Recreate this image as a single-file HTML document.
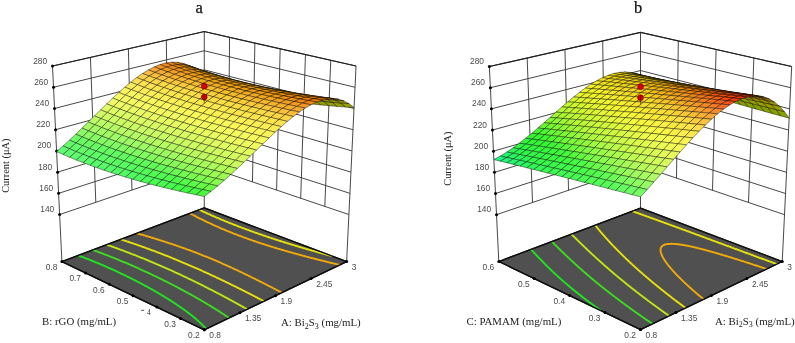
<!DOCTYPE html><html><head><meta charset="utf-8"><style>html,body{margin:0;padding:0;background:#fff}svg{display:block;will-change:transform}</style></head><body>
<svg width="795" height="343" viewBox="0 0 795 343">
<rect width="795" height="343" fill="#fff"/>
<path d="M59.64 214.56L204.27 165.56M204.27 165.56L348.9 214.56M58.62 193.35L204.27 146.42M204.27 146.42L349.92 193.35M57.6 172.13L204.27 127.28M204.27 127.28L350.94 172.13M56.58 150.92L204.27 108.14M204.27 108.14L351.97 150.92M55.56 129.7L204.27 89M204.27 89L352.99 129.7M54.53 108.49L204.27 69.86M204.27 69.86L354.01 108.49M53.51 87.27L204.27 50.72M204.27 50.72L355.03 87.27M52.49 66.06L204.27 31.58M204.27 31.58L356.05 66.06M95.8 202.31L90.44 57.44M131.96 190.06L128.38 48.82M168.11 177.81L166.33 40.2M228.38 173.73L229.57 37.33M252.48 181.9L254.86 43.07M276.59 190.06L280.16 48.82M300.69 198.23L305.46 54.57M324.8 206.4L330.75 60.31M204.27 207.96L204.27 31.58" stroke="#333" stroke-width="0.9" fill="none"/>
<path d="M61.9 261.55L52.49 66.06M346.64 261.55L356.05 66.06" stroke="#333" stroke-width="0.9" fill="none"/>
<path d="M52.49 66.06L204.27 31.58L356.05 66.06" stroke="#222" stroke-width="1.1" fill="none"/>
<path d="M204.27 329.84 L346.64 261.55 L204.27 207.96 L61.9 261.55 Z" fill="#505050" stroke="#111" stroke-width="1.3" stroke-linejoin="round"/>
<path d="M206.15 328.94 L205.95 328.71 L205.75 328.48 L205.35 328.03 L204.95 327.59 L204.94 327.58 L204.53 327.14 L204.12 326.7 L203.87 326.43 L203.7 326.26 L203.28 325.82 L202.86 325.38 L202.72 325.24 L202.43 324.95 L201.99 324.52 L201.56 324.1 L201.48 324.02 L201.12 323.67 L200.68 323.25 L200.24 322.83 L200.16 322.76 L199.79 322.41 L199.34 322 L198.89 321.58 L198.75 321.45 L198.44 321.17 L197.98 320.76 L197.52 320.35 L197.24 320.11 L197.06 319.95 L196.59 319.55 L196.13 319.14 L195.66 318.74 L195.63 318.72 L195.19 318.35 L194.72 317.95 L194.25 317.56 L193.92 317.28 L193.77 317.16 L193.3 316.77 L192.82 316.38 L192.34 316 L192.08 315.79 L191.86 315.61 L191.37 315.23 L190.89 314.84 L190.4 314.46 L190.13 314.25 L189.91 314.08 L189.42 313.7 L188.93 313.33 L188.44 312.95 L188.04 312.64 L187.95 312.58 L187.45 312.2 L186.96 311.83 L186.46 311.46 L185.96 311.09 L185.8 310.97 L185.46 310.73 L184.96 310.36 L184.46 310 L183.96 309.63 L183.46 309.27 L183.41 309.23 L182.95 308.91 L182.45 308.55 L181.94 308.19 L181.43 307.83 L180.92 307.48 L180.83 307.41 L180.42 307.12 L179.9 306.77 L179.39 306.42 L178.88 306.06 L178.37 305.71 L178.05 305.5 L177.86 305.36 L177.34 305.02 L176.83 304.67 L176.31 304.32 L175.79 303.98 L175.28 303.63 L175.05 303.49 L174.76 303.29 L174.24 302.95 L173.72 302.61 L173.2 302.27 L172.68 301.93 L172.16 301.59 L171.78 301.35 L171.63 301.26 L171.11 300.92 L170.59 300.59 L170.06 300.25 L169.54 299.92 L169.01 299.59 L168.49 299.26 L168.19 299.07 L167.96 298.93 L167.43 298.6 L166.91 298.27 L166.38 297.94 L165.85 297.62 L165.32 297.29 L164.79 296.97 L164.26 296.64 L164.22 296.62 L163.73 296.32 L163.2 296 L162.67 295.68 L162.14 295.36 L161.6 295.04 L161.07 294.72 L160.54 294.41 L160 294.09 L159.75 293.94 L159.47 293.77 L158.93 293.46 L158.4 293.14 L157.86 292.83 L157.33 292.52 L156.79 292.21 L156.25 291.9 L155.71 291.59 L155.18 291.28 L154.64 290.97 L154.61 290.96 L154.1 290.66 L153.56 290.36 L153.02 290.05 L152.48 289.75 L151.94 289.44 L151.4 289.14 L150.86 288.83 L150.32 288.53 L149.78 288.23 L149.23 287.93 L148.69 287.63 L148.46 287.51 L148.15 287.33 L147.61 287.03 L147.06 286.74 L146.52 286.44 L145.97 286.14 L145.43 285.85 L144.88 285.56 L144.34 285.26 L143.79 284.97 L143.25 284.68 L142.7 284.38 L142.15 284.09 L141.61 283.8 L141.06 283.51 L140.52 283.23 L140.51 283.23 L139.97 282.94 L139.42 282.65 L138.87 282.36 L138.32 282.08 L137.77 281.79 L137.22 281.51 L136.67 281.23 L136.12 280.94 L135.57 280.66 L135.02 280.38 L134.47 280.1 L133.92 279.82 L133.36 279.54 L132.81 279.26 L132.26 278.98 L131.71 278.7 L131.15 278.43 L130.6 278.15 L130.05 277.87 L129.49 277.6 L128.94 277.32 L128.38 277.05 L127.83 276.78 L127.27 276.51 L126.92 276.33 L126.72 276.23 L126.16 275.96 L125.61 275.69 L125.05 275.42 L124.49 275.15 L123.94 274.89 L123.38 274.62 L122.82 274.35 L122.26 274.09 L121.7 273.82 L121.15 273.55 L120.59 273.29 L120.03 273.03 L119.47 272.76 L118.91 272.5 L118.35 272.24 L117.79 271.98 L117.23 271.72 L116.66 271.46 L116.1 271.2 L115.54 270.94 L114.98 270.68 L114.42 270.42 L113.85 270.17 L113.29 269.91 L112.73 269.65 L112.16 269.4 L111.6 269.14 L111.03 268.89 L110.47 268.64 L109.9 268.38 L109.34 268.13 L108.77 267.88 L108.2 267.63 L108.09 267.58 L107.64 267.38 L107.07 267.13 L106.5 266.88 L105.93 266.63 L105.37 266.39 L104.8 266.14 L104.23 265.89 L103.66 265.65 L103.09 265.4 L102.52 265.16 L101.95 264.91 L101.38 264.67 L100.8 264.43 L100.23 264.18 L99.66 263.94 L99.09 263.7 L98.52 263.46 L97.94 263.22 L97.37 262.98 L96.79 262.74 L96.22 262.51 L95.64 262.27 L95.07 262.03 L94.49 261.8 L94.18 261.67 L93.92 261.56 L93.34 261.32 L92.76 261.09 L92.19 260.86 L91.61 260.62 L91.03 260.39 L90.45 260.16 L89.87 259.93 L89.29 259.7 L88.71 259.47 L88.13 259.24 L87.55 259.01 L86.97 258.78 L86.39 258.55 L85.88 258.35 L85.8 258.32 L85.22 258.1 L84.64 257.87 L84.05 257.65 L83.47 257.42 L82.88 257.2 L82.3 256.97 L81.71 256.75 L81.12 256.53 L80.54 256.31 L79.95 256.08 L79.36 255.86 L79.36 255.86 L78.77 255.64 L78.18 255.42" stroke="#1ee61e" stroke-width="1.9" fill="none" stroke-linejoin="round"/>
<path d="M229.09 317.93 L228.54 317.56 L228 317.19 L227.93 317.15 L227.45 316.83 L226.9 316.46 L226.35 316.09 L225.8 315.73 L225.25 315.36 L225.01 315.2 L224.7 315 L224.15 314.64 L223.6 314.28 L223.05 313.92 L222.49 313.56 L221.94 313.2 L221.91 313.18 L221.39 312.84 L220.84 312.49 L220.28 312.13 L219.73 311.78 L219.17 311.42 L218.63 311.08 L218.62 311.07 L218.07 310.72 L217.51 310.37 L216.96 310.02 L216.4 309.67 L215.84 309.32 L215.29 308.98 L215.14 308.88 L214.73 308.63 L214.18 308.28 L213.62 307.94 L213.06 307.6 L212.5 307.25 L211.95 306.91 L211.41 306.58 L211.39 306.57 L210.83 306.23 L210.27 305.89 L209.72 305.55 L209.16 305.22 L208.6 304.88 L208.04 304.54 L207.48 304.21 L207.42 304.17 L206.92 303.87 L206.36 303.54 L205.8 303.21 L205.24 302.87 L204.68 302.54 L204.12 302.21 L203.56 301.88 L203.11 301.62 L203 301.55 L202.44 301.23 L201.88 300.9 L201.32 300.57 L200.76 300.25 L200.2 299.92 L199.64 299.6 L199.08 299.27 L198.52 298.95 L198.42 298.9 L197.96 298.63 L197.4 298.31 L196.83 297.99 L196.27 297.67 L195.71 297.35 L195.15 297.03 L194.59 296.71 L194.03 296.4 L193.46 296.08 L193.26 295.96 L192.9 295.76 L192.34 295.45 L191.78 295.14 L191.21 294.82 L190.65 294.51 L190.09 294.2 L189.53 293.89 L188.96 293.58 L188.4 293.27 L187.84 292.96 L187.47 292.76 L187.28 292.65 L186.71 292.34 L186.15 292.03 L185.59 291.73 L185.02 291.42 L184.46 291.12 L183.89 290.81 L183.33 290.51 L182.77 290.21 L182.2 289.9 L181.64 289.6 L181.08 289.3 L180.79 289.15 L180.51 289 L179.95 288.7 L179.38 288.4 L178.82 288.1 L178.26 287.81 L177.69 287.51 L177.13 287.21 L176.56 286.92 L176 286.62 L175.43 286.33 L174.87 286.03 L174.3 285.74 L173.74 285.45 L173.17 285.15 L172.69 284.91 L172.61 284.86 L172.04 284.57 L171.48 284.28 L170.91 283.99 L170.35 283.7 L169.78 283.42 L169.22 283.13 L168.65 282.84 L168.08 282.55 L167.52 282.27 L166.95 281.98 L166.39 281.7 L165.82 281.42 L165.26 281.13 L164.69 280.85 L164.12 280.57 L163.56 280.29 L162.99 280 L162.42 279.72 L161.86 279.44 L161.55 279.3 L161.29 279.17 L160.72 278.89 L160.16 278.61 L159.59 278.33 L159.02 278.06 L158.46 277.78 L157.89 277.5 L157.32 277.23 L156.75 276.95 L156.19 276.68 L155.62 276.41 L155.05 276.13 L154.48 275.86 L153.92 275.59 L153.35 275.32 L152.78 275.05 L152.21 274.78 L151.64 274.51 L151.07 274.24 L150.51 273.97 L149.94 273.71 L149.37 273.44 L148.8 273.17 L148.23 272.91 L147.66 272.64 L147.09 272.38 L146.52 272.11 L145.95 271.85 L145.38 271.59 L144.81 271.33 L144.24 271.06 L143.67 270.8 L143.1 270.54 L142.53 270.28 L141.96 270.02 L141.39 269.76 L140.82 269.51 L140.25 269.25 L139.68 268.99 L139.11 268.73 L138.54 268.48 L137.97 268.22 L137.39 267.97 L136.82 267.71 L136.25 267.46 L135.68 267.2 L135.11 266.95 L134.53 266.7 L133.96 266.45 L133.39 266.2 L132.82 265.95 L132.24 265.7 L131.67 265.45 L131.1 265.2 L130.52 264.95 L129.95 264.7 L129.38 264.45 L128.8 264.21 L128.23 263.96 L127.65 263.71 L127.08 263.47 L126.51 263.22 L125.93 262.98 L125.36 262.74 L124.78 262.49 L124.2 262.25 L123.63 262.01 L123.05 261.77 L122.48 261.53 L121.9 261.29 L121.32 261.05 L120.9 260.87 L120.75 260.81 L120.17 260.57 L119.59 260.33 L119.02 260.09 L118.44 259.85 L117.86 259.62 L117.28 259.38 L116.71 259.15 L116.13 258.91 L115.55 258.68 L114.97 258.44 L114.39 258.21 L113.81 257.97 L113.23 257.74 L112.65 257.51 L112.07 257.28 L111.49 257.05 L110.91 256.82 L110.33 256.59 L109.93 256.43 L109.75 256.36 L109.17 256.13 L108.59 255.9 L108 255.67 L107.42 255.45 L106.84 255.22 L106.26 254.99 L105.67 254.77 L105.09 254.54 L104.51 254.32 L103.92 254.09 L103.34 253.87 L102.76 253.65 L102.17 253.42 L101.97 253.35 L101.59 253.2 L101 252.98 L100.41 252.76 L99.83 252.54 L99.24 252.32 L98.66 252.1 L98.07 251.88 L97.48 251.66 L96.89 251.44 L96.31 251.23 L95.72 251.01 L95.41 250.89 L95.13 250.79 L94.54 250.58 L93.95 250.36 L93.36 250.15 L92.77 249.93" stroke="#3cdc1e" stroke-width="1.9" fill="none" stroke-linejoin="round"/>
<path d="M247.16 309.27 L247.07 309.22 L246.57 308.93 L245.97 308.59 L245.38 308.26 L244.78 307.92 L244.19 307.59 L243.6 307.25 L243 306.92 L242.41 306.58 L242.23 306.48 L241.82 306.25 L241.23 305.92 L240.63 305.59 L240.04 305.26 L239.45 304.93 L238.86 304.6 L238.26 304.27 L237.67 303.94 L237.11 303.63 L237.08 303.61 L236.49 303.29 L235.9 302.96 L235.31 302.63 L234.72 302.31 L234.13 301.98 L233.54 301.66 L232.95 301.34 L232.36 301.02 L231.77 300.69 L231.63 300.62 L231.18 300.37 L230.59 300.05 L230 299.73 L229.41 299.41 L228.82 299.09 L228.23 298.78 L227.64 298.46 L227.06 298.14 L226.47 297.83 L225.88 297.51 L225.72 297.42 L225.29 297.2 L224.7 296.88 L224.12 296.57 L223.53 296.26 L222.94 295.94 L222.35 295.63 L221.77 295.32 L221.18 295.01 L220.59 294.7 L220.01 294.39 L219.42 294.08 L219.24 293.99 L218.83 293.77 L218.25 293.47 L217.66 293.16 L217.08 292.85 L216.49 292.55 L215.91 292.24 L215.32 291.94 L214.74 291.63 L214.15 291.33 L213.57 291.03 L212.98 290.72 L212.4 290.42 L211.97 290.21 L211.81 290.12 L211.23 289.82 L210.64 289.52 L210.06 289.22 L209.47 288.92 L208.89 288.63 L208.31 288.33 L207.72 288.03 L207.14 287.74 L206.56 287.44 L205.97 287.14 L205.39 286.85 L204.81 286.56 L204.22 286.26 L203.64 285.97 L203.5 285.9 L203.06 285.68 L202.47 285.38 L201.89 285.09 L201.31 284.8 L200.73 284.51 L200.14 284.22 L199.56 283.93 L198.98 283.65 L198.4 283.36 L197.82 283.07 L197.23 282.78 L196.65 282.5 L196.07 282.21 L195.49 281.93 L194.91 281.64 L194.33 281.36 L193.74 281.08 L193.16 280.79 L192.78 280.61 L192.58 280.51 L192 280.23 L191.42 279.95 L190.84 279.67 L190.26 279.39 L189.68 279.11 L189.09 278.83 L188.51 278.55 L187.93 278.27 L187.35 278 L186.77 277.72 L186.19 277.44 L185.61 277.17 L185.03 276.89 L184.45 276.62 L183.87 276.34 L183.29 276.07 L182.71 275.8 L182.13 275.53 L181.55 275.25 L180.96 274.98 L180.38 274.71 L179.8 274.44 L179.22 274.17 L178.64 273.9 L178.06 273.63 L177.48 273.37 L176.9 273.1 L176.32 272.83 L175.74 272.56 L175.16 272.3 L174.58 272.03 L174 271.77 L173.81 271.68 L173.42 271.5 L172.84 271.24 L172.26 270.98 L171.68 270.71 L171.1 270.45 L170.52 270.19 L169.94 269.93 L169.36 269.67 L168.78 269.41 L168.2 269.15 L167.61 268.89 L167.03 268.63 L166.45 268.37 L165.87 268.12 L165.29 267.86 L164.71 267.6 L164.13 267.35 L163.55 267.09 L162.97 266.84 L162.39 266.58 L161.81 266.33 L161.23 266.08 L160.65 265.82 L160.06 265.57 L159.48 265.32 L158.9 265.07 L158.32 264.82 L157.74 264.57 L157.16 264.32 L156.58 264.07 L156.53 264.05 L155.99 263.82 L155.41 263.57 L154.83 263.32 L154.25 263.08 L153.67 262.83 L153.09 262.58 L152.5 262.34 L151.92 262.09 L151.34 261.85 L150.76 261.6 L150.17 261.36 L149.59 261.12 L149.01 260.87 L148.43 260.63 L147.84 260.39 L147.26 260.15 L146.68 259.91 L146.1 259.67 L145.51 259.43 L144.93 259.19 L144.35 258.95 L143.76 258.71 L143.18 258.48 L142.59 258.24 L142.01 258 L141.43 257.77 L140.84 257.53 L140.26 257.3 L139.67 257.06 L139.09 256.83 L138.5 256.59 L138.3 256.51 L137.92 256.36 L137.33 256.13 L136.75 255.9 L136.16 255.66 L135.58 255.43 L134.99 255.2 L134.41 254.97 L133.82 254.74 L133.24 254.51 L132.65 254.28 L132.06 254.06 L131.48 253.83 L130.89 253.6 L130.3 253.38 L129.72 253.15 L129.13 252.92 L128.54 252.7 L128.3 252.61 L127.95 252.47 L127.37 252.25 L126.78 252.02 L126.19 251.8 L125.6 251.58 L125.01 251.36 L124.43 251.13 L123.84 250.91 L123.25 250.69 L122.66 250.47 L122.07 250.25 L121.48 250.03 L120.89 249.81 L120.56 249.69 L120.3 249.59 L119.71 249.38 L119.12 249.16 L118.53 248.94 L117.94 248.73 L117.35 248.51 L116.76 248.29 L116.16 248.08 L115.57 247.86 L114.98 247.65 L114.39 247.44 L114.01 247.3 L113.8 247.22 L113.2 247.01 L112.61 246.8 L112.02 246.59 L111.42 246.37 L110.83 246.16 L110.24 245.95 L109.64 245.74 L109.05 245.53 L108.46 245.32 L108.24 245.25 L107.86 245.12 L107.27 244.91 L106.67 244.7" stroke="#bee614" stroke-width="1.9" fill="none" stroke-linejoin="round"/>
<path d="M263.96 301.21 L263.35 300.89 L262.74 300.57 L262.13 300.25 L261.52 299.93 L260.91 299.61 L260.3 299.29 L259.69 298.98 L259.08 298.66 L259.01 298.62 L258.47 298.34 L257.86 298.03 L257.26 297.71 L256.65 297.4 L256.04 297.08 L255.44 296.77 L254.83 296.46 L254.22 296.14 L253.62 295.83 L253.01 295.52 L252.49 295.25 L252.41 295.21 L251.8 294.9 L251.2 294.59 L250.6 294.28 L249.99 293.97 L249.39 293.66 L248.79 293.35 L248.18 293.05 L247.58 292.74 L246.98 292.43 L246.38 292.13 L245.78 291.82 L245.5 291.68 L245.18 291.52 L244.58 291.21 L243.98 290.91 L243.38 290.61 L242.78 290.31 L242.18 290 L241.58 289.7 L240.98 289.4 L240.38 289.1 L239.78 288.8 L239.18 288.5 L238.58 288.2 L237.99 287.91 L237.81 287.82 L237.39 287.61 L236.79 287.31 L236.19 287.01 L235.6 286.72 L235 286.42 L234.4 286.13 L233.81 285.83 L233.21 285.54 L232.62 285.25 L232.02 284.95 L231.42 284.66 L230.83 284.37 L230.23 284.08 L229.64 283.79 L229.05 283.5 L229.05 283.5 L228.45 283.21 L227.86 282.92 L227.26 282.63 L226.67 282.34 L226.08 282.06 L225.48 281.77 L224.89 281.48 L224.3 281.2 L223.7 280.91 L223.11 280.63 L222.52 280.34 L221.92 280.06 L221.33 279.78 L220.74 279.49 L220.15 279.21 L219.56 278.93 L218.96 278.65 L218.37 278.37 L218.3 278.34 L217.78 278.09 L217.19 277.81 L216.6 277.53 L216.01 277.25 L215.42 276.97 L214.82 276.7 L214.23 276.42 L213.64 276.14 L213.05 275.87 L212.46 275.59 L211.87 275.32 L211.28 275.04 L210.69 274.77 L210.1 274.5 L209.51 274.23 L208.92 273.95 L208.33 273.68 L207.74 273.41 L207.15 273.14 L206.56 272.87 L205.97 272.6 L205.38 272.33 L204.79 272.07 L204.2 271.8 L203.61 271.53 L203.02 271.26 L202.43 271 L201.84 270.73 L201.29 270.48 L201.25 270.47 L200.66 270.2 L200.07 269.94 L199.48 269.68 L198.9 269.41 L198.31 269.15 L197.72 268.89 L197.13 268.63 L196.54 268.37 L195.95 268.11 L195.36 267.85 L194.77 267.59 L194.18 267.33 L193.59 267.07 L193 266.81 L192.41 266.56 L191.82 266.3 L191.23 266.04 L190.64 265.79 L190.05 265.53 L189.46 265.28 L188.87 265.02 L188.29 264.77 L187.7 264.52 L187.11 264.27 L186.52 264.01 L185.93 263.76 L185.34 263.51 L184.75 263.26 L184.16 263.01 L183.57 262.76 L182.98 262.51 L182.39 262.27 L181.8 262.02 L181.2 261.77 L180.61 261.52 L180.02 261.28 L179.43 261.03 L178.84 260.79 L178.25 260.54 L177.66 260.3 L177.07 260.05 L176.91 259.99 L176.48 259.81 L175.89 259.57 L175.3 259.33 L174.71 259.09 L174.11 258.84 L173.52 258.6 L172.93 258.36 L172.34 258.12 L171.75 257.89 L171.15 257.65 L170.56 257.41 L169.97 257.17 L169.38 256.93 L168.79 256.7 L168.19 256.46 L167.6 256.23 L167.01 255.99 L166.41 255.76 L165.82 255.52 L165.23 255.29 L164.64 255.06 L164.04 254.83 L163.45 254.59 L162.85 254.36 L162.26 254.13 L161.67 253.9 L161.07 253.67 L161.02 253.65 L160.48 253.44 L159.88 253.21 L159.29 252.98 L158.69 252.76 L158.1 252.53 L157.5 252.3 L156.91 252.08 L156.31 251.85 L155.72 251.62 L155.12 251.4 L154.53 251.17 L153.93 250.95 L153.33 250.73 L152.74 250.5 L152.14 250.28 L151.54 250.06 L151.43 250.02 L150.95 249.84 L150.35 249.62 L149.75 249.4 L149.15 249.18 L148.56 248.96 L147.96 248.74 L147.36 248.52 L146.76 248.3 L146.16 248.08 L145.57 247.87 L144.97 247.65 L144.37 247.43 L143.88 247.26 L143.77 247.22 L143.17 247 L142.57 246.79 L141.97 246.57 L141.37 246.36 L140.77 246.15 L140.17 245.93 L139.57 245.72 L138.97 245.51 L138.37 245.3 L137.77 245.09 L137.43 244.97 L137.16 244.88 L136.56 244.67 L135.96 244.46 L135.36 244.25 L134.76 244.04 L134.16 243.83 L133.55 243.62 L132.95 243.41 L132.35 243.21 L131.74 243 L131.71 242.99 L131.14 242.79 L130.54 242.59 L129.93 242.38 L129.33 242.18 L128.72 241.98 L128.12 241.77 L127.52 241.57 L126.91 241.37 L126.5 241.23 L126.31 241.16 L125.7 240.96 L125.09 240.76 L124.49 240.56 L123.88 240.36 L123.28 240.16 L122.67 239.96 L122.06 239.76 L121.7 239.64 L121.46 239.56 L120.85 239.36" stroke="#e6e10a" stroke-width="1.9" fill="none" stroke-linejoin="round"/>
<path d="M199.33 209.82 L199.8 210.04 L200.28 210.26 L200.76 210.48 L201.24 210.7 L201.71 210.93 L202.19 211.15 L202.68 211.37 L202.73 211.39 L203.16 211.59 L203.64 211.81 L204.13 212.03 L204.61 212.26 L205.1 212.48 L205.59 212.7 L206.08 212.92 L206.57 213.14 L207.06 213.36 L207.55 213.58 L208.05 213.8 L208.3 213.92 L208.54 214.03 L209.04 214.25 L209.54 214.47 L210.03 214.69 L210.53 214.91 L211.04 215.13 L211.54 215.35 L212.04 215.57 L212.55 215.79 L213.05 216.01 L213.56 216.23 L214.07 216.46 L214.58 216.68 L215.09 216.9 L215.36 217.01 L215.6 217.12 L216.11 217.34 L216.63 217.56 L217.14 217.78 L217.66 218 L218.18 218.22 L218.7 218.44 L219.22 218.66 L219.74 218.88 L220.26 219.1 L220.79 219.32 L221.31 219.54 L221.84 219.76 L222.37 219.98 L222.9 220.2 L223.43 220.41 L223.96 220.63 L224.49 220.85 L225.03 221.07 L225.56 221.29 L226.1 221.51 L226.25 221.57 L226.64 221.73 L227.17 221.95 L227.71 222.17 L228.26 222.38 L228.8 222.6 L229.34 222.82 L229.89 223.04 L230.43 223.26 L230.98 223.48 L231.53 223.69 L232.08 223.91 L232.63 224.13 L233.19 224.35 L233.74 224.57 L234.3 224.78 L234.85 225 L235.41 225.22 L235.97 225.44 L236.53 225.65 L237.09 225.87 L237.65 226.09 L238.22 226.31 L238.78 226.52 L239.35 226.74 L239.92 226.96 L240.49 227.17 L241.06 227.39 L241.63 227.6 L242.2 227.82 L242.78 228.04 L243.36 228.25 L243.93 228.47 L244.51 228.69 L245.09 228.9 L245.67 229.12 L246.25 229.33 L246.84 229.55 L247.42 229.76 L248.01 229.98 L248.6 230.19 L249.19 230.41 L249.78 230.62 L250.37 230.84 L250.96 231.05 L251.55 231.27 L252.15 231.48 L252.75 231.7 L253.34 231.91 L253.94 232.12 L254.12 232.19 L254.54 232.34 L255.14 232.55 L255.75 232.77 L256.35 232.98 L256.96 233.19 L257.56 233.41 L258.17 233.62 L258.78 233.83 L259.39 234.05 L260 234.26 L260.62 234.47 L261.23 234.68 L261.85 234.9 L262.46 235.11 L263.08 235.32 L263.7 235.53 L264.32 235.75 L264.95 235.96 L265.57 236.17 L266.2 236.38 L266.74 236.57 L266.82 236.59 L267.45 236.8 L268.08 237.02 L268.71 237.23 L269.34 237.44 L269.97 237.65 L270.61 237.86 L271.24 238.07 L271.88 238.28 L272.52 238.49 L273.16 238.7 L273.8 238.91 L274.44 239.12 L275.08 239.33 L275.53 239.48 L275.73 239.54 L276.37 239.75 L277.02 239.96 L277.67 240.17 L278.32 240.38 L278.97 240.59 L279.62 240.8 L280.27 241.01 L280.93 241.22 L281.59 241.43 L282.24 241.63 L282.82 241.82 L282.9 241.84 L283.56 242.05 L284.22 242.26 L284.88 242.47 L285.55 242.68 L286.21 242.88 L286.88 243.09 L287.55 243.3 L288.22 243.51 L288.89 243.71 L289.25 243.83 L289.56 243.92 L290.23 244.13 L290.91 244.33 L291.58 244.54 L292.26 244.75 L292.94 244.95 L293.61 245.16 L294.3 245.37 L294.98 245.57 L295.11 245.61 L295.66 245.78 L296.34 245.99 L297.03 246.19 L297.72 246.4 L298.4 246.6 L299.09 246.81 L299.79 247.01 L300.48 247.22 L300.56 247.24 L301.17 247.42 L301.86 247.63 L302.56 247.83 L303.26 248.04 L303.96 248.24 L304.66 248.45 L305.36 248.65 L305.67 248.74 L306.06 248.85 L306.76 249.06 L307.47 249.26 L308.17 249.47 L308.88 249.67 L309.59 249.87 L310.3 250.08 L310.53 250.14 L311.01 250.28 L311.72 250.48 L312.43 250.68 L313.15 250.89 L313.86 251.09 L314.58 251.29 L315.18 251.46 L315.3 251.49 L316.02 251.7 L316.74 251.9 L317.46 252.1 L318.19 252.3 L318.91 252.5 L319.64 252.71 L319.65 252.71 L320.37 252.91 L321.09 253.11 L321.82 253.31 L322.55 253.51 L323.29 253.71 L323.96 253.9 L324.02 253.91 L324.76 254.11 L325.49 254.31 L326.23 254.51 L326.97 254.71 L327.71 254.91 L328.14 255.03 L328.45 255.11 L329.19 255.31 L329.93 255.51 L330.68 255.71 L331.42 255.91 L332.17 256.11 L332.21 256.12" stroke="#e6e10a" stroke-width="1.9" fill="none" stroke-linejoin="round"/>
<path d="M281.81 292.65 L281.21 292.33 L280.61 292.02 L280 291.71 L279.4 291.39 L278.8 291.08 L278.2 290.77 L277.6 290.45 L277 290.14 L276.72 290 L276.4 289.83 L275.8 289.52 L275.2 289.21 L274.61 288.9 L274.01 288.59 L273.41 288.28 L272.81 287.98 L272.22 287.67 L271.62 287.36 L271.31 287.2 L271.03 287.05 L270.43 286.75 L269.84 286.44 L269.24 286.14 L268.65 285.83 L268.05 285.53 L267.46 285.23 L266.87 284.92 L266.27 284.62 L265.68 284.32 L265.68 284.32 L265.09 284.02 L264.5 283.72 L263.91 283.41 L263.32 283.12 L262.73 282.82 L262.14 282.52 L261.55 282.22 L260.95 281.92 L260.37 281.62 L259.78 281.33 L259.74 281.31 L259.19 281.03 L258.6 280.73 L258.01 280.44 L257.42 280.14 L256.83 279.85 L256.25 279.56 L255.66 279.26 L255.07 278.97 L254.48 278.68 L253.89 278.39 L253.35 278.12 L253.31 278.1 L252.72 277.81 L252.13 277.52 L251.55 277.23 L250.96 276.94 L250.38 276.65 L249.79 276.36 L249.2 276.08 L248.62 275.79 L248.03 275.51 L247.45 275.22 L246.86 274.94 L246.28 274.65 L246.24 274.63 L245.69 274.37 L245.11 274.08 L244.52 273.8 L243.94 273.52 L243.35 273.24 L242.77 272.96 L242.18 272.68 L241.6 272.4 L241.01 272.12 L240.43 271.84 L239.84 271.56 L239.26 271.29 L238.67 271.01 L238.09 270.73 L237.83 270.61 L237.5 270.46 L236.92 270.18 L236.33 269.91 L235.75 269.64 L235.16 269.36 L234.58 269.09 L233.99 268.82 L233.41 268.55 L232.82 268.28 L232.24 268.01 L231.65 267.74 L231.07 267.47 L230.48 267.2 L229.89 266.93 L229.31 266.67 L228.72 266.4 L228.14 266.13 L227.55 265.87 L226.96 265.6 L226.38 265.34 L226.06 265.2 L225.79 265.08 L225.2 264.81 L224.61 264.55 L224.03 264.29 L223.44 264.03 L222.85 263.77 L222.26 263.51 L221.67 263.25 L221.09 262.99 L220.5 262.73 L219.91 262.48 L219.32 262.22 L218.73 261.97 L218.14 261.71 L217.55 261.46 L216.96 261.2 L216.37 260.95 L215.78 260.7 L215.19 260.44 L214.59 260.19 L214 259.94 L213.41 259.69 L212.82 259.44 L212.22 259.19 L211.63 258.95 L211.04 258.7 L210.44 258.45 L209.85 258.21 L209.25 257.96 L208.66 257.72 L208.06 257.47 L207.47 257.23 L206.87 256.98 L206.28 256.74 L205.68 256.5 L205.08 256.26 L204.48 256.02 L203.89 255.78 L203.29 255.54 L202.69 255.3 L202.09 255.06 L201.49 254.83 L200.89 254.59 L200.29 254.35 L199.69 254.12 L199.09 253.89 L198.48 253.65 L197.88 253.42 L197.28 253.19 L197.12 253.12 L196.68 252.95 L196.07 252.72 L195.47 252.49 L194.86 252.26 L194.26 252.03 L193.66 251.8 L193.05 251.57 L192.44 251.35 L191.84 251.12 L191.23 250.89 L190.62 250.67 L190.02 250.44 L189.41 250.22 L188.8 249.99 L188.19 249.77 L187.58 249.55 L186.97 249.32 L186.36 249.1 L186.1 249.01 L185.75 248.88 L185.14 248.66 L184.53 248.44 L183.91 248.22 L183.3 248 L182.69 247.79 L182.08 247.57 L181.46 247.35 L180.85 247.13 L180.23 246.92 L179.62 246.7 L179 246.49 L178.51 246.32 L178.38 246.28 L177.77 246.06 L177.15 245.85 L176.54 245.64 L175.92 245.43 L175.3 245.21 L174.68 245 L174.06 244.79 L173.44 244.59 L172.82 244.38 L172.29 244.2 L172.2 244.17 L171.58 243.96 L170.96 243.75 L170.34 243.55 L169.72 243.34 L169.1 243.13 L168.47 242.93 L167.85 242.73 L167.23 242.52 L166.85 242.4 L166.6 242.32 L165.98 242.12 L165.36 241.91 L164.73 241.71 L164.11 241.51 L163.48 241.31 L162.86 241.11 L162.23 240.91 L161.93 240.81 L161.6 240.71 L160.98 240.51 L160.35 240.31 L159.72 240.11 L159.1 239.92 L158.47 239.72 L157.84 239.52 L157.38 239.38 L157.21 239.33 L156.58 239.13 L155.95 238.94 L155.32 238.74 L154.69 238.55 L154.06 238.36 L153.43 238.16 L153.13 238.07 L152.8 237.97 L152.17 237.78 L151.54 237.59 L150.91 237.4 L150.27 237.21 L149.64 237.02 L149.11 236.86 L149.01 236.83 L148.38 236.64 L147.74 236.45 L147.11 236.26 L146.48 236.07 L145.84 235.88 L145.28 235.72 L145.21 235.7 L144.57 235.51 L143.94 235.32 L143.3 235.14 L142.67 234.95 L142.03 234.77 L141.6 234.64 L141.4 234.58 L140.76 234.4 L140.13 234.22 L139.49 234.03 L138.85 233.85 L138.21 233.67 L138.06 233.62 L137.58 233.49 L136.94 233.3" stroke="#f0aa0a" stroke-width="1.9" fill="none" stroke-linejoin="round"/>
<path d="M189.95 213.35 L190.4 213.58 L190.74 213.77 L190.84 213.82 L191.29 214.06 L191.74 214.29 L192.18 214.53 L192.63 214.77 L193.09 215 L193.54 215.24 L193.71 215.33 L193.99 215.47 L194.45 215.71 L194.9 215.95 L195.36 216.18 L195.82 216.42 L196.28 216.66 L196.74 216.89 L196.93 216.99 L197.2 217.13 L197.67 217.36 L198.13 217.6 L198.6 217.83 L199.06 218.07 L199.53 218.31 L200.01 218.54 L200.48 218.78 L200.49 218.78 L200.95 219.01 L201.42 219.25 L201.9 219.48 L202.38 219.72 L202.85 219.95 L203.33 220.19 L203.82 220.42 L204.3 220.66 L204.53 220.77 L204.78 220.89 L205.27 221.13 L205.75 221.36 L206.24 221.59 L206.73 221.83 L207.22 222.06 L207.72 222.3 L208.21 222.53 L208.71 222.76 L209.2 223 L209.26 223.02 L209.7 223.23 L210.2 223.46 L210.7 223.7 L211.2 223.93 L211.71 224.16 L212.21 224.39 L212.72 224.63 L213.23 224.86 L213.74 225.09 L214.25 225.32 L214.76 225.55 L215.21 225.76 L215.28 225.79 L215.79 226.02 L216.31 226.25 L216.83 226.48 L217.35 226.71 L217.87 226.94 L218.4 227.17 L218.92 227.4 L219.45 227.63 L219.98 227.86 L220.51 228.09 L221.04 228.32 L221.57 228.55 L222.11 228.78 L222.64 229.01 L223.18 229.24 L223.72 229.47 L224.26 229.7 L224.35 229.73 L224.81 229.92 L225.35 230.15 L225.9 230.38 L226.45 230.61 L226.99 230.84 L227.55 231.06 L228.1 231.29 L228.65 231.52 L229.21 231.74 L229.77 231.97 L230.33 232.19 L230.89 232.42 L231.45 232.65 L232.01 232.87 L232.58 233.1 L233.15 233.32 L233.72 233.55 L234.29 233.77 L234.86 233.99 L235.43 234.22 L236.01 234.44 L236.59 234.66 L237.17 234.89 L237.75 235.11 L238.33 235.33 L238.92 235.55 L239.5 235.78 L240.09 236 L240.68 236.22 L241.27 236.44 L241.87 236.66 L242.46 236.88 L243.06 237.1 L243.66 237.32 L244.26 237.54 L244.86 237.76 L245.46 237.98 L246.07 238.2 L246.67 238.42 L247.26 238.63 L247.28 238.64 L247.89 238.85 L248.5 239.07 L249.12 239.29 L249.73 239.51 L250.35 239.72 L250.97 239.94 L251.59 240.16 L252.21 240.37 L252.83 240.59 L253.46 240.8 L254.08 241.02 L254.71 241.24 L255.34 241.45 L255.98 241.66 L256.61 241.88 L257.25 242.09 L257.8 242.28 L257.88 242.31 L258.52 242.52 L259.16 242.73 L259.8 242.95 L260.45 243.16 L261.09 243.37 L261.74 243.58 L262.39 243.79 L263.04 244.01 L263.69 244.22 L264.35 244.43 L265 244.64 L265.16 244.69 L265.66 244.85 L266.32 245.06 L266.98 245.27 L267.64 245.48 L268.3 245.69 L268.97 245.9 L269.63 246.1 L270.3 246.31 L270.97 246.52 L271.31 246.62 L271.64 246.73 L272.32 246.94 L272.99 247.14 L273.67 247.35 L274.35 247.56 L275.02 247.77 L275.71 247.97 L276.39 248.18 L276.76 248.29 L277.07 248.38 L277.76 248.59 L278.45 248.79 L279.13 249 L279.82 249.2 L280.52 249.41 L281.21 249.61 L281.76 249.77 L281.91 249.82 L282.6 250.02 L283.3 250.23 L284 250.43 L284.7 250.63 L285.4 250.83 L286.11 251.04 L286.42 251.13 L286.81 251.24 L287.52 251.44 L288.23 251.64 L288.94 251.85 L289.65 252.05 L290.36 252.25 L290.83 252.38 L291.08 252.45 L291.79 252.65 L292.51 252.85 L293.23 253.05 L293.95 253.25 L294.67 253.45 L295.03 253.55 L295.4 253.65 L296.12 253.85 L296.84 254.05 L297.57 254.25 L298.3 254.45 L299.03 254.65 L299.07 254.66 L299.76 254.84 L300.5 255.04 L301.23 255.24 L301.97 255.44 L302.71 255.64 L302.97 255.71 L303.44 255.83 L304.18 256.03 L304.92 256.23 L305.67 256.42 L306.41 256.62 L306.76 256.71 L307.16 256.82 L307.91 257.01 L308.65 257.21 L309.4 257.41 L310.16 257.6 L310.44 257.67 L310.91 257.8 L311.66 257.99 L312.42 258.19 L313.17 258.38 L313.93 258.58 L314.03 258.6 L314.69 258.77 L315.45 258.96 L316.21 259.16 L316.98 259.35 L317.54 259.49 L317.74 259.55 L318.51 259.74 L319.27 259.93 L320.04 260.13 L320.81 260.32 L320.99 260.36 L321.58 260.51 L322.36 260.7 L323.13 260.9 L323.91 261.09 L324.37 261.2 L324.68 261.28 L325.46 261.47 L326.24 261.66 L327.02 261.85 L327.69 262.02 L327.8 262.05 L328.58 262.24 L329.37 262.43 L330.15 262.62 L330.94 262.81 L330.96 262.81 L331.73 263 L332.52 263.19 L333.31 263.38 L334.1 263.57 L334.18 263.59 L334.89 263.76 L335.69 263.95 L336.48 264.14 L337.28 264.33 L337.35 264.34 L338.08 264.52 L338.88 264.71 L339.68 264.89" stroke="#f0aa0a" stroke-width="1.9" fill="none" stroke-linejoin="round"/>
<path d="M204.27 329.84 L346.64 261.55 L204.27 207.96 L61.9 261.55 Z" fill="none" stroke="#111" stroke-width="1.3" stroke-linejoin="round"/>
<circle cx="204.27" cy="329.84" r="1.5" fill="#000"/>
<circle cx="180.54" cy="318.46" r="1.5" fill="#000"/>
<circle cx="156.81" cy="307.08" r="1.5" fill="#000"/>
<circle cx="133.09" cy="295.7" r="1.5" fill="#000"/>
<circle cx="109.36" cy="284.32" r="1.5" fill="#000"/>
<circle cx="85.63" cy="272.93" r="1.5" fill="#000"/>
<circle cx="61.9" cy="261.55" r="1.5" fill="#000"/>
<circle cx="204.27" cy="329.84" r="1.5" fill="#000"/>
<circle cx="239.86" cy="312.77" r="1.5" fill="#000"/>
<circle cx="275.46" cy="295.7" r="1.5" fill="#000"/>
<circle cx="311.05" cy="278.62" r="1.5" fill="#000"/>
<circle cx="346.64" cy="261.55" r="1.5" fill="#000"/>
<circle cx="59.64" cy="214.56" r="1.5" fill="#000"/>
<circle cx="58.62" cy="193.35" r="1.5" fill="#000"/>
<circle cx="57.6" cy="172.13" r="1.5" fill="#000"/>
<circle cx="56.58" cy="150.92" r="1.5" fill="#000"/>
<circle cx="55.56" cy="129.7" r="1.5" fill="#000"/>
<circle cx="54.53" cy="108.49" r="1.5" fill="#000"/>
<circle cx="53.51" cy="87.27" r="1.5" fill="#000"/>
<circle cx="52.49" cy="66.06" r="1.5" fill="#000"/>
<path d="M205.61 75.19L210.93 80.66L204.27 78.15L198.93 72.68Z" fill="#849d00" stroke="#000" stroke-opacity="0.58" stroke-width="0.7" stroke-linejoin="round"/>
<path d="M212.36 77.59L217.67 83.05L210.93 80.66L205.61 75.19Z" fill="#829d00" stroke="#000" stroke-opacity="0.58" stroke-width="0.7" stroke-linejoin="round"/>
<path d="M200.22 70.93L205.61 75.19L198.93 72.68L193.53 68.42Z" fill="#929b00" stroke="#000" stroke-opacity="0.58" stroke-width="0.7" stroke-linejoin="round"/>
<path d="M219.19 79.88L224.48 85.33L217.67 83.05L212.36 77.59Z" fill="#819e00" stroke="#000" stroke-opacity="0.58" stroke-width="0.7" stroke-linejoin="round"/>
<path d="M206.99 73.33L212.36 77.59L205.61 75.19L200.22 70.93Z" fill="#919b00" stroke="#000" stroke-opacity="0.58" stroke-width="0.7" stroke-linejoin="round"/>
<path d="M194.76 67.81L200.22 70.93L193.53 68.42L188.06 65.3Z" fill="#989300" stroke="#000" stroke-opacity="0.58" stroke-width="0.7" stroke-linejoin="round"/>
<path d="M226.1 82.06L231.37 87.5L224.48 85.33L219.19 79.88Z" fill="#809e00" stroke="#000" stroke-opacity="0.58" stroke-width="0.7" stroke-linejoin="round"/>
<path d="M213.83 75.64L219.19 79.88L212.36 77.59L206.99 73.33Z" fill="#909b00" stroke="#000" stroke-opacity="0.58" stroke-width="0.7" stroke-linejoin="round"/>
<path d="M201.54 70.22L206.99 73.33L200.22 70.93L194.76 67.81Z" fill="#989500" stroke="#000" stroke-opacity="0.58" stroke-width="0.7" stroke-linejoin="round"/>
<path d="M189.25 65.78L194.76 67.81L188.06 65.3L182.54 63.27Z" fill="#e2ac00" stroke="#000" stroke-opacity="0.58" stroke-width="0.7" stroke-linejoin="round"/>
<path d="M233.08 84.14L238.34 89.55L231.37 87.5L226.1 82.06Z" fill="#7f9e00" stroke="#000" stroke-opacity="0.58" stroke-width="0.7" stroke-linejoin="round"/>
<path d="M220.75 77.84L226.1 82.06L219.19 79.88L213.83 75.64Z" fill="#8f9b00" stroke="#000" stroke-opacity="0.58" stroke-width="0.7" stroke-linejoin="round"/>
<path d="M208.39 72.54L213.83 75.64L206.99 73.33L201.54 70.22Z" fill="#989700" stroke="#000" stroke-opacity="0.58" stroke-width="0.7" stroke-linejoin="round"/>
<path d="M183.67 64.75L189.25 65.78L182.54 63.27L176.96 62.24Z" fill="#e79601" stroke="#000" stroke-opacity="0.58" stroke-width="0.7" stroke-linejoin="round"/>
<path d="M196.03 68.2L201.54 70.22L194.76 67.81L189.25 65.78Z" fill="#958500" stroke="#000" stroke-opacity="0.58" stroke-width="0.7" stroke-linejoin="round"/>
<path d="M240.15 86.12L245.38 91.48L238.34 89.55L233.08 84.14Z" fill="#7f9e00" stroke="#000" stroke-opacity="0.58" stroke-width="0.7" stroke-linejoin="round"/>
<path d="M227.75 79.95L233.08 84.14L226.1 82.06L220.75 77.84Z" fill="#8e9c00" stroke="#000" stroke-opacity="0.58" stroke-width="0.7" stroke-linejoin="round"/>
<path d="M178.04 64.68L183.67 64.75L176.96 62.24L171.33 62.16Z" fill="#eb8705" stroke="#000" stroke-opacity="0.58" stroke-width="0.7" stroke-linejoin="round"/>
<path d="M215.32 74.77L220.75 77.84L213.83 75.64L208.39 72.54Z" fill="#999800" stroke="#000" stroke-opacity="0.58" stroke-width="0.7" stroke-linejoin="round"/>
<path d="M190.46 67.18L196.03 68.2L189.25 65.78L183.67 64.75Z" fill="#e69c01" stroke="#000" stroke-opacity="0.58" stroke-width="0.7" stroke-linejoin="round"/>
<path d="M202.89 70.53L208.39 72.54L201.54 70.22L196.03 68.2Z" fill="#968900" stroke="#000" stroke-opacity="0.58" stroke-width="0.7" stroke-linejoin="round"/>
<path d="M247.3 87.99L252.52 93.31L245.38 91.48L240.15 86.12Z" fill="#7f9e00" stroke="#000" stroke-opacity="0.58" stroke-width="0.7" stroke-linejoin="round"/>
<path d="M172.37 65.48L178.04 64.68L171.33 62.16L165.65 62.95Z" fill="#ef830e" stroke="#000" stroke-opacity="0.58" stroke-width="0.7" stroke-linejoin="round"/>
<path d="M234.83 81.96L240.15 86.12L233.08 84.14L227.75 79.95Z" fill="#8e9c00" stroke="#000" stroke-opacity="0.58" stroke-width="0.7" stroke-linejoin="round"/>
<path d="M184.84 67.12L190.46 67.18L183.67 64.75L178.04 64.68Z" fill="#eb8e05" stroke="#000" stroke-opacity="0.58" stroke-width="0.7" stroke-linejoin="round"/>
<path d="M222.33 76.9L227.75 79.95L220.75 77.84L215.32 74.77Z" fill="#989900" stroke="#000" stroke-opacity="0.58" stroke-width="0.7" stroke-linejoin="round"/>
<path d="M197.33 69.53L202.89 70.53L196.03 68.2L190.46 67.18Z" fill="#e6a101" stroke="#000" stroke-opacity="0.58" stroke-width="0.7" stroke-linejoin="round"/>
<path d="M209.83 72.77L215.32 74.77L208.39 72.54L202.89 70.53Z" fill="#968c00" stroke="#000" stroke-opacity="0.58" stroke-width="0.7" stroke-linejoin="round"/>
<path d="M166.64 67.08L172.37 65.48L165.65 62.95L159.93 64.55Z" fill="#f28919" stroke="#000" stroke-opacity="0.58" stroke-width="0.7" stroke-linejoin="round"/>
<path d="M254.54 89.76L259.74 95.03L252.52 93.31L247.3 87.99Z" fill="#809e00" stroke="#000" stroke-opacity="0.58" stroke-width="0.7" stroke-linejoin="round"/>
<path d="M179.16 67.92L184.84 67.12L178.04 64.68L172.37 65.48Z" fill="#ef890d" stroke="#000" stroke-opacity="0.58" stroke-width="0.7" stroke-linejoin="round"/>
<path d="M241.99 83.87L247.3 87.99L240.15 86.12L234.83 81.96Z" fill="#8e9c00" stroke="#000" stroke-opacity="0.58" stroke-width="0.7" stroke-linejoin="round"/>
<path d="M191.71 69.48L197.33 69.53L190.46 67.18L184.84 67.12Z" fill="#ea9305" stroke="#000" stroke-opacity="0.58" stroke-width="0.7" stroke-linejoin="round"/>
<path d="M229.43 78.95L234.83 81.96L227.75 79.95L222.33 76.9Z" fill="#989900" stroke="#000" stroke-opacity="0.58" stroke-width="0.7" stroke-linejoin="round"/>
<path d="M204.27 71.8L209.83 72.77L202.89 70.53L197.33 69.53Z" fill="#e6a501" stroke="#000" stroke-opacity="0.58" stroke-width="0.7" stroke-linejoin="round"/>
<path d="M216.85 74.94L222.33 76.9L215.32 74.77L209.83 72.77Z" fill="#968d00" stroke="#000" stroke-opacity="0.58" stroke-width="0.7" stroke-linejoin="round"/>
<path d="M160.88 69.42L166.64 67.08L159.93 64.55L154.16 66.88Z" fill="#f59525" stroke="#000" stroke-opacity="0.58" stroke-width="0.7" stroke-linejoin="round"/>
<path d="M173.44 69.54L179.16 67.92L172.37 65.48L166.64 67.08Z" fill="#f28e18" stroke="#000" stroke-opacity="0.58" stroke-width="0.7" stroke-linejoin="round"/>
<path d="M261.86 91.43L267.05 96.64L259.74 95.03L254.54 89.76Z" fill="#819f00" stroke="#000" stroke-opacity="0.58" stroke-width="0.7" stroke-linejoin="round"/>
<path d="M186.03 70.3L191.71 69.48L184.84 67.12L179.16 67.92Z" fill="#ee8f0c" stroke="#000" stroke-opacity="0.58" stroke-width="0.7" stroke-linejoin="round"/>
<path d="M198.65 71.77L204.27 71.8L197.33 69.53L191.71 69.48Z" fill="#ea9804" stroke="#000" stroke-opacity="0.58" stroke-width="0.7" stroke-linejoin="round"/>
<path d="M249.24 85.7L254.54 89.76L247.3 87.99L241.99 83.87Z" fill="#8e9c00" stroke="#000" stroke-opacity="0.58" stroke-width="0.7" stroke-linejoin="round"/>
<path d="M211.3 73.99L216.85 74.94L209.83 72.77L204.27 71.8Z" fill="#e5a800" stroke="#000" stroke-opacity="0.58" stroke-width="0.7" stroke-linejoin="round"/>
<path d="M236.6 80.91L241.99 83.87L234.83 81.96L229.43 78.95Z" fill="#989900" stroke="#000" stroke-opacity="0.58" stroke-width="0.7" stroke-linejoin="round"/>
<path d="M223.95 77.02L229.43 78.95L222.33 76.9L216.85 74.94Z" fill="#968e00" stroke="#000" stroke-opacity="0.58" stroke-width="0.7" stroke-linejoin="round"/>
<path d="M155.07 72.43L160.88 69.42L154.16 66.88L148.36 69.88Z" fill="#f8a633" stroke="#000" stroke-opacity="0.58" stroke-width="0.7" stroke-linejoin="round"/>
<path d="M167.67 71.89L173.44 69.54L166.64 67.08L160.88 69.42Z" fill="#f59a24" stroke="#000" stroke-opacity="0.58" stroke-width="0.7" stroke-linejoin="round"/>
<path d="M180.31 71.94L186.03 70.3L179.16 67.92L173.44 69.54Z" fill="#f29317" stroke="#000" stroke-opacity="0.58" stroke-width="0.7" stroke-linejoin="round"/>
<path d="M192.98 72.61L198.65 71.77L191.71 69.48L186.03 70.3Z" fill="#ee930b" stroke="#000" stroke-opacity="0.58" stroke-width="0.7" stroke-linejoin="round"/>
<path d="M269.28 93L274.45 98.14L267.05 96.64L261.86 91.43Z" fill="#829f00" stroke="#000" stroke-opacity="0.58" stroke-width="0.7" stroke-linejoin="round"/>
<path d="M149.22 76.03L155.07 72.43L148.36 69.88L142.52 73.47Z" fill="#faba3f" stroke="#000" stroke-opacity="0.58" stroke-width="0.7" stroke-linejoin="round"/>
<path d="M205.68 73.98L211.3 73.99L204.27 71.8L198.65 71.77Z" fill="#ea9b04" stroke="#000" stroke-opacity="0.58" stroke-width="0.7" stroke-linejoin="round"/>
<path d="M256.59 87.43L261.86 91.43L254.54 89.76L249.24 85.7Z" fill="#8f9c00" stroke="#000" stroke-opacity="0.58" stroke-width="0.7" stroke-linejoin="round"/>
<path d="M218.41 76.1L223.95 77.02L216.85 74.94L211.3 73.99Z" fill="#e5ab00" stroke="#000" stroke-opacity="0.58" stroke-width="0.7" stroke-linejoin="round"/>
<path d="M243.87 82.78L249.24 85.7L241.99 83.87L236.6 80.91Z" fill="#989900" stroke="#000" stroke-opacity="0.58" stroke-width="0.7" stroke-linejoin="round"/>
<path d="M231.14 79.02L236.6 80.91L229.43 78.95L223.95 77.02Z" fill="#968e00" stroke="#000" stroke-opacity="0.58" stroke-width="0.7" stroke-linejoin="round"/>
<path d="M161.85 74.91L167.67 71.89L160.88 69.42L155.07 72.43Z" fill="#f8ab31" stroke="#000" stroke-opacity="0.58" stroke-width="0.7" stroke-linejoin="round"/>
<path d="M174.53 74.31L180.31 71.94L173.44 69.54L167.67 71.89Z" fill="#f59f23" stroke="#000" stroke-opacity="0.58" stroke-width="0.7" stroke-linejoin="round"/>
<path d="M143.33 80.17L149.22 76.03L142.52 73.47L136.64 77.6Z" fill="#fbcf4a" stroke="#000" stroke-opacity="0.58" stroke-width="0.7" stroke-linejoin="round"/>
<path d="M187.26 74.27L192.98 72.61L186.03 70.3L180.31 71.94Z" fill="#f29716" stroke="#000" stroke-opacity="0.58" stroke-width="0.7" stroke-linejoin="round"/>
<path d="M200.01 74.86L205.68 73.98L198.65 71.77L192.98 72.61Z" fill="#ee970b" stroke="#000" stroke-opacity="0.58" stroke-width="0.7" stroke-linejoin="round"/>
<path d="M276.79 94.48L281.94 99.54L274.45 98.14L269.28 93Z" fill="#839f00" stroke="#000" stroke-opacity="0.58" stroke-width="0.7" stroke-linejoin="round"/>
<path d="M156 78.53L161.85 74.91L155.07 72.43L149.22 76.03Z" fill="#fabf3d" stroke="#000" stroke-opacity="0.58" stroke-width="0.7" stroke-linejoin="round"/>
<path d="M212.8 76.13L218.41 76.1L211.3 73.99L205.68 73.98Z" fill="#e99e04" stroke="#000" stroke-opacity="0.58" stroke-width="0.7" stroke-linejoin="round"/>
<path d="M264.02 89.07L269.28 93L261.86 91.43L256.59 87.43Z" fill="#8f9c00" stroke="#000" stroke-opacity="0.58" stroke-width="0.7" stroke-linejoin="round"/>
<path d="M225.6 78.14L231.14 79.02L223.95 77.02L218.41 76.1Z" fill="#e5ac00" stroke="#000" stroke-opacity="0.58" stroke-width="0.7" stroke-linejoin="round"/>
<path d="M251.22 84.57L256.59 87.43L249.24 85.7L243.87 82.78Z" fill="#989900" stroke="#000" stroke-opacity="0.58" stroke-width="0.7" stroke-linejoin="round"/>
<path d="M238.41 80.94L243.87 82.78L236.6 80.91L231.14 79.02Z" fill="#968e00" stroke="#000" stroke-opacity="0.58" stroke-width="0.7" stroke-linejoin="round"/>
<path d="M168.72 77.34L174.53 74.31L167.67 71.89L161.85 74.91Z" fill="#f7af30" stroke="#000" stroke-opacity="0.58" stroke-width="0.7" stroke-linejoin="round"/>
<path d="M137.41 84.77L143.33 80.17L136.64 77.6L130.72 82.18Z" fill="#fbe153" stroke="#000" stroke-opacity="0.58" stroke-width="0.7" stroke-linejoin="round"/>
<path d="M181.48 76.66L187.26 74.27L180.31 71.94L174.53 74.31Z" fill="#f5a322" stroke="#000" stroke-opacity="0.58" stroke-width="0.7" stroke-linejoin="round"/>
<path d="M150.1 82.69L156 78.53L149.22 76.03L143.33 80.17Z" fill="#fbd348" stroke="#000" stroke-opacity="0.58" stroke-width="0.7" stroke-linejoin="round"/>
<path d="M194.29 76.54L200.01 74.86L192.98 72.61L187.26 74.27Z" fill="#f19b15" stroke="#000" stroke-opacity="0.58" stroke-width="0.7" stroke-linejoin="round"/>
<path d="M207.13 77.04L212.8 76.13L205.68 73.98L200.01 74.86Z" fill="#ee990a" stroke="#000" stroke-opacity="0.58" stroke-width="0.7" stroke-linejoin="round"/>
<path d="M162.86 80.98L168.72 77.34L161.85 74.91L156 78.53Z" fill="#f9c23c" stroke="#000" stroke-opacity="0.58" stroke-width="0.7" stroke-linejoin="round"/>
<path d="M131.45 89.77L137.41 84.77L130.72 82.18L124.77 87.17Z" fill="#fbea5a" stroke="#000" stroke-opacity="0.58" stroke-width="0.7" stroke-linejoin="round"/>
<path d="M219.99 78.21L225.6 78.14L218.41 76.1L212.8 76.13Z" fill="#e99f03" stroke="#000" stroke-opacity="0.58" stroke-width="0.7" stroke-linejoin="round"/>
<path d="M284.4 95.86L289.53 100.83L281.94 99.54L276.79 94.48Z" fill="#859f00" stroke="#000" stroke-opacity="0.58" stroke-width="0.7" stroke-linejoin="round"/>
<path d="M232.88 80.11L238.41 80.94L231.14 79.02L225.6 78.14Z" fill="#e5ad00" stroke="#000" stroke-opacity="0.58" stroke-width="0.7" stroke-linejoin="round"/>
<path d="M271.55 90.62L276.79 94.48L269.28 93L264.02 89.07Z" fill="#909c00" stroke="#000" stroke-opacity="0.58" stroke-width="0.7" stroke-linejoin="round"/>
<path d="M245.77 82.79L251.22 84.57L243.87 82.78L238.41 80.94Z" fill="#968e00" stroke="#000" stroke-opacity="0.58" stroke-width="0.7" stroke-linejoin="round"/>
<path d="M258.67 86.28L264.02 89.07L256.59 87.43L251.22 84.57Z" fill="#999900" stroke="#000" stroke-opacity="0.58" stroke-width="0.7" stroke-linejoin="round"/>
<path d="M175.66 79.72L181.48 76.66L174.53 74.31L168.72 77.34Z" fill="#f7b32f" stroke="#000" stroke-opacity="0.58" stroke-width="0.7" stroke-linejoin="round"/>
<path d="M144.17 87.3L150.1 82.69L143.33 80.17L137.41 84.77Z" fill="#fbe251" stroke="#000" stroke-opacity="0.58" stroke-width="0.7" stroke-linejoin="round"/>
<path d="M188.51 78.95L194.29 76.54L187.26 74.27L181.48 76.66Z" fill="#f4a621" stroke="#000" stroke-opacity="0.58" stroke-width="0.7" stroke-linejoin="round"/>
<path d="M125.45 95.11L131.45 89.77L124.77 87.17L118.78 92.49Z" fill="#fbf460" stroke="#000" stroke-opacity="0.58" stroke-width="0.7" stroke-linejoin="round"/>
<path d="M156.95 85.15L162.86 80.98L156 78.53L150.1 82.69Z" fill="#fbd747" stroke="#000" stroke-opacity="0.58" stroke-width="0.7" stroke-linejoin="round"/>
<path d="M201.4 78.75L207.13 77.04L200.01 74.86L194.29 76.54Z" fill="#f19e14" stroke="#000" stroke-opacity="0.58" stroke-width="0.7" stroke-linejoin="round"/>
<path d="M214.33 79.15L219.99 78.21L212.8 76.13L207.13 77.04Z" fill="#ed9b0a" stroke="#000" stroke-opacity="0.58" stroke-width="0.7" stroke-linejoin="round"/>
<path d="M169.79 83.37L175.66 79.72L168.72 77.34L162.86 80.98Z" fill="#f9c53b" stroke="#000" stroke-opacity="0.58" stroke-width="0.7" stroke-linejoin="round"/>
<path d="M138.2 92.32L144.17 87.3L137.41 84.77L131.45 89.77Z" fill="#fbec59" stroke="#000" stroke-opacity="0.58" stroke-width="0.7" stroke-linejoin="round"/>
<path d="M227.28 80.23L232.88 80.11L225.6 78.14L219.99 78.21Z" fill="#e9a003" stroke="#000" stroke-opacity="0.58" stroke-width="0.7" stroke-linejoin="round"/>
<path d="M292.11 97.14L297.22 102.02L289.53 100.83L284.4 95.86Z" fill="#879f00" stroke="#000" stroke-opacity="0.58" stroke-width="0.7" stroke-linejoin="round"/>
<path d="M240.25 82.01L245.77 82.79L238.41 80.94L232.88 80.11Z" fill="#e5ad00" stroke="#000" stroke-opacity="0.58" stroke-width="0.7" stroke-linejoin="round"/>
<path d="M279.17 92.09L284.4 95.86L276.79 94.48L271.55 90.62Z" fill="#929c00" stroke="#000" stroke-opacity="0.58" stroke-width="0.7" stroke-linejoin="round"/>
<path d="M253.23 84.56L258.67 86.28L251.22 84.57L245.77 82.79Z" fill="#978e00" stroke="#000" stroke-opacity="0.58" stroke-width="0.7" stroke-linejoin="round"/>
<path d="M266.21 87.9L271.55 90.62L264.02 89.07L258.67 86.28Z" fill="#9a9900" stroke="#000" stroke-opacity="0.58" stroke-width="0.7" stroke-linejoin="round"/>
<path d="M119.41 100.72L125.45 95.11L118.78 92.49L112.76 98.08Z" fill="#f9fb64" stroke="#000" stroke-opacity="0.58" stroke-width="0.7" stroke-linejoin="round"/>
<path d="M182.68 82.03L188.51 78.95L181.48 76.66L175.66 79.72Z" fill="#f7b62e" stroke="#000" stroke-opacity="0.58" stroke-width="0.7" stroke-linejoin="round"/>
<path d="M151.01 89.79L156.95 85.15L150.1 82.69L144.17 87.3Z" fill="#fbe450" stroke="#000" stroke-opacity="0.58" stroke-width="0.7" stroke-linejoin="round"/>
<path d="M195.62 81.19L201.4 78.75L194.29 76.54L188.51 78.95Z" fill="#f4a820" stroke="#000" stroke-opacity="0.58" stroke-width="0.7" stroke-linejoin="round"/>
<path d="M132.19 97.68L138.2 92.32L131.45 89.77L125.45 95.11Z" fill="#fbf55f" stroke="#000" stroke-opacity="0.58" stroke-width="0.7" stroke-linejoin="round"/>
<path d="M163.88 87.56L169.79 83.37L162.86 80.98L156.95 85.15Z" fill="#fbda46" stroke="#000" stroke-opacity="0.58" stroke-width="0.7" stroke-linejoin="round"/>
<path d="M208.6 80.9L214.33 79.15L207.13 77.04L201.4 78.75Z" fill="#f1a014" stroke="#000" stroke-opacity="0.58" stroke-width="0.7" stroke-linejoin="round"/>
<path d="M113.34 106.54L119.41 100.72L112.76 98.08L106.7 103.88Z" fill="#effb64" stroke="#000" stroke-opacity="0.58" stroke-width="0.7" stroke-linejoin="round"/>
<path d="M221.62 81.21L227.28 80.23L219.99 78.21L214.33 79.15Z" fill="#ed9d0a" stroke="#000" stroke-opacity="0.58" stroke-width="0.7" stroke-linejoin="round"/>
<path d="M176.81 85.72L182.68 82.03L175.66 79.72L169.79 83.37Z" fill="#f9c83a" stroke="#000" stroke-opacity="0.58" stroke-width="0.7" stroke-linejoin="round"/>
<path d="M145.03 94.82L151.01 89.79L144.17 87.3L138.2 92.32Z" fill="#fbed58" stroke="#000" stroke-opacity="0.58" stroke-width="0.7" stroke-linejoin="round"/>
<path d="M234.66 82.18L240.25 82.01L232.88 80.11L227.28 80.23Z" fill="#e9a003" stroke="#000" stroke-opacity="0.58" stroke-width="0.7" stroke-linejoin="round"/>
<path d="M299.92 98.34L305.01 103.1L297.22 102.02L292.11 97.14Z" fill="#899f00" stroke="#000" stroke-opacity="0.58" stroke-width="0.7" stroke-linejoin="round"/>
<path d="M247.71 83.84L253.23 84.56L245.77 82.79L240.25 82.01Z" fill="#e5ac00" stroke="#000" stroke-opacity="0.58" stroke-width="0.7" stroke-linejoin="round"/>
<path d="M126.14 103.31L132.19 97.68L125.45 95.11L119.41 100.72Z" fill="#f8fb63" stroke="#000" stroke-opacity="0.58" stroke-width="0.7" stroke-linejoin="round"/>
<path d="M260.78 86.25L266.21 87.9L258.67 86.28L253.23 84.56Z" fill="#978d00" stroke="#000" stroke-opacity="0.58" stroke-width="0.7" stroke-linejoin="round"/>
<path d="M286.89 93.47L292.11 97.14L284.4 95.86L279.17 92.09Z" fill="#939c00" stroke="#000" stroke-opacity="0.58" stroke-width="0.7" stroke-linejoin="round"/>
<path d="M189.79 84.3L195.62 81.19L188.51 78.95L182.68 82.03Z" fill="#f7b82d" stroke="#000" stroke-opacity="0.58" stroke-width="0.7" stroke-linejoin="round"/>
<path d="M273.84 89.45L279.17 92.09L271.55 90.62L266.21 87.9Z" fill="#9a9800" stroke="#000" stroke-opacity="0.58" stroke-width="0.7" stroke-linejoin="round"/>
<path d="M157.93 92.22L163.88 87.56L156.95 85.15L151.01 89.79Z" fill="#fbe54f" stroke="#000" stroke-opacity="0.58" stroke-width="0.7" stroke-linejoin="round"/>
<path d="M107.22 112.53L113.34 106.54L106.7 103.88L100.6 109.84Z" fill="#e1fb64" stroke="#000" stroke-opacity="0.58" stroke-width="0.7" stroke-linejoin="round"/>
<path d="M202.82 83.38L208.6 80.9L201.4 78.75L195.62 81.19Z" fill="#f4aa20" stroke="#000" stroke-opacity="0.58" stroke-width="0.7" stroke-linejoin="round"/>
<path d="M139.01 100.2L145.03 94.82L138.2 92.32L132.19 97.68Z" fill="#fbf75e" stroke="#000" stroke-opacity="0.58" stroke-width="0.7" stroke-linejoin="round"/>
<path d="M170.9 89.93L176.81 85.72L169.79 83.37L163.88 87.56Z" fill="#fbdc45" stroke="#000" stroke-opacity="0.58" stroke-width="0.7" stroke-linejoin="round"/>
<path d="M215.89 83L221.62 81.21L214.33 79.15L208.6 80.9Z" fill="#f1a114" stroke="#000" stroke-opacity="0.58" stroke-width="0.7" stroke-linejoin="round"/>
<path d="M120.05 109.15L126.14 103.31L119.41 100.72L113.34 106.54Z" fill="#eefb64" stroke="#000" stroke-opacity="0.58" stroke-width="0.7" stroke-linejoin="round"/>
<path d="M228.99 83.21L234.66 82.18L227.28 80.23L221.62 81.21Z" fill="#ed9d0a" stroke="#000" stroke-opacity="0.58" stroke-width="0.7" stroke-linejoin="round"/>
<path d="M151.94 97.27L157.93 92.22L151.01 89.79L145.03 94.82Z" fill="#fbee57" stroke="#000" stroke-opacity="0.58" stroke-width="0.7" stroke-linejoin="round"/>
<path d="M183.92 88.01L189.79 84.3L182.68 82.03L176.81 85.72Z" fill="#f9ca39" stroke="#000" stroke-opacity="0.58" stroke-width="0.7" stroke-linejoin="round"/>
<path d="M101.07 118.62L107.22 112.53L100.6 109.84L94.46 115.91Z" fill="#d1fb64" stroke="#000" stroke-opacity="0.58" stroke-width="0.7" stroke-linejoin="round"/>
<path d="M242.12 84.06L247.71 83.84L240.25 82.01L234.66 82.18Z" fill="#e9a003" stroke="#000" stroke-opacity="0.58" stroke-width="0.7" stroke-linejoin="round"/>
<path d="M255.27 85.61L260.78 86.25L253.23 84.56L247.71 83.84Z" fill="#e5aa00" stroke="#000" stroke-opacity="0.58" stroke-width="0.7" stroke-linejoin="round"/>
<path d="M132.95 105.84L139.01 100.2L132.19 97.68L126.14 103.31Z" fill="#f6fb62" stroke="#000" stroke-opacity="0.58" stroke-width="0.7" stroke-linejoin="round"/>
<path d="M307.83 99.44L312.91 104.09L305.01 103.1L299.92 98.34Z" fill="#8b9f00" stroke="#000" stroke-opacity="0.58" stroke-width="0.7" stroke-linejoin="round"/>
<path d="M196.99 86.52L202.82 83.38L195.62 81.19L189.79 84.3Z" fill="#f7ba2c" stroke="#000" stroke-opacity="0.58" stroke-width="0.7" stroke-linejoin="round"/>
<path d="M268.42 87.88L273.84 89.45L266.21 87.9L260.78 86.25Z" fill="#978d00" stroke="#000" stroke-opacity="0.58" stroke-width="0.7" stroke-linejoin="round"/>
<path d="M294.72 94.76L299.92 98.34L292.11 97.14L286.89 93.47Z" fill="#959c00" stroke="#000" stroke-opacity="0.58" stroke-width="0.7" stroke-linejoin="round"/>
<path d="M281.58 90.92L286.89 93.47L279.17 92.09L273.84 89.45Z" fill="#9a9700" stroke="#000" stroke-opacity="0.58" stroke-width="0.7" stroke-linejoin="round"/>
<path d="M164.94 94.61L170.9 89.93L163.88 87.56L157.93 92.22Z" fill="#fbe64e" stroke="#000" stroke-opacity="0.58" stroke-width="0.7" stroke-linejoin="round"/>
<path d="M113.92 115.16L120.05 109.15L113.34 106.54L107.22 112.53Z" fill="#dffb64" stroke="#000" stroke-opacity="0.58" stroke-width="0.7" stroke-linejoin="round"/>
<path d="M210.11 85.51L215.89 83L208.6 80.9L202.82 83.38Z" fill="#f4ac1f" stroke="#000" stroke-opacity="0.58" stroke-width="0.7" stroke-linejoin="round"/>
<path d="M94.87 124.75L101.07 118.62L94.46 115.91L88.27 122.02Z" fill="#befb64" stroke="#000" stroke-opacity="0.58" stroke-width="0.7" stroke-linejoin="round"/>
<path d="M145.91 102.67L151.94 97.27L145.03 94.82L139.01 100.2Z" fill="#fbf85d" stroke="#000" stroke-opacity="0.58" stroke-width="0.7" stroke-linejoin="round"/>
<path d="M177.99 92.25L183.92 88.01L176.81 85.72L170.9 89.93Z" fill="#fbdd44" stroke="#000" stroke-opacity="0.58" stroke-width="0.7" stroke-linejoin="round"/>
<path d="M223.27 85.04L228.99 83.21L221.62 81.21L215.89 83Z" fill="#f1a113" stroke="#000" stroke-opacity="0.58" stroke-width="0.7" stroke-linejoin="round"/>
<path d="M126.85 111.71L132.95 105.84L126.14 103.31L120.05 109.15Z" fill="#ecfb64" stroke="#000" stroke-opacity="0.58" stroke-width="0.7" stroke-linejoin="round"/>
<path d="M236.46 85.15L242.12 84.06L234.66 82.18L228.99 83.21Z" fill="#ed9d0a" stroke="#000" stroke-opacity="0.58" stroke-width="0.7" stroke-linejoin="round"/>
<path d="M158.93 99.68L164.94 94.61L157.93 92.22L151.94 97.27Z" fill="#fbef56" stroke="#000" stroke-opacity="0.58" stroke-width="0.7" stroke-linejoin="round"/>
<path d="M191.11 90.26L196.99 86.52L189.79 84.3L183.92 88.01Z" fill="#f9cc38" stroke="#000" stroke-opacity="0.58" stroke-width="0.7" stroke-linejoin="round"/>
<path d="M107.75 121.27L113.92 115.16L107.22 112.53L101.07 118.62Z" fill="#d0fb64" stroke="#000" stroke-opacity="0.58" stroke-width="0.7" stroke-linejoin="round"/>
<path d="M249.68 85.89L255.27 85.61L247.71 83.84L242.12 84.06Z" fill="#e99f03" stroke="#000" stroke-opacity="0.58" stroke-width="0.7" stroke-linejoin="round"/>
<path d="M88.62 130.88L94.87 124.75L88.27 122.02L82.04 128.12Z" fill="#a5fb64" stroke="#000" stroke-opacity="0.58" stroke-width="0.7" stroke-linejoin="round"/>
<path d="M139.84 108.34L145.91 102.67L139.01 100.2L132.95 105.84Z" fill="#f5fb61" stroke="#000" stroke-opacity="0.58" stroke-width="0.7" stroke-linejoin="round"/>
<path d="M262.92 87.31L268.42 87.88L260.78 86.25L255.27 85.61Z" fill="#e5a800" stroke="#000" stroke-opacity="0.58" stroke-width="0.7" stroke-linejoin="round"/>
<path d="M204.27 88.69L210.11 85.51L202.82 83.38L196.99 86.52Z" fill="#f7bb2c" stroke="#000" stroke-opacity="0.58" stroke-width="0.7" stroke-linejoin="round"/>
<path d="M315.85 100.45L320.91 104.97L312.91 104.09L307.83 99.44Z" fill="#8e9f00" stroke="#000" stroke-opacity="0.58" stroke-width="0.7" stroke-linejoin="round"/>
<path d="M276.17 89.44L281.58 90.92L273.84 89.45L268.42 87.88Z" fill="#978a00" stroke="#000" stroke-opacity="0.58" stroke-width="0.7" stroke-linejoin="round"/>
<path d="M172.02 96.95L177.99 92.25L170.9 89.93L164.94 94.61Z" fill="#fbe74d" stroke="#000" stroke-opacity="0.58" stroke-width="0.7" stroke-linejoin="round"/>
<path d="M289.41 92.32L294.72 94.76L286.89 93.47L281.58 90.92Z" fill="#999500" stroke="#000" stroke-opacity="0.58" stroke-width="0.7" stroke-linejoin="round"/>
<path d="M302.64 95.98L307.83 99.44L299.92 98.34L294.72 94.76Z" fill="#979c00" stroke="#000" stroke-opacity="0.58" stroke-width="0.7" stroke-linejoin="round"/>
<path d="M120.71 117.74L126.85 111.71L120.05 109.15L113.92 115.16Z" fill="#ddfb64" stroke="#000" stroke-opacity="0.58" stroke-width="0.7" stroke-linejoin="round"/>
<path d="M217.48 87.6L223.27 85.04L215.89 83L210.11 85.51Z" fill="#f4ac1f" stroke="#000" stroke-opacity="0.58" stroke-width="0.7" stroke-linejoin="round"/>
<path d="M101.54 127.43L107.75 121.27L101.07 118.62L94.87 124.75Z" fill="#bbfb64" stroke="#000" stroke-opacity="0.58" stroke-width="0.7" stroke-linejoin="round"/>
<path d="M152.89 105.1L158.93 99.68L151.94 97.27L145.91 102.67Z" fill="#fbf85c" stroke="#000" stroke-opacity="0.58" stroke-width="0.7" stroke-linejoin="round"/>
<path d="M185.18 94.52L191.11 90.26L183.92 88.01L177.99 92.25Z" fill="#fbde43" stroke="#000" stroke-opacity="0.58" stroke-width="0.7" stroke-linejoin="round"/>
<path d="M82.33 136.97L88.62 130.88L82.04 128.12L75.76 134.18Z" fill="#8dfb64" stroke="#000" stroke-opacity="0.58" stroke-width="0.7" stroke-linejoin="round"/>
<path d="M230.74 87.03L236.46 85.15L228.99 83.21L223.27 85.04Z" fill="#f1a113" stroke="#000" stroke-opacity="0.58" stroke-width="0.7" stroke-linejoin="round"/>
<path d="M133.72 114.22L139.84 108.34L132.95 105.84L126.85 111.71Z" fill="#ebfb64" stroke="#000" stroke-opacity="0.58" stroke-width="0.7" stroke-linejoin="round"/>
<path d="M244.03 87.04L249.68 85.89L242.12 84.06L236.46 85.15Z" fill="#ed9c09" stroke="#000" stroke-opacity="0.58" stroke-width="0.7" stroke-linejoin="round"/>
<path d="M166.01 102.05L172.02 96.95L164.94 94.61L158.93 99.68Z" fill="#fbf055" stroke="#000" stroke-opacity="0.58" stroke-width="0.7" stroke-linejoin="round"/>
<path d="M114.52 123.87L120.71 117.74L113.92 115.16L107.75 121.27Z" fill="#cefb64" stroke="#000" stroke-opacity="0.58" stroke-width="0.7" stroke-linejoin="round"/>
<path d="M198.38 92.46L204.27 88.69L196.99 86.52L191.11 90.26Z" fill="#f9cd38" stroke="#000" stroke-opacity="0.58" stroke-width="0.7" stroke-linejoin="round"/>
<path d="M257.34 87.67L262.92 87.31L255.27 85.61L249.68 85.89Z" fill="#e99d03" stroke="#000" stroke-opacity="0.58" stroke-width="0.7" stroke-linejoin="round"/>
<path d="M95.28 133.58L101.54 127.43L94.87 124.75L88.62 130.88Z" fill="#a2fb64" stroke="#000" stroke-opacity="0.58" stroke-width="0.7" stroke-linejoin="round"/>
<path d="M146.81 110.78L152.89 105.1L145.91 102.67L139.84 108.34Z" fill="#f5fb60" stroke="#000" stroke-opacity="0.58" stroke-width="0.7" stroke-linejoin="round"/>
<path d="M270.67 88.95L276.17 89.44L268.42 87.88L262.92 87.31Z" fill="#e5a500" stroke="#000" stroke-opacity="0.58" stroke-width="0.7" stroke-linejoin="round"/>
<path d="M211.64 90.82L217.48 87.6L210.11 85.51L204.27 88.69Z" fill="#f7bc2b" stroke="#000" stroke-opacity="0.58" stroke-width="0.7" stroke-linejoin="round"/>
<path d="M179.2 99.25L185.18 94.52L177.99 92.25L172.02 96.95Z" fill="#fbe74d" stroke="#000" stroke-opacity="0.58" stroke-width="0.7" stroke-linejoin="round"/>
<path d="M75.99 142.95L82.33 136.97L75.76 134.18L69.43 140.13Z" fill="#6bfb64" stroke="#000" stroke-opacity="0.58" stroke-width="0.7" stroke-linejoin="round"/>
<path d="M284.01 90.93L289.41 92.32L281.58 90.92L276.17 89.44Z" fill="#968700" stroke="#000" stroke-opacity="0.58" stroke-width="0.7" stroke-linejoin="round"/>
<path d="M323.98 101.37L329.02 105.76L320.91 104.97L315.85 100.45Z" fill="#919f00" stroke="#000" stroke-opacity="0.58" stroke-width="0.7" stroke-linejoin="round"/>
<path d="M127.57 120.26L133.72 114.22L126.85 111.71L120.71 117.74Z" fill="#dcfb64" stroke="#000" stroke-opacity="0.58" stroke-width="0.7" stroke-linejoin="round"/>
<path d="M297.35 93.64L302.64 95.98L294.72 94.76L289.41 92.32Z" fill="#999400" stroke="#000" stroke-opacity="0.58" stroke-width="0.7" stroke-linejoin="round"/>
<path d="M310.68 97.11L315.85 100.45L307.83 99.44L302.64 95.98Z" fill="#999c00" stroke="#000" stroke-opacity="0.58" stroke-width="0.7" stroke-linejoin="round"/>
<path d="M224.95 89.64L230.74 87.03L223.27 85.04L217.48 87.6Z" fill="#f4ac1f" stroke="#000" stroke-opacity="0.58" stroke-width="0.7" stroke-linejoin="round"/>
<path d="M108.29 130.04L114.52 123.87L107.75 121.27L101.54 127.43Z" fill="#b9fb64" stroke="#000" stroke-opacity="0.58" stroke-width="0.7" stroke-linejoin="round"/>
<path d="M159.96 107.48L166.01 102.05L158.93 99.68L152.89 105.1Z" fill="#fbf95b" stroke="#000" stroke-opacity="0.58" stroke-width="0.7" stroke-linejoin="round"/>
<path d="M192.45 96.76L198.38 92.46L191.11 90.26L185.18 94.52Z" fill="#fade43" stroke="#000" stroke-opacity="0.58" stroke-width="0.7" stroke-linejoin="round"/>
<path d="M88.97 139.69L95.28 133.58L88.62 130.88L82.33 136.97Z" fill="#89fb64" stroke="#000" stroke-opacity="0.58" stroke-width="0.7" stroke-linejoin="round"/>
<path d="M238.3 88.98L244.03 87.04L236.46 85.15L230.74 87.03Z" fill="#f1a113" stroke="#000" stroke-opacity="0.58" stroke-width="0.7" stroke-linejoin="round"/>
<path d="M140.68 116.69L146.81 110.78L139.84 108.34L133.72 114.22Z" fill="#eafb63" stroke="#000" stroke-opacity="0.58" stroke-width="0.7" stroke-linejoin="round"/>
<path d="M69.59 148.8L75.99 142.95L69.43 140.13L63.05 145.94Z" fill="#64fb6a" stroke="#000" stroke-opacity="0.58" stroke-width="0.7" stroke-linejoin="round"/>
<path d="M173.18 104.37L179.2 99.25L172.02 96.95L166.01 102.05Z" fill="#fbf054" stroke="#000" stroke-opacity="0.58" stroke-width="0.7" stroke-linejoin="round"/>
<path d="M121.37 126.41L127.57 120.26L120.71 117.74L114.52 123.87Z" fill="#cdfb64" stroke="#000" stroke-opacity="0.58" stroke-width="0.7" stroke-linejoin="round"/>
<path d="M251.69 88.88L257.34 87.67L249.68 85.89L244.03 87.04Z" fill="#ed9a0a" stroke="#000" stroke-opacity="0.58" stroke-width="0.7" stroke-linejoin="round"/>
<path d="M205.75 94.63L211.64 90.82L204.27 88.69L198.38 92.46Z" fill="#f9ce37" stroke="#000" stroke-opacity="0.58" stroke-width="0.7" stroke-linejoin="round"/>
<path d="M102.02 136.22L108.29 130.04L101.54 127.43L95.28 133.58Z" fill="#a0fb64" stroke="#000" stroke-opacity="0.58" stroke-width="0.7" stroke-linejoin="round"/>
<path d="M265.1 89.38L270.67 88.95L262.92 87.31L257.34 87.67Z" fill="#e99a03" stroke="#000" stroke-opacity="0.58" stroke-width="0.7" stroke-linejoin="round"/>
<path d="M153.86 113.19L159.96 107.48L152.89 105.1L146.81 110.78Z" fill="#f4fb5f" stroke="#000" stroke-opacity="0.58" stroke-width="0.7" stroke-linejoin="round"/>
<path d="M219.11 92.9L224.95 89.64L217.48 87.6L211.64 90.82Z" fill="#f6bc2b" stroke="#000" stroke-opacity="0.58" stroke-width="0.7" stroke-linejoin="round"/>
<path d="M278.53 90.53L284.01 90.93L276.17 89.44L270.67 88.95Z" fill="#e5a100" stroke="#000" stroke-opacity="0.58" stroke-width="0.7" stroke-linejoin="round"/>
<path d="M82.61 145.7L88.97 139.69L82.33 136.97L75.99 142.95Z" fill="#69fb64" stroke="#000" stroke-opacity="0.58" stroke-width="0.7" stroke-linejoin="round"/>
<path d="M186.46 101.51L192.45 96.76L185.18 94.52L179.2 99.25Z" fill="#fbe84c" stroke="#000" stroke-opacity="0.58" stroke-width="0.7" stroke-linejoin="round"/>
<path d="M134.51 122.75L140.68 116.69L133.72 114.22L127.57 120.26Z" fill="#dbfb64" stroke="#000" stroke-opacity="0.58" stroke-width="0.7" stroke-linejoin="round"/>
<path d="M291.96 92.35L297.35 93.64L289.41 92.32L284.01 90.93Z" fill="#968300" stroke="#000" stroke-opacity="0.58" stroke-width="0.7" stroke-linejoin="round"/>
<path d="M305.4 94.89L310.68 97.11L302.64 95.98L297.35 93.64Z" fill="#999100" stroke="#000" stroke-opacity="0.58" stroke-width="0.7" stroke-linejoin="round"/>
<path d="M332.22 102.21L337.25 106.44L329.02 105.76L323.98 101.37Z" fill="#949f00" stroke="#000" stroke-opacity="0.58" stroke-width="0.7" stroke-linejoin="round"/>
<path d="M318.82 98.17L323.98 101.37L315.85 100.45L310.68 97.11Z" fill="#9c9c00" stroke="#000" stroke-opacity="0.58" stroke-width="0.7" stroke-linejoin="round"/>
<path d="M63.13 154.46L69.59 148.8L63.05 145.94L56.61 151.57Z" fill="#62fb71" stroke="#000" stroke-opacity="0.58" stroke-width="0.7" stroke-linejoin="round"/>
<path d="M232.52 91.64L238.3 88.98L230.74 87.03L224.95 89.64Z" fill="#f4ac1f" stroke="#000" stroke-opacity="0.58" stroke-width="0.7" stroke-linejoin="round"/>
<path d="M115.13 132.61L121.37 126.41L114.52 123.87L108.29 130.04Z" fill="#b7fb64" stroke="#000" stroke-opacity="0.58" stroke-width="0.7" stroke-linejoin="round"/>
<path d="M167.12 109.83L173.18 104.37L166.01 102.05L159.96 107.48Z" fill="#fbfa5a" stroke="#000" stroke-opacity="0.58" stroke-width="0.7" stroke-linejoin="round"/>
<path d="M199.81 98.95L205.75 94.63L198.38 92.46L192.45 96.76Z" fill="#fade42" stroke="#000" stroke-opacity="0.58" stroke-width="0.7" stroke-linejoin="round"/>
<path d="M95.69 142.35L102.02 136.22L95.28 133.58L88.97 139.69Z" fill="#86fb64" stroke="#000" stroke-opacity="0.58" stroke-width="0.7" stroke-linejoin="round"/>
<path d="M245.97 90.88L251.69 88.88L244.03 87.04L238.3 88.98Z" fill="#f1a013" stroke="#000" stroke-opacity="0.58" stroke-width="0.7" stroke-linejoin="round"/>
<path d="M147.73 119.11L153.86 113.19L146.81 110.78L140.68 116.69Z" fill="#e9fb63" stroke="#000" stroke-opacity="0.58" stroke-width="0.7" stroke-linejoin="round"/>
<path d="M76.2 151.58L82.61 145.7L75.99 142.95L69.59 148.8Z" fill="#63fb6a" stroke="#000" stroke-opacity="0.58" stroke-width="0.7" stroke-linejoin="round"/>
<path d="M180.43 106.66L186.46 101.51L179.2 99.25L173.18 104.37Z" fill="#fbf154" stroke="#000" stroke-opacity="0.58" stroke-width="0.7" stroke-linejoin="round"/>
<path d="M128.3 128.91L134.51 122.75L127.57 120.26L121.37 126.41Z" fill="#ccfb64" stroke="#000" stroke-opacity="0.58" stroke-width="0.7" stroke-linejoin="round"/>
<path d="M213.21 96.75L219.11 92.9L211.64 90.82L205.75 94.63Z" fill="#f9ce37" stroke="#000" stroke-opacity="0.58" stroke-width="0.7" stroke-linejoin="round"/>
<path d="M259.45 90.67L265.1 89.38L257.34 87.67L251.69 88.88Z" fill="#ed980a" stroke="#000" stroke-opacity="0.58" stroke-width="0.7" stroke-linejoin="round"/>
<path d="M108.84 138.81L115.13 132.61L108.29 130.04L102.02 136.22Z" fill="#9ffb64" stroke="#000" stroke-opacity="0.58" stroke-width="0.7" stroke-linejoin="round"/>
<path d="M272.96 91.05L278.53 90.53L270.67 88.95L265.1 89.38Z" fill="#e99703" stroke="#000" stroke-opacity="0.58" stroke-width="0.7" stroke-linejoin="round"/>
<path d="M161.01 115.55L167.12 109.83L159.96 107.48L153.86 113.19Z" fill="#f3fb5f" stroke="#000" stroke-opacity="0.58" stroke-width="0.7" stroke-linejoin="round"/>
<path d="M226.67 94.95L232.52 91.64L224.95 89.64L219.11 92.9Z" fill="#f6bc2b" stroke="#000" stroke-opacity="0.58" stroke-width="0.7" stroke-linejoin="round"/>
<path d="M89.32 148.39L95.69 142.35L88.97 139.69L82.61 145.7Z" fill="#68fb64" stroke="#000" stroke-opacity="0.58" stroke-width="0.7" stroke-linejoin="round"/>
<path d="M193.82 103.74L199.81 98.95L192.45 96.76L186.46 101.51Z" fill="#fbe84c" stroke="#000" stroke-opacity="0.58" stroke-width="0.7" stroke-linejoin="round"/>
<path d="M286.48 92.05L291.96 92.35L284.01 90.93L278.53 90.53Z" fill="#e59c00" stroke="#000" stroke-opacity="0.58" stroke-width="0.7" stroke-linejoin="round"/>
<path d="M141.54 125.18L147.73 119.11L140.68 116.69L134.51 122.75Z" fill="#dafb64" stroke="#000" stroke-opacity="0.58" stroke-width="0.7" stroke-linejoin="round"/>
<path d="M300.02 93.72L305.4 94.89L297.35 93.64L291.96 92.35Z" fill="#967f00" stroke="#000" stroke-opacity="0.58" stroke-width="0.7" stroke-linejoin="round"/>
<path d="M313.55 96.07L318.82 98.17L310.68 97.11L305.4 94.89Z" fill="#998f00" stroke="#000" stroke-opacity="0.58" stroke-width="0.7" stroke-linejoin="round"/>
<path d="M69.73 157.27L76.2 151.58L69.59 148.8L63.13 154.46Z" fill="#60fb71" stroke="#000" stroke-opacity="0.58" stroke-width="0.7" stroke-linejoin="round"/>
<path d="M340.58 102.96L345.59 107.04L337.25 106.44L332.22 102.21Z" fill="#979f00" stroke="#000" stroke-opacity="0.58" stroke-width="0.7" stroke-linejoin="round"/>
<path d="M122.04 135.12L128.3 128.91L121.37 126.41L115.13 132.61Z" fill="#b6fb64" stroke="#000" stroke-opacity="0.58" stroke-width="0.7" stroke-linejoin="round"/>
<path d="M327.08 99.14L332.22 102.21L323.98 101.37L318.82 98.17Z" fill="#9c9900" stroke="#000" stroke-opacity="0.58" stroke-width="0.7" stroke-linejoin="round"/>
<path d="M240.18 93.6L245.97 90.88L238.3 88.98L232.52 91.64Z" fill="#f4ab1f" stroke="#000" stroke-opacity="0.58" stroke-width="0.7" stroke-linejoin="round"/>
<path d="M174.36 112.14L180.43 106.66L173.18 104.37L167.12 109.83Z" fill="#fbfa5a" stroke="#000" stroke-opacity="0.58" stroke-width="0.7" stroke-linejoin="round"/>
<path d="M207.26 101.11L213.21 96.75L205.75 94.63L199.81 98.95Z" fill="#fade42" stroke="#000" stroke-opacity="0.58" stroke-width="0.7" stroke-linejoin="round"/>
<path d="M102.5 144.95L108.84 138.81L102.02 136.22L95.69 142.35Z" fill="#84fb64" stroke="#000" stroke-opacity="0.58" stroke-width="0.7" stroke-linejoin="round"/>
<path d="M154.86 121.49L161.01 115.55L153.86 113.19L147.73 119.11Z" fill="#e8fb62" stroke="#000" stroke-opacity="0.58" stroke-width="0.7" stroke-linejoin="round"/>
<path d="M253.73 92.74L259.45 90.67L251.69 88.88L245.97 90.88Z" fill="#f19e13" stroke="#000" stroke-opacity="0.58" stroke-width="0.7" stroke-linejoin="round"/>
<path d="M82.89 154.28L89.32 148.39L82.61 145.7L76.2 151.58Z" fill="#62fb69" stroke="#000" stroke-opacity="0.58" stroke-width="0.7" stroke-linejoin="round"/>
<path d="M135.32 131.36L141.54 125.18L134.51 122.75L128.3 128.91Z" fill="#cbfb64" stroke="#000" stroke-opacity="0.58" stroke-width="0.7" stroke-linejoin="round"/>
<path d="M187.78 108.91L193.82 103.74L186.46 101.51L180.43 106.66Z" fill="#fbf153" stroke="#000" stroke-opacity="0.58" stroke-width="0.7" stroke-linejoin="round"/>
<path d="M220.77 98.84L226.67 94.95L219.11 92.9L213.21 96.75Z" fill="#f9ce37" stroke="#000" stroke-opacity="0.58" stroke-width="0.7" stroke-linejoin="round"/>
<path d="M267.31 92.41L272.96 91.05L265.1 89.38L259.45 90.67Z" fill="#ed960a" stroke="#000" stroke-opacity="0.58" stroke-width="0.7" stroke-linejoin="round"/>
<path d="M115.74 141.34L122.04 135.12L115.13 132.61L108.84 138.81Z" fill="#9efb64" stroke="#000" stroke-opacity="0.58" stroke-width="0.7" stroke-linejoin="round"/>
<path d="M168.24 117.88L174.36 112.14L167.12 109.83L161.01 115.55Z" fill="#f3fb5e" stroke="#000" stroke-opacity="0.58" stroke-width="0.7" stroke-linejoin="round"/>
<path d="M280.92 92.66L286.48 92.05L278.53 90.53L272.96 91.05Z" fill="#e99303" stroke="#000" stroke-opacity="0.58" stroke-width="0.7" stroke-linejoin="round"/>
<path d="M234.33 96.96L240.18 93.6L232.52 91.64L226.67 94.95Z" fill="#f6bb2b" stroke="#000" stroke-opacity="0.58" stroke-width="0.7" stroke-linejoin="round"/>
<path d="M96.11 151.01L102.5 144.95L95.69 142.35L89.32 148.39Z" fill="#66fb63" stroke="#000" stroke-opacity="0.58" stroke-width="0.7" stroke-linejoin="round"/>
<path d="M201.27 105.93L207.26 101.11L199.81 98.95L193.82 103.74Z" fill="#fbe84b" stroke="#000" stroke-opacity="0.58" stroke-width="0.7" stroke-linejoin="round"/>
<path d="M294.55 93.52L300.02 93.72L291.96 92.35L286.48 92.05Z" fill="#e59700" stroke="#000" stroke-opacity="0.58" stroke-width="0.7" stroke-linejoin="round"/>
<path d="M148.66 127.58L154.86 121.49L147.73 119.11L141.54 125.18Z" fill="#dafb64" stroke="#000" stroke-opacity="0.58" stroke-width="0.7" stroke-linejoin="round"/>
<path d="M308.18 95.02L313.55 96.07L305.4 94.89L300.02 93.72Z" fill="#967b00" stroke="#000" stroke-opacity="0.58" stroke-width="0.7" stroke-linejoin="round"/>
<path d="M76.4 160L82.89 154.28L76.2 151.58L69.73 157.27Z" fill="#5efb70" stroke="#000" stroke-opacity="0.58" stroke-width="0.7" stroke-linejoin="round"/>
<path d="M129.04 137.59L135.32 131.36L128.3 128.91L122.04 135.12Z" fill="#b5fb64" stroke="#000" stroke-opacity="0.58" stroke-width="0.7" stroke-linejoin="round"/>
<path d="M321.82 97.19L327.08 99.14L318.82 98.17L313.55 96.07Z" fill="#998a00" stroke="#000" stroke-opacity="0.58" stroke-width="0.7" stroke-linejoin="round"/>
<path d="M247.94 95.51L253.73 92.74L245.97 90.88L240.18 93.6Z" fill="#f4aa1f" stroke="#000" stroke-opacity="0.58" stroke-width="0.7" stroke-linejoin="round"/>
<path d="M181.69 114.41L187.78 108.91L180.43 106.66L174.36 112.14Z" fill="#fbfa59" stroke="#000" stroke-opacity="0.58" stroke-width="0.7" stroke-linejoin="round"/>
<path d="M335.45 100.05L340.58 102.96L332.22 102.21L327.08 99.14Z" fill="#9c9600" stroke="#000" stroke-opacity="0.58" stroke-width="0.7" stroke-linejoin="round"/>
<path d="M349.06 103.63L354.05 107.54L345.59 107.04L340.58 102.96Z" fill="#9b9e00" stroke="#000" stroke-opacity="0.58" stroke-width="0.7" stroke-linejoin="round"/>
<path d="M214.82 103.24L220.77 98.84L213.21 96.75L207.26 101.11Z" fill="#fade42" stroke="#000" stroke-opacity="0.58" stroke-width="0.7" stroke-linejoin="round"/>
<path d="M109.38 147.5L115.74 141.34L108.84 138.81L102.5 144.95Z" fill="#83fb64" stroke="#000" stroke-opacity="0.58" stroke-width="0.7" stroke-linejoin="round"/>
<path d="M162.08 123.83L168.24 117.88L161.01 115.55L154.86 121.49Z" fill="#e7fb61" stroke="#000" stroke-opacity="0.58" stroke-width="0.7" stroke-linejoin="round"/>
<path d="M261.59 94.55L267.31 92.41L259.45 90.67L253.73 92.74Z" fill="#f19c14" stroke="#000" stroke-opacity="0.58" stroke-width="0.7" stroke-linejoin="round"/>
<path d="M89.66 156.92L96.11 151.01L89.32 148.39L82.89 154.28Z" fill="#60fb68" stroke="#000" stroke-opacity="0.58" stroke-width="0.7" stroke-linejoin="round"/>
<path d="M142.42 133.77L148.66 127.58L141.54 125.18L135.32 131.36Z" fill="#cbfb64" stroke="#000" stroke-opacity="0.58" stroke-width="0.7" stroke-linejoin="round"/>
<path d="M195.22 111.13L201.27 105.93L193.82 103.74L187.78 108.91Z" fill="#fbf153" stroke="#000" stroke-opacity="0.58" stroke-width="0.7" stroke-linejoin="round"/>
<path d="M228.42 100.89L234.33 96.96L226.67 94.95L220.77 98.84Z" fill="#f9ce37" stroke="#000" stroke-opacity="0.58" stroke-width="0.7" stroke-linejoin="round"/>
<path d="M275.27 94.11L280.92 92.66L272.96 91.05L267.31 92.41Z" fill="#ed920a" stroke="#000" stroke-opacity="0.58" stroke-width="0.7" stroke-linejoin="round"/>
<path d="M122.72 143.81L129.04 137.59L122.04 135.12L115.74 141.34Z" fill="#9dfb64" stroke="#000" stroke-opacity="0.58" stroke-width="0.7" stroke-linejoin="round"/>
<path d="M175.56 120.17L181.69 114.41L174.36 112.14L168.24 117.88Z" fill="#f3fb5e" stroke="#000" stroke-opacity="0.58" stroke-width="0.7" stroke-linejoin="round"/>
<path d="M288.99 94.23L294.55 93.52L286.48 92.05L280.92 92.66Z" fill="#ea8f04" stroke="#000" stroke-opacity="0.58" stroke-width="0.7" stroke-linejoin="round"/>
<path d="M102.98 153.56L109.38 147.5L102.5 144.95L96.11 151.01Z" fill="#64fb62" stroke="#000" stroke-opacity="0.58" stroke-width="0.7" stroke-linejoin="round"/>
<path d="M242.09 98.93L247.94 95.51L240.18 93.6L234.33 96.96Z" fill="#f6ba2b" stroke="#000" stroke-opacity="0.58" stroke-width="0.7" stroke-linejoin="round"/>
<path d="M208.81 108.09L214.82 103.24L207.26 101.11L201.27 105.93Z" fill="#fbe84b" stroke="#000" stroke-opacity="0.58" stroke-width="0.7" stroke-linejoin="round"/>
<path d="M155.87 129.94L162.08 123.83L154.86 121.49L148.66 127.58Z" fill="#d9fb63" stroke="#000" stroke-opacity="0.58" stroke-width="0.7" stroke-linejoin="round"/>
<path d="M302.72 94.93L308.18 95.02L300.02 93.72L294.55 93.52Z" fill="#e59201" stroke="#000" stroke-opacity="0.58" stroke-width="0.7" stroke-linejoin="round"/>
<path d="M83.16 162.65L89.66 156.92L82.89 154.28L76.4 160Z" fill="#5dfb6f" stroke="#000" stroke-opacity="0.58" stroke-width="0.7" stroke-linejoin="round"/>
<path d="M316.46 96.26L321.82 97.19L313.55 96.07L308.18 95.02Z" fill="#967600" stroke="#000" stroke-opacity="0.58" stroke-width="0.7" stroke-linejoin="round"/>
<path d="M136.13 140.01L142.42 133.77L135.32 131.36L129.04 137.59Z" fill="#b4fb64" stroke="#000" stroke-opacity="0.58" stroke-width="0.7" stroke-linejoin="round"/>
<path d="M189.12 116.65L195.22 111.13L187.78 108.91L181.69 114.41Z" fill="#fbfa59" stroke="#000" stroke-opacity="0.58" stroke-width="0.7" stroke-linejoin="round"/>
<path d="M255.8 97.4L261.59 94.55L253.73 92.74L247.94 95.51Z" fill="#f4a81f" stroke="#000" stroke-opacity="0.58" stroke-width="0.7" stroke-linejoin="round"/>
<path d="M330.2 98.23L335.45 100.05L327.08 99.14L321.82 97.19Z" fill="#998300" stroke="#000" stroke-opacity="0.58" stroke-width="0.7" stroke-linejoin="round"/>
<path d="M222.46 105.34L228.42 100.89L220.77 98.84L214.82 103.24Z" fill="#fade42" stroke="#000" stroke-opacity="0.58" stroke-width="0.7" stroke-linejoin="round"/>
<path d="M343.94 100.88L349.06 103.63L340.58 102.96L335.45 100.05Z" fill="#9c9300" stroke="#000" stroke-opacity="0.58" stroke-width="0.7" stroke-linejoin="round"/>
<path d="M116.35 149.98L122.72 143.81L115.74 141.34L109.38 147.5Z" fill="#81fb63" stroke="#000" stroke-opacity="0.58" stroke-width="0.7" stroke-linejoin="round"/>
<path d="M169.39 126.14L175.56 120.17L168.24 117.88L162.08 123.83Z" fill="#e7fb61" stroke="#000" stroke-opacity="0.58" stroke-width="0.7" stroke-linejoin="round"/>
<path d="M269.55 96.33L275.27 94.11L267.31 92.41L261.59 94.55Z" fill="#f19914" stroke="#000" stroke-opacity="0.58" stroke-width="0.7" stroke-linejoin="round"/>
<path d="M96.51 159.49L102.98 153.56L96.11 151.01L89.66 156.92Z" fill="#5ffb67" stroke="#000" stroke-opacity="0.58" stroke-width="0.7" stroke-linejoin="round"/>
<path d="M149.61 136.14L155.87 129.94L148.66 127.58L142.42 133.77Z" fill="#cbfb64" stroke="#000" stroke-opacity="0.58" stroke-width="0.7" stroke-linejoin="round"/>
<path d="M202.75 113.32L208.81 108.09L201.27 105.93L195.22 111.13Z" fill="#fbf152" stroke="#000" stroke-opacity="0.58" stroke-width="0.7" stroke-linejoin="round"/>
<path d="M236.18 102.92L242.09 98.93L234.33 96.96L228.42 100.89Z" fill="#f9cd37" stroke="#000" stroke-opacity="0.58" stroke-width="0.7" stroke-linejoin="round"/>
<path d="M283.34 95.77L288.99 94.23L280.92 92.66L275.27 94.11Z" fill="#ee8e0b" stroke="#000" stroke-opacity="0.58" stroke-width="0.7" stroke-linejoin="round"/>
<path d="M129.8 146.24L136.13 140.01L129.04 137.59L122.72 143.81Z" fill="#9cfb64" stroke="#000" stroke-opacity="0.58" stroke-width="0.7" stroke-linejoin="round"/>
<path d="M182.98 122.43L189.12 116.65L181.69 114.41L175.56 120.17Z" fill="#f3fb5d" stroke="#000" stroke-opacity="0.58" stroke-width="0.7" stroke-linejoin="round"/>
<path d="M297.16 95.75L302.72 94.93L294.55 93.52L288.99 94.23Z" fill="#ea8904" stroke="#000" stroke-opacity="0.58" stroke-width="0.7" stroke-linejoin="round"/>
<path d="M109.93 156.06L116.35 149.98L109.38 147.5L102.98 153.56Z" fill="#63fb61" stroke="#000" stroke-opacity="0.58" stroke-width="0.7" stroke-linejoin="round"/>
<path d="M249.95 100.87L255.8 97.4L247.94 95.51L242.09 98.93Z" fill="#f7b92b" stroke="#000" stroke-opacity="0.58" stroke-width="0.7" stroke-linejoin="round"/>
<path d="M216.45 110.22L222.46 105.34L214.82 103.24L208.81 108.09Z" fill="#fbe84b" stroke="#000" stroke-opacity="0.58" stroke-width="0.7" stroke-linejoin="round"/>
<path d="M163.17 132.26L169.39 126.14L162.08 123.83L155.87 129.94Z" fill="#d9fb63" stroke="#000" stroke-opacity="0.58" stroke-width="0.7" stroke-linejoin="round"/>
<path d="M311 96.3L316.46 96.26L308.18 95.02L302.72 94.93Z" fill="#e68b01" stroke="#000" stroke-opacity="0.58" stroke-width="0.7" stroke-linejoin="round"/>
<path d="M89.99 165.23L96.51 159.49L89.66 156.92L83.16 162.65Z" fill="#5bfb6e" stroke="#000" stroke-opacity="0.58" stroke-width="0.7" stroke-linejoin="round"/>
<path d="M143.31 142.38L149.61 136.14L142.42 133.77L136.13 140.01Z" fill="#b4fb64" stroke="#000" stroke-opacity="0.58" stroke-width="0.7" stroke-linejoin="round"/>
<path d="M324.85 97.45L330.2 98.23L321.82 97.19L316.46 96.26Z" fill="#967000" stroke="#000" stroke-opacity="0.58" stroke-width="0.7" stroke-linejoin="round"/>
<path d="M196.65 118.87L202.75 113.32L195.22 111.13L189.12 116.65Z" fill="#fbfa58" stroke="#000" stroke-opacity="0.58" stroke-width="0.7" stroke-linejoin="round"/>
<path d="M263.76 99.25L269.55 96.33L261.59 94.55L255.8 97.4Z" fill="#f4a61f" stroke="#000" stroke-opacity="0.58" stroke-width="0.7" stroke-linejoin="round"/>
<path d="M230.21 107.41L236.18 102.92L228.42 100.89L222.46 105.34Z" fill="#fade42" stroke="#000" stroke-opacity="0.58" stroke-width="0.7" stroke-linejoin="round"/>
<path d="M338.7 99.22L343.94 100.88L335.45 100.05L330.2 98.23Z" fill="#987c00" stroke="#000" stroke-opacity="0.58" stroke-width="0.7" stroke-linejoin="round"/>
<path d="M123.41 152.42L129.8 146.24L122.72 143.81L116.35 149.98Z" fill="#80fb62" stroke="#000" stroke-opacity="0.58" stroke-width="0.7" stroke-linejoin="round"/>
<path d="M176.79 128.42L182.98 122.43L175.56 120.17L169.39 126.14Z" fill="#e7fb60" stroke="#000" stroke-opacity="0.58" stroke-width="0.7" stroke-linejoin="round"/>
<path d="M277.63 98.07L283.34 95.77L275.27 94.11L269.55 96.33Z" fill="#f19614" stroke="#000" stroke-opacity="0.58" stroke-width="0.7" stroke-linejoin="round"/>
<path d="M103.45 161.99L109.93 156.06L102.98 153.56L96.51 159.49Z" fill="#5dfb65" stroke="#000" stroke-opacity="0.58" stroke-width="0.7" stroke-linejoin="round"/>
<path d="M156.9 138.47L163.17 132.26L155.87 129.94L149.61 136.14Z" fill="#cbfb63" stroke="#000" stroke-opacity="0.58" stroke-width="0.7" stroke-linejoin="round"/>
<path d="M210.39 115.48L216.45 110.22L208.81 108.09L202.75 113.32Z" fill="#fbf152" stroke="#000" stroke-opacity="0.58" stroke-width="0.7" stroke-linejoin="round"/>
<path d="M244.03 104.92L249.95 100.87L242.09 98.93L236.18 102.92Z" fill="#f9cc37" stroke="#000" stroke-opacity="0.58" stroke-width="0.7" stroke-linejoin="round"/>
<path d="M291.52 97.39L297.16 95.75L288.99 94.23L283.34 95.77Z" fill="#ee8a0b" stroke="#000" stroke-opacity="0.58" stroke-width="0.7" stroke-linejoin="round"/>
<path d="M136.96 148.62L143.31 142.38L136.13 140.01L129.8 146.24Z" fill="#9cfb63" stroke="#000" stroke-opacity="0.58" stroke-width="0.7" stroke-linejoin="round"/>
<path d="M190.5 124.67L196.65 118.87L189.12 116.65L182.98 122.43Z" fill="#f3fb5d" stroke="#000" stroke-opacity="0.58" stroke-width="0.7" stroke-linejoin="round"/>
<path d="M116.97 158.49L123.41 152.42L116.35 149.98L109.93 156.06Z" fill="#62fb5f" stroke="#000" stroke-opacity="0.58" stroke-width="0.7" stroke-linejoin="round"/>
<path d="M305.45 97.23L311 96.3L302.72 94.93L297.16 95.75Z" fill="#ea8404" stroke="#000" stroke-opacity="0.58" stroke-width="0.7" stroke-linejoin="round"/>
<path d="M257.91 102.79L263.76 99.25L255.8 97.4L249.95 100.87Z" fill="#f7b72c" stroke="#000" stroke-opacity="0.58" stroke-width="0.7" stroke-linejoin="round"/>
<path d="M224.19 112.33L230.21 107.41L222.46 105.34L216.45 110.22Z" fill="#fbe84b" stroke="#000" stroke-opacity="0.58" stroke-width="0.7" stroke-linejoin="round"/>
<path d="M170.56 134.54L176.79 128.42L169.39 126.14L163.17 132.26Z" fill="#d9fb62" stroke="#000" stroke-opacity="0.58" stroke-width="0.7" stroke-linejoin="round"/>
<path d="M319.4 97.61L324.85 97.45L316.46 96.26L311 96.3Z" fill="#e68401" stroke="#000" stroke-opacity="0.58" stroke-width="0.7" stroke-linejoin="round"/>
<path d="M96.92 167.74L103.45 161.99L96.51 159.49L89.99 165.23Z" fill="#59fb6c" stroke="#000" stroke-opacity="0.58" stroke-width="0.7" stroke-linejoin="round"/>
<path d="M150.58 144.72L156.9 138.47L149.61 136.14L143.31 142.38Z" fill="#b4fb63" stroke="#000" stroke-opacity="0.58" stroke-width="0.7" stroke-linejoin="round"/>
<path d="M204.27 121.05L210.39 115.48L202.75 113.32L196.65 118.87Z" fill="#fbfa58" stroke="#000" stroke-opacity="0.58" stroke-width="0.7" stroke-linejoin="round"/>
<path d="M271.84 101.07L277.63 98.07L269.55 96.33L263.76 99.25Z" fill="#f4a420" stroke="#000" stroke-opacity="0.58" stroke-width="0.7" stroke-linejoin="round"/>
<path d="M333.36 98.58L338.7 99.22L330.2 98.23L324.85 97.45Z" fill="#956a00" stroke="#000" stroke-opacity="0.58" stroke-width="0.7" stroke-linejoin="round"/>
<path d="M238.06 109.45L244.03 104.92L236.18 102.92L230.21 107.41Z" fill="#fadd42" stroke="#000" stroke-opacity="0.58" stroke-width="0.7" stroke-linejoin="round"/>
<path d="M130.56 154.8L136.96 148.62L129.8 146.24L123.41 152.42Z" fill="#80fb61" stroke="#000" stroke-opacity="0.58" stroke-width="0.7" stroke-linejoin="round"/>
<path d="M184.3 130.66L190.5 124.67L182.98 122.43L176.79 128.42Z" fill="#e7fb60" stroke="#000" stroke-opacity="0.58" stroke-width="0.7" stroke-linejoin="round"/>
<path d="M285.81 99.78L291.52 97.39L283.34 95.77L277.63 98.07Z" fill="#f19315" stroke="#000" stroke-opacity="0.58" stroke-width="0.7" stroke-linejoin="round"/>
<path d="M110.48 164.43L116.97 158.49L109.93 156.06L103.45 161.99Z" fill="#5cfb64" stroke="#000" stroke-opacity="0.58" stroke-width="0.7" stroke-linejoin="round"/>
<path d="M164.28 140.76L170.56 134.54L163.17 132.26L156.9 138.47Z" fill="#cbfb62" stroke="#000" stroke-opacity="0.58" stroke-width="0.7" stroke-linejoin="round"/>
<path d="M218.12 117.62L224.19 112.33L216.45 110.22L210.39 115.48Z" fill="#fbf152" stroke="#000" stroke-opacity="0.58" stroke-width="0.7" stroke-linejoin="round"/>
<path d="M251.99 106.89L257.91 102.79L249.95 100.87L244.03 104.92Z" fill="#f9ca37" stroke="#000" stroke-opacity="0.58" stroke-width="0.7" stroke-linejoin="round"/>
<path d="M144.22 150.95L150.58 144.72L143.31 142.38L136.96 148.62Z" fill="#9cfb62" stroke="#000" stroke-opacity="0.58" stroke-width="0.7" stroke-linejoin="round"/>
<path d="M299.81 98.97L305.45 97.23L297.16 95.75L291.52 97.39Z" fill="#ee850c" stroke="#000" stroke-opacity="0.58" stroke-width="0.7" stroke-linejoin="round"/>
<path d="M198.11 126.87L204.27 121.05L196.65 118.87L190.5 124.67Z" fill="#f3fb5c" stroke="#000" stroke-opacity="0.58" stroke-width="0.7" stroke-linejoin="round"/>
<path d="M124.11 160.87L130.56 154.8L123.41 152.42L116.97 158.49Z" fill="#61fb5e" stroke="#000" stroke-opacity="0.58" stroke-width="0.7" stroke-linejoin="round"/>
<path d="M265.98 104.68L271.84 101.07L263.76 99.25L257.91 102.79Z" fill="#f7b52c" stroke="#000" stroke-opacity="0.58" stroke-width="0.7" stroke-linejoin="round"/>
<path d="M313.85 98.66L319.4 97.61L311 96.3L305.45 97.23Z" fill="#ea7d05" stroke="#000" stroke-opacity="0.58" stroke-width="0.7" stroke-linejoin="round"/>
<path d="M232.03 114.41L238.06 109.45L230.21 107.41L224.19 112.33Z" fill="#fbe74b" stroke="#000" stroke-opacity="0.58" stroke-width="0.7" stroke-linejoin="round"/>
<path d="M178.05 136.8L184.3 130.66L176.79 128.42L170.56 134.54Z" fill="#d9fb61" stroke="#000" stroke-opacity="0.58" stroke-width="0.7" stroke-linejoin="round"/>
<path d="M103.93 170.18L110.48 164.43L103.45 161.99L96.92 167.74Z" fill="#58fb6a" stroke="#000" stroke-opacity="0.58" stroke-width="0.7" stroke-linejoin="round"/>
<path d="M327.91 98.88L333.36 98.58L324.85 97.45L319.4 97.61Z" fill="#e67c01" stroke="#000" stroke-opacity="0.58" stroke-width="0.7" stroke-linejoin="round"/>
<path d="M157.95 147.01L164.28 140.76L156.9 138.47L150.58 144.72Z" fill="#b4fb62" stroke="#000" stroke-opacity="0.58" stroke-width="0.7" stroke-linejoin="round"/>
<path d="M211.99 123.22L218.12 117.62L210.39 115.48L204.27 121.05Z" fill="#fbfa58" stroke="#000" stroke-opacity="0.58" stroke-width="0.7" stroke-linejoin="round"/>
<path d="M280.02 102.86L285.81 99.78L277.63 98.07L271.84 101.07Z" fill="#f4a121" stroke="#000" stroke-opacity="0.58" stroke-width="0.7" stroke-linejoin="round"/>
<path d="M246.01 111.47L251.99 106.89L244.03 104.92L238.06 109.45Z" fill="#fadd42" stroke="#000" stroke-opacity="0.58" stroke-width="0.7" stroke-linejoin="round"/>
<path d="M137.8 157.13L144.22 150.95L136.96 148.62L130.56 154.8Z" fill="#80fb5f" stroke="#000" stroke-opacity="0.58" stroke-width="0.7" stroke-linejoin="round"/>
<path d="M191.9 132.88L198.11 126.87L190.5 124.67L184.3 130.66Z" fill="#e8fb5f" stroke="#000" stroke-opacity="0.58" stroke-width="0.7" stroke-linejoin="round"/>
<path d="M117.6 166.81L124.11 160.87L116.97 158.49L110.48 164.43Z" fill="#5afb62" stroke="#000" stroke-opacity="0.58" stroke-width="0.7" stroke-linejoin="round"/>
<path d="M294.1 101.46L299.81 98.97L291.52 97.39L285.81 99.78Z" fill="#f28f16" stroke="#000" stroke-opacity="0.58" stroke-width="0.7" stroke-linejoin="round"/>
<path d="M171.76 143.02L178.05 136.8L170.56 134.54L164.28 140.76Z" fill="#cbfb62" stroke="#000" stroke-opacity="0.58" stroke-width="0.7" stroke-linejoin="round"/>
<path d="M225.95 119.74L232.03 114.41L224.19 112.33L218.12 117.62Z" fill="#fbf052" stroke="#000" stroke-opacity="0.58" stroke-width="0.7" stroke-linejoin="round"/>
<path d="M260.06 108.84L265.98 104.68L257.91 102.79L251.99 106.89Z" fill="#f9c838" stroke="#000" stroke-opacity="0.58" stroke-width="0.7" stroke-linejoin="round"/>
<path d="M151.57 153.24L157.95 147.01L150.58 144.72L144.22 150.95Z" fill="#9cfb61" stroke="#000" stroke-opacity="0.58" stroke-width="0.7" stroke-linejoin="round"/>
<path d="M308.22 100.52L313.85 98.66L305.45 97.23L299.81 98.97Z" fill="#ee800c" stroke="#000" stroke-opacity="0.58" stroke-width="0.7" stroke-linejoin="round"/>
<path d="M205.82 129.06L211.99 123.22L204.27 121.05L198.11 126.87Z" fill="#f4fb5c" stroke="#000" stroke-opacity="0.58" stroke-width="0.7" stroke-linejoin="round"/>
<path d="M131.33 163.2L137.8 157.13L130.56 154.8L124.11 160.87Z" fill="#60fb5c" stroke="#000" stroke-opacity="0.58" stroke-width="0.7" stroke-linejoin="round"/>
<path d="M239.98 116.48L246.01 111.47L238.06 109.45L232.03 114.41Z" fill="#fbe74b" stroke="#000" stroke-opacity="0.58" stroke-width="0.7" stroke-linejoin="round"/>
<path d="M274.16 106.54L280.02 102.86L271.84 101.07L265.98 104.68Z" fill="#f7b32d" stroke="#000" stroke-opacity="0.58" stroke-width="0.7" stroke-linejoin="round"/>
<path d="M322.37 100.06L327.91 98.88L319.4 97.61L313.85 98.66Z" fill="#eb7705" stroke="#000" stroke-opacity="0.58" stroke-width="0.7" stroke-linejoin="round"/>
<path d="M185.64 139.03L191.9 132.88L184.3 130.66L178.05 136.8Z" fill="#dafb61" stroke="#000" stroke-opacity="0.58" stroke-width="0.7" stroke-linejoin="round"/>
<path d="M111.03 172.55L117.6 166.81L110.48 164.43L103.93 170.18Z" fill="#56fb68" stroke="#000" stroke-opacity="0.58" stroke-width="0.7" stroke-linejoin="round"/>
<path d="M165.41 149.27L171.76 143.02L164.28 140.76L157.95 147.01Z" fill="#b5fb61" stroke="#000" stroke-opacity="0.58" stroke-width="0.7" stroke-linejoin="round"/>
<path d="M219.82 125.36L225.95 119.74L218.12 117.62L211.99 123.22Z" fill="#fbf958" stroke="#000" stroke-opacity="0.58" stroke-width="0.7" stroke-linejoin="round"/>
<path d="M288.31 104.63L294.1 101.46L285.81 99.78L280.02 102.86Z" fill="#f59e21" stroke="#000" stroke-opacity="0.58" stroke-width="0.7" stroke-linejoin="round"/>
<path d="M254.07 113.48L260.06 108.84L251.99 106.89L246.01 111.47Z" fill="#fadc42" stroke="#000" stroke-opacity="0.58" stroke-width="0.7" stroke-linejoin="round"/>
<path d="M145.14 159.41L151.57 153.24L144.22 150.95L137.8 157.13Z" fill="#81fb5e" stroke="#000" stroke-opacity="0.58" stroke-width="0.7" stroke-linejoin="round"/>
<path d="M199.6 135.08L205.82 129.06L198.11 126.87L191.9 132.88Z" fill="#e8fb5f" stroke="#000" stroke-opacity="0.58" stroke-width="0.7" stroke-linejoin="round"/>
<path d="M124.81 169.12L131.33 163.2L124.11 160.87L117.6 166.81Z" fill="#59fb60" stroke="#000" stroke-opacity="0.58" stroke-width="0.7" stroke-linejoin="round"/>
<path d="M302.5 103.12L308.22 100.52L299.81 98.97L294.1 101.46Z" fill="#f28a17" stroke="#000" stroke-opacity="0.58" stroke-width="0.7" stroke-linejoin="round"/>
<path d="M179.33 145.25L185.64 139.03L178.05 136.8L171.76 143.02Z" fill="#cbfb61" stroke="#000" stroke-opacity="0.58" stroke-width="0.7" stroke-linejoin="round"/>
<path d="M233.89 121.84L239.98 116.48L232.03 114.41L225.95 119.74Z" fill="#fbf052" stroke="#000" stroke-opacity="0.58" stroke-width="0.7" stroke-linejoin="round"/>
<path d="M268.23 110.77L274.16 106.54L265.98 104.68L260.06 108.84Z" fill="#f9c638" stroke="#000" stroke-opacity="0.58" stroke-width="0.7" stroke-linejoin="round"/>
<path d="M159.02 155.5L165.41 149.27L157.95 147.01L151.57 153.24Z" fill="#9dfb60" stroke="#000" stroke-opacity="0.58" stroke-width="0.7" stroke-linejoin="round"/>
<path d="M316.74 102.04L322.37 100.06L313.85 98.66L308.22 100.52Z" fill="#ef7b0d" stroke="#000" stroke-opacity="0.58" stroke-width="0.7" stroke-linejoin="round"/>
<path d="M213.64 131.22L219.82 125.36L211.99 123.22L205.82 129.06Z" fill="#f4fb5c" stroke="#000" stroke-opacity="0.58" stroke-width="0.7" stroke-linejoin="round"/>
<path d="M138.65 165.48L145.14 159.41L137.8 157.13L131.33 163.2Z" fill="#5ffb5b" stroke="#000" stroke-opacity="0.58" stroke-width="0.7" stroke-linejoin="round"/>
<path d="M248.03 118.53L254.07 113.48L246.01 111.47L239.98 116.48Z" fill="#fbe64b" stroke="#000" stroke-opacity="0.58" stroke-width="0.7" stroke-linejoin="round"/>
<path d="M282.44 108.39L288.31 104.63L280.02 102.86L274.16 106.54Z" fill="#f7b02e" stroke="#000" stroke-opacity="0.58" stroke-width="0.7" stroke-linejoin="round"/>
<path d="M193.33 141.23L199.6 135.08L191.9 132.88L185.64 139.03Z" fill="#dbfb60" stroke="#000" stroke-opacity="0.58" stroke-width="0.7" stroke-linejoin="round"/>
<path d="M118.22 174.85L124.81 169.12L117.6 166.81L111.03 172.55Z" fill="#54fb65" stroke="#000" stroke-opacity="0.58" stroke-width="0.7" stroke-linejoin="round"/>
<path d="M172.97 151.49L179.33 145.25L171.76 143.02L165.41 149.27Z" fill="#b6fb60" stroke="#000" stroke-opacity="0.58" stroke-width="0.7" stroke-linejoin="round"/>
<path d="M227.75 127.49L233.89 121.84L225.95 119.74L219.82 125.36Z" fill="#fbf958" stroke="#000" stroke-opacity="0.58" stroke-width="0.7" stroke-linejoin="round"/>
<path d="M296.71 106.37L302.5 103.12L294.1 101.46L288.31 104.63Z" fill="#f59a22" stroke="#000" stroke-opacity="0.58" stroke-width="0.7" stroke-linejoin="round"/>
<path d="M262.24 115.46L268.23 110.77L260.06 108.84L254.07 113.48Z" fill="#fadb43" stroke="#000" stroke-opacity="0.58" stroke-width="0.7" stroke-linejoin="round"/>
<path d="M152.57 161.66L159.02 155.5L151.57 153.24L145.14 159.41Z" fill="#83fb5d" stroke="#000" stroke-opacity="0.58" stroke-width="0.7" stroke-linejoin="round"/>
<path d="M207.41 137.25L213.64 131.22L205.82 129.06L199.6 135.08Z" fill="#e9fb5e" stroke="#000" stroke-opacity="0.58" stroke-width="0.7" stroke-linejoin="round"/>
<path d="M132.11 171.38L138.65 165.48L131.33 163.2L124.81 169.12Z" fill="#57fb5d" stroke="#000" stroke-opacity="0.58" stroke-width="0.7" stroke-linejoin="round"/>
<path d="M311.03 104.75L316.74 102.04L308.22 100.52L302.5 103.12Z" fill="#f28618" stroke="#000" stroke-opacity="0.58" stroke-width="0.7" stroke-linejoin="round"/>
<path d="M187.01 147.45L193.33 141.23L185.64 139.03L179.33 145.25Z" fill="#ccfb60" stroke="#000" stroke-opacity="0.58" stroke-width="0.7" stroke-linejoin="round"/>
<path d="M241.94 123.92L248.03 118.53L239.98 116.48L233.89 121.84Z" fill="#fbef52" stroke="#000" stroke-opacity="0.58" stroke-width="0.7" stroke-linejoin="round"/>
<path d="M276.52 112.68L282.44 108.39L274.16 106.54L268.23 110.77Z" fill="#f9c439" stroke="#000" stroke-opacity="0.58" stroke-width="0.7" stroke-linejoin="round"/>
<path d="M166.57 157.71L172.97 151.49L165.41 149.27L159.02 155.5Z" fill="#9efb5f" stroke="#000" stroke-opacity="0.58" stroke-width="0.7" stroke-linejoin="round"/>
<path d="M221.56 133.36L227.75 127.49L219.82 125.36L213.64 131.22Z" fill="#f5fb5c" stroke="#000" stroke-opacity="0.58" stroke-width="0.7" stroke-linejoin="round"/>
<path d="M146.07 167.7L152.57 161.66L145.14 159.41L138.65 165.48Z" fill="#5ffb5a" stroke="#000" stroke-opacity="0.58" stroke-width="0.7" stroke-linejoin="round"/>
<path d="M256.2 120.56L262.24 115.46L254.07 113.48L248.03 118.53Z" fill="#fbe54c" stroke="#000" stroke-opacity="0.58" stroke-width="0.7" stroke-linejoin="round"/>
<path d="M290.85 110.22L296.71 106.37L288.31 104.63L282.44 108.39Z" fill="#f7ad2e" stroke="#000" stroke-opacity="0.58" stroke-width="0.7" stroke-linejoin="round"/>
<path d="M201.12 143.41L207.41 137.25L199.6 135.08L193.33 141.23Z" fill="#dbfb60" stroke="#000" stroke-opacity="0.58" stroke-width="0.7" stroke-linejoin="round"/>
<path d="M125.51 177.09L132.11 171.38L124.81 169.12L118.22 174.85Z" fill="#52fb63" stroke="#000" stroke-opacity="0.58" stroke-width="0.7" stroke-linejoin="round"/>
<path d="M180.64 153.69L187.01 147.45L179.33 145.25L172.97 151.49Z" fill="#b8fb60" stroke="#000" stroke-opacity="0.58" stroke-width="0.7" stroke-linejoin="round"/>
<path d="M235.79 129.6L241.94 123.92L233.89 121.84L227.75 127.49Z" fill="#fbf858" stroke="#000" stroke-opacity="0.58" stroke-width="0.7" stroke-linejoin="round"/>
<path d="M305.23 108.1L311.03 104.75L302.5 103.12L296.71 106.37Z" fill="#f59624" stroke="#000" stroke-opacity="0.58" stroke-width="0.7" stroke-linejoin="round"/>
<path d="M270.53 117.44L276.52 112.68L268.23 110.77L262.24 115.46Z" fill="#fbd943" stroke="#000" stroke-opacity="0.58" stroke-width="0.7" stroke-linejoin="round"/>
<path d="M160.11 163.86L166.57 157.71L159.02 155.5L152.57 161.66Z" fill="#85fb5c" stroke="#000" stroke-opacity="0.58" stroke-width="0.7" stroke-linejoin="round"/>
<path d="M215.32 139.41L221.56 133.36L213.64 131.22L207.41 137.25Z" fill="#eafb5e" stroke="#000" stroke-opacity="0.58" stroke-width="0.7" stroke-linejoin="round"/>
<path d="M139.51 173.59L146.07 167.7L138.65 165.48L132.11 171.38Z" fill="#55fb5a" stroke="#000" stroke-opacity="0.58" stroke-width="0.7" stroke-linejoin="round"/>
<path d="M194.79 149.63L201.12 143.41L193.33 141.23L187.01 147.45Z" fill="#cdfb60" stroke="#000" stroke-opacity="0.58" stroke-width="0.7" stroke-linejoin="round"/>
<path d="M250.1 125.99L256.2 120.56L248.03 118.53L241.94 123.92Z" fill="#fbee53" stroke="#000" stroke-opacity="0.58" stroke-width="0.7" stroke-linejoin="round"/>
<path d="M284.92 114.59L290.85 110.22L282.44 108.39L276.52 112.68Z" fill="#f9c13a" stroke="#000" stroke-opacity="0.58" stroke-width="0.7" stroke-linejoin="round"/>
<path d="M174.22 159.89L180.64 153.69L172.97 151.49L166.57 157.71Z" fill="#a0fb5e" stroke="#000" stroke-opacity="0.58" stroke-width="0.7" stroke-linejoin="round"/>
<path d="M229.59 135.5L235.79 129.6L227.75 127.49L221.56 133.36Z" fill="#f5fb5c" stroke="#000" stroke-opacity="0.58" stroke-width="0.7" stroke-linejoin="round"/>
<path d="M153.59 169.88L160.11 163.86L152.57 161.66L146.07 167.7Z" fill="#61fb58" stroke="#000" stroke-opacity="0.58" stroke-width="0.7" stroke-linejoin="round"/>
<path d="M264.47 122.58L270.53 117.44L262.24 115.46L256.2 120.56Z" fill="#fbe44c" stroke="#000" stroke-opacity="0.58" stroke-width="0.7" stroke-linejoin="round"/>
<path d="M299.37 112.04L305.23 108.1L296.71 106.37L290.85 110.22Z" fill="#f7aa30" stroke="#000" stroke-opacity="0.58" stroke-width="0.7" stroke-linejoin="round"/>
<path d="M209.02 145.57L215.32 139.41L207.41 137.25L201.12 143.41Z" fill="#dcfb5f" stroke="#000" stroke-opacity="0.58" stroke-width="0.7" stroke-linejoin="round"/>
<path d="M132.89 179.27L139.51 173.59L132.11 171.38L125.51 177.09Z" fill="#50fb5f" stroke="#000" stroke-opacity="0.58" stroke-width="0.7" stroke-linejoin="round"/>
<path d="M188.41 155.85L194.79 149.63L187.01 147.45L180.64 153.69Z" fill="#bafb5f" stroke="#000" stroke-opacity="0.58" stroke-width="0.7" stroke-linejoin="round"/>
<path d="M243.94 131.7L250.1 125.99L241.94 123.92L235.79 129.6Z" fill="#fbf758" stroke="#000" stroke-opacity="0.58" stroke-width="0.7" stroke-linejoin="round"/>
<path d="M278.92 119.4L284.92 114.59L276.52 112.68L270.53 117.44Z" fill="#fbd744" stroke="#000" stroke-opacity="0.58" stroke-width="0.7" stroke-linejoin="round"/>
<path d="M167.74 166.02L174.22 159.89L166.57 157.71L160.11 163.86Z" fill="#87fb5b" stroke="#000" stroke-opacity="0.58" stroke-width="0.7" stroke-linejoin="round"/>
<path d="M223.34 141.55L229.59 135.5L221.56 133.36L215.32 139.41Z" fill="#ebfb5e" stroke="#000" stroke-opacity="0.58" stroke-width="0.7" stroke-linejoin="round"/>
<path d="M147.02 175.74L153.59 169.88L146.07 167.7L139.51 173.59Z" fill="#54fb57" stroke="#000" stroke-opacity="0.58" stroke-width="0.7" stroke-linejoin="round"/>
<path d="M202.68 151.78L209.02 145.57L201.12 143.41L194.79 149.63Z" fill="#cefb5f" stroke="#000" stroke-opacity="0.58" stroke-width="0.7" stroke-linejoin="round"/>
<path d="M258.37 128.06L264.47 122.58L256.2 120.56L250.1 125.99Z" fill="#fbed53" stroke="#000" stroke-opacity="0.58" stroke-width="0.7" stroke-linejoin="round"/>
<path d="M293.43 116.48L299.37 112.04L290.85 110.22L284.92 114.59Z" fill="#f9bf3b" stroke="#000" stroke-opacity="0.58" stroke-width="0.7" stroke-linejoin="round"/>
<path d="M181.97 162.04L188.41 155.85L180.64 153.69L174.22 159.89Z" fill="#a2fb5d" stroke="#000" stroke-opacity="0.58" stroke-width="0.7" stroke-linejoin="round"/>
<path d="M237.73 137.62L243.94 131.7L235.79 129.6L229.59 135.5Z" fill="#f6fb5c" stroke="#000" stroke-opacity="0.58" stroke-width="0.7" stroke-linejoin="round"/>
<path d="M161.21 172.01L167.74 166.02L160.11 163.86L153.59 169.88Z" fill="#64fb57" stroke="#000" stroke-opacity="0.58" stroke-width="0.7" stroke-linejoin="round"/>
<path d="M272.87 124.6L278.92 119.4L270.53 117.44L264.47 122.58Z" fill="#fbe44d" stroke="#000" stroke-opacity="0.58" stroke-width="0.7" stroke-linejoin="round"/>
<path d="M217.03 147.71L223.34 141.55L215.32 139.41L209.02 145.57Z" fill="#defb5f" stroke="#000" stroke-opacity="0.58" stroke-width="0.7" stroke-linejoin="round"/>
<path d="M140.38 181.39L147.02 175.74L139.51 173.59L132.89 179.27Z" fill="#4efb5c" stroke="#000" stroke-opacity="0.58" stroke-width="0.7" stroke-linejoin="round"/>
<path d="M196.29 158L202.68 151.78L194.79 149.63L188.41 155.85Z" fill="#bcfb5e" stroke="#000" stroke-opacity="0.58" stroke-width="0.7" stroke-linejoin="round"/>
<path d="M252.2 133.79L258.37 128.06L250.1 125.99L243.94 131.7Z" fill="#fbf658" stroke="#000" stroke-opacity="0.58" stroke-width="0.7" stroke-linejoin="round"/>
<path d="M287.43 121.36L293.43 116.48L284.92 114.59L278.92 119.4Z" fill="#fbd445" stroke="#000" stroke-opacity="0.58" stroke-width="0.7" stroke-linejoin="round"/>
<path d="M175.48 168.14L181.97 162.04L174.22 159.89L167.74 166.02Z" fill="#89fb59" stroke="#000" stroke-opacity="0.58" stroke-width="0.7" stroke-linejoin="round"/>
<path d="M231.47 143.68L237.73 137.62L229.59 135.5L223.34 141.55Z" fill="#edfb5e" stroke="#000" stroke-opacity="0.58" stroke-width="0.7" stroke-linejoin="round"/>
<path d="M154.62 177.84L161.21 172.01L153.59 169.88L147.02 175.74Z" fill="#52fb54" stroke="#000" stroke-opacity="0.58" stroke-width="0.7" stroke-linejoin="round"/>
<path d="M210.68 153.92L217.03 147.71L209.02 145.57L202.68 151.78Z" fill="#d0fb5f" stroke="#000" stroke-opacity="0.58" stroke-width="0.7" stroke-linejoin="round"/>
<path d="M266.75 130.12L272.87 124.6L264.47 122.58L258.37 128.06Z" fill="#fbed53" stroke="#000" stroke-opacity="0.58" stroke-width="0.7" stroke-linejoin="round"/>
<path d="M189.84 164.16L196.29 158L188.41 155.85L181.97 162.04Z" fill="#a4fb5c" stroke="#000" stroke-opacity="0.58" stroke-width="0.7" stroke-linejoin="round"/>
<path d="M245.98 139.73L252.2 133.79L243.94 131.7L237.73 137.62Z" fill="#f7fb5c" stroke="#000" stroke-opacity="0.58" stroke-width="0.7" stroke-linejoin="round"/>
<path d="M168.94 174.11L175.48 168.14L167.74 166.02L161.21 172.01Z" fill="#68fb55" stroke="#000" stroke-opacity="0.58" stroke-width="0.7" stroke-linejoin="round"/>
<path d="M281.37 126.62L287.43 121.36L278.92 119.4L272.87 124.6Z" fill="#fbe34d" stroke="#000" stroke-opacity="0.58" stroke-width="0.7" stroke-linejoin="round"/>
<path d="M225.15 149.84L231.47 143.68L223.34 141.55L217.03 147.71Z" fill="#dffb5f" stroke="#000" stroke-opacity="0.58" stroke-width="0.7" stroke-linejoin="round"/>
<path d="M147.97 183.45L154.62 177.84L147.02 175.74L140.38 181.39Z" fill="#4cfb58" stroke="#000" stroke-opacity="0.58" stroke-width="0.7" stroke-linejoin="round"/>
<path d="M204.27 160.12L210.68 153.92L202.68 151.78L196.29 158Z" fill="#befb5d" stroke="#000" stroke-opacity="0.58" stroke-width="0.7" stroke-linejoin="round"/>
<path d="M260.58 135.88L266.75 130.12L258.37 128.06L252.2 133.79Z" fill="#fbf558" stroke="#000" stroke-opacity="0.58" stroke-width="0.7" stroke-linejoin="round"/>
<path d="M183.33 170.23L189.84 164.16L181.97 162.04L175.48 168.14Z" fill="#8cfb58" stroke="#000" stroke-opacity="0.58" stroke-width="0.7" stroke-linejoin="round"/>
<path d="M239.71 145.8L245.98 139.73L237.73 137.62L231.47 143.68Z" fill="#eefb5e" stroke="#000" stroke-opacity="0.58" stroke-width="0.7" stroke-linejoin="round"/>
<path d="M162.34 179.89L168.94 174.11L161.21 172.01L154.62 177.84Z" fill="#50fb50" stroke="#000" stroke-opacity="0.58" stroke-width="0.7" stroke-linejoin="round"/>
<path d="M218.79 156.04L225.15 149.84L217.03 147.71L210.68 153.92Z" fill="#d1fb5e" stroke="#000" stroke-opacity="0.58" stroke-width="0.7" stroke-linejoin="round"/>
<path d="M275.25 132.17L281.37 126.62L272.87 124.6L266.75 130.12Z" fill="#fbec54" stroke="#000" stroke-opacity="0.58" stroke-width="0.7" stroke-linejoin="round"/>
<path d="M197.81 166.26L204.27 160.12L196.29 158L189.84 164.16Z" fill="#a7fb5a" stroke="#000" stroke-opacity="0.58" stroke-width="0.7" stroke-linejoin="round"/>
<path d="M254.35 141.84L260.58 135.88L252.2 133.79L245.98 139.73Z" fill="#f8fb5c" stroke="#000" stroke-opacity="0.58" stroke-width="0.7" stroke-linejoin="round"/>
<path d="M176.78 176.16L183.33 170.23L175.48 168.14L168.94 174.11Z" fill="#6cfb54" stroke="#000" stroke-opacity="0.58" stroke-width="0.7" stroke-linejoin="round"/>
<path d="M233.39 151.96L239.71 145.8L231.47 143.68L225.15 149.84Z" fill="#e1fb5e" stroke="#000" stroke-opacity="0.58" stroke-width="0.7" stroke-linejoin="round"/>
<path d="M155.67 185.46L162.34 179.89L154.62 177.84L147.97 183.45Z" fill="#4afb54" stroke="#000" stroke-opacity="0.58" stroke-width="0.7" stroke-linejoin="round"/>
<path d="M212.37 162.22L218.79 156.04L210.68 153.92L204.27 160.12Z" fill="#c1fb5c" stroke="#000" stroke-opacity="0.58" stroke-width="0.7" stroke-linejoin="round"/>
<path d="M269.07 137.97L275.25 132.17L266.75 130.12L260.58 135.88Z" fill="#fbf459" stroke="#000" stroke-opacity="0.58" stroke-width="0.7" stroke-linejoin="round"/>
<path d="M191.3 172.3L197.81 166.26L189.84 164.16L183.33 170.23Z" fill="#8ffb57" stroke="#000" stroke-opacity="0.58" stroke-width="0.7" stroke-linejoin="round"/>
<path d="M248.07 147.92L254.35 141.84L245.98 139.73L239.71 145.8Z" fill="#effb5e" stroke="#000" stroke-opacity="0.58" stroke-width="0.7" stroke-linejoin="round"/>
<path d="M170.16 181.9L176.78 176.16L168.94 174.11L162.34 179.89Z" fill="#50fb4e" stroke="#000" stroke-opacity="0.58" stroke-width="0.7" stroke-linejoin="round"/>
<path d="M227.01 158.15L233.39 151.96L225.15 149.84L218.79 156.04Z" fill="#d3fb5e" stroke="#000" stroke-opacity="0.58" stroke-width="0.7" stroke-linejoin="round"/>
<path d="M205.9 168.33L212.37 162.22L204.27 160.12L197.81 166.26Z" fill="#aafb59" stroke="#000" stroke-opacity="0.58" stroke-width="0.7" stroke-linejoin="round"/>
<path d="M262.84 143.94L269.07 137.97L260.58 135.88L254.35 141.84Z" fill="#f9fb5c" stroke="#000" stroke-opacity="0.58" stroke-width="0.7" stroke-linejoin="round"/>
<path d="M184.72 178.18L191.3 172.3L183.33 170.23L176.78 176.16Z" fill="#71fb52" stroke="#000" stroke-opacity="0.58" stroke-width="0.7" stroke-linejoin="round"/>
<path d="M241.74 154.07L248.07 147.92L239.71 145.8L233.39 151.96Z" fill="#e2fb5e" stroke="#000" stroke-opacity="0.58" stroke-width="0.7" stroke-linejoin="round"/>
<path d="M220.58 164.3L227.01 158.15L218.79 156.04L212.37 162.22Z" fill="#c4fb5c" stroke="#000" stroke-opacity="0.58" stroke-width="0.7" stroke-linejoin="round"/>
<path d="M163.48 187.41L170.16 181.9L162.34 179.89L155.67 185.46Z" fill="#48fb50" stroke="#000" stroke-opacity="0.58" stroke-width="0.7" stroke-linejoin="round"/>
<path d="M199.37 174.33L205.9 168.33L197.81 166.26L191.3 172.3Z" fill="#92fb55" stroke="#000" stroke-opacity="0.58" stroke-width="0.7" stroke-linejoin="round"/>
<path d="M256.55 150.03L262.84 143.94L254.35 141.84L248.07 147.92Z" fill="#f0fb5d" stroke="#000" stroke-opacity="0.58" stroke-width="0.7" stroke-linejoin="round"/>
<path d="M178.09 183.87L184.72 178.18L176.78 176.16L170.16 181.9Z" fill="#51fb4c" stroke="#000" stroke-opacity="0.58" stroke-width="0.7" stroke-linejoin="round"/>
<path d="M235.36 160.24L241.74 154.07L233.39 151.96L227.01 158.15Z" fill="#d5fb5d" stroke="#000" stroke-opacity="0.58" stroke-width="0.7" stroke-linejoin="round"/>
<path d="M214.1 170.38L220.58 164.3L212.37 162.22L205.9 168.33Z" fill="#adfb58" stroke="#000" stroke-opacity="0.58" stroke-width="0.7" stroke-linejoin="round"/>
<path d="M192.79 180.16L199.37 174.33L191.3 172.3L184.72 178.18Z" fill="#77fb50" stroke="#000" stroke-opacity="0.58" stroke-width="0.7" stroke-linejoin="round"/>
<path d="M250.21 156.18L256.55 150.03L248.07 147.92L241.74 154.07Z" fill="#e4fb5e" stroke="#000" stroke-opacity="0.58" stroke-width="0.7" stroke-linejoin="round"/>
<path d="M228.92 166.38L235.36 160.24L227.01 158.15L220.58 164.3Z" fill="#c7fb5b" stroke="#000" stroke-opacity="0.58" stroke-width="0.7" stroke-linejoin="round"/>
<path d="M171.4 189.32L178.09 183.87L170.16 181.9L163.48 187.41Z" fill="#46fb4b" stroke="#000" stroke-opacity="0.58" stroke-width="0.7" stroke-linejoin="round"/>
<path d="M207.56 176.34L214.1 170.38L205.9 168.33L199.37 174.33Z" fill="#95fb54" stroke="#000" stroke-opacity="0.58" stroke-width="0.7" stroke-linejoin="round"/>
<path d="M243.82 162.34L250.21 156.18L241.74 154.07L235.36 160.24Z" fill="#d7fb5c" stroke="#000" stroke-opacity="0.58" stroke-width="0.7" stroke-linejoin="round"/>
<path d="M186.14 185.79L192.79 180.16L184.72 178.18L178.09 183.87Z" fill="#54fb4a" stroke="#000" stroke-opacity="0.58" stroke-width="0.7" stroke-linejoin="round"/>
<path d="M222.42 172.42L228.92 166.38L220.58 164.3L214.1 170.38Z" fill="#b0fb57" stroke="#000" stroke-opacity="0.58" stroke-width="0.7" stroke-linejoin="round"/>
<path d="M200.97 182.12L207.56 176.34L199.37 174.33L192.79 180.16Z" fill="#7dfb4f" stroke="#000" stroke-opacity="0.58" stroke-width="0.7" stroke-linejoin="round"/>
<path d="M237.37 168.44L243.82 162.34L235.36 160.24L228.92 166.38Z" fill="#c9fb5a" stroke="#000" stroke-opacity="0.58" stroke-width="0.7" stroke-linejoin="round"/>
<path d="M179.43 191.18L186.14 185.79L178.09 183.87L171.4 189.32Z" fill="#43fb45" stroke="#000" stroke-opacity="0.58" stroke-width="0.7" stroke-linejoin="round"/>
<path d="M215.87 178.32L222.42 172.42L214.1 170.38L207.56 176.34Z" fill="#99fb53" stroke="#000" stroke-opacity="0.58" stroke-width="0.7" stroke-linejoin="round"/>
<path d="M194.31 187.68L200.97 182.12L192.79 180.16L186.14 185.79Z" fill="#5bfb48" stroke="#000" stroke-opacity="0.58" stroke-width="0.7" stroke-linejoin="round"/>
<path d="M230.87 174.44L237.37 168.44L228.92 166.38L222.42 172.42Z" fill="#b4fb56" stroke="#000" stroke-opacity="0.58" stroke-width="0.7" stroke-linejoin="round"/>
<path d="M209.27 184.05L215.87 178.32L207.56 176.34L200.97 182.12Z" fill="#81fb4d" stroke="#000" stroke-opacity="0.58" stroke-width="0.7" stroke-linejoin="round"/>
<path d="M187.59 192.99L194.31 187.68L186.14 185.79L179.43 191.18Z" fill="#42fa41" stroke="#000" stroke-opacity="0.58" stroke-width="0.7" stroke-linejoin="round"/>
<path d="M224.31 180.29L230.87 174.44L222.42 172.42L215.87 178.32Z" fill="#9dfb51" stroke="#000" stroke-opacity="0.58" stroke-width="0.7" stroke-linejoin="round"/>
<path d="M202.6 189.54L209.27 184.05L200.97 182.12L194.31 187.68Z" fill="#62fb46" stroke="#000" stroke-opacity="0.58" stroke-width="0.7" stroke-linejoin="round"/>
<path d="M217.69 185.95L224.31 180.29L215.87 178.32L209.27 184.05Z" fill="#86fb4b" stroke="#000" stroke-opacity="0.58" stroke-width="0.7" stroke-linejoin="round"/>
<path d="M195.87 194.76L202.6 189.54L194.31 187.68L187.59 192.99Z" fill="#43fa3f" stroke="#000" stroke-opacity="0.58" stroke-width="0.7" stroke-linejoin="round"/>
<path d="M211.01 191.36L217.69 185.95L209.27 184.05L202.6 189.54Z" fill="#6afb44" stroke="#000" stroke-opacity="0.58" stroke-width="0.7" stroke-linejoin="round"/>
<path d="M204.27 196.49L211.01 191.36L202.6 189.54L195.87 194.76Z" fill="#49f93c" stroke="#000" stroke-opacity="0.58" stroke-width="0.7" stroke-linejoin="round"/>
<circle cx="204.27" cy="86.17" r="2.9" fill="#d8000c" stroke="#7a0000" stroke-width="0.6"/>
<circle cx="204.27" cy="96.96" r="2.9" fill="#d8000c" stroke="#7a0000" stroke-width="0.6"/>
<path d="M204.27 94.46L204.27 102.97" stroke="#3a0a00" stroke-width="0.7" stroke-opacity="0.8"/>
<text x="40.28" y="212.06" textLength="13.96" lengthAdjust="spacingAndGlyphs" style="font-family:&quot;Liberation Sans&quot;,sans-serif;font-size:9.3px;fill:#4a4a4a">140</text>
<text x="39.26" y="190.85" textLength="13.96" lengthAdjust="spacingAndGlyphs" style="font-family:&quot;Liberation Sans&quot;,sans-serif;font-size:9.3px;fill:#4a4a4a">160</text>
<text x="38.23" y="169.63" textLength="13.96" lengthAdjust="spacingAndGlyphs" style="font-family:&quot;Liberation Sans&quot;,sans-serif;font-size:9.3px;fill:#4a4a4a">180</text>
<text x="37.21" y="148.42" textLength="13.96" lengthAdjust="spacingAndGlyphs" style="font-family:&quot;Liberation Sans&quot;,sans-serif;font-size:9.3px;fill:#4a4a4a">200</text>
<text x="36.19" y="127.2" textLength="13.96" lengthAdjust="spacingAndGlyphs" style="font-family:&quot;Liberation Sans&quot;,sans-serif;font-size:9.3px;fill:#4a4a4a">220</text>
<text x="35.17" y="105.99" textLength="13.96" lengthAdjust="spacingAndGlyphs" style="font-family:&quot;Liberation Sans&quot;,sans-serif;font-size:9.3px;fill:#4a4a4a">240</text>
<text x="34.15" y="84.77" textLength="13.96" lengthAdjust="spacingAndGlyphs" style="font-family:&quot;Liberation Sans&quot;,sans-serif;font-size:9.3px;fill:#4a4a4a">260</text>
<text x="33.13" y="63.56" textLength="13.96" lengthAdjust="spacingAndGlyphs" style="font-family:&quot;Liberation Sans&quot;,sans-serif;font-size:9.3px;fill:#4a4a4a">280</text>
<text x="188.04" y="338.24" textLength="11.63" lengthAdjust="spacingAndGlyphs" style="font-family:&quot;Liberation Sans&quot;,sans-serif;font-size:9.3px;fill:#4a4a4a">0.2</text>
<text x="164.31" y="326.86" textLength="11.63" lengthAdjust="spacingAndGlyphs" style="font-family:&quot;Liberation Sans&quot;,sans-serif;font-size:9.3px;fill:#4a4a4a">0.3</text>
<text x="116.85" y="304.1" textLength="11.63" lengthAdjust="spacingAndGlyphs" style="font-family:&quot;Liberation Sans&quot;,sans-serif;font-size:9.3px;fill:#4a4a4a">0.5</text>
<text x="93.12" y="292.72" textLength="11.63" lengthAdjust="spacingAndGlyphs" style="font-family:&quot;Liberation Sans&quot;,sans-serif;font-size:9.3px;fill:#4a4a4a">0.6</text>
<text x="69.4" y="281.33" textLength="11.63" lengthAdjust="spacingAndGlyphs" style="font-family:&quot;Liberation Sans&quot;,sans-serif;font-size:9.3px;fill:#4a4a4a">0.7</text>
<text x="45.67" y="269.95" textLength="11.63" lengthAdjust="spacingAndGlyphs" style="font-family:&quot;Liberation Sans&quot;,sans-serif;font-size:9.3px;fill:#4a4a4a">0.8</text>
<text x="209.37" y="338.24" textLength="11.63" lengthAdjust="spacingAndGlyphs" style="font-family:&quot;Liberation Sans&quot;,sans-serif;font-size:9.3px;fill:#4a4a4a">0.8</text>
<text x="244.96" y="321.17" textLength="16.29" lengthAdjust="spacingAndGlyphs" style="font-family:&quot;Liberation Sans&quot;,sans-serif;font-size:9.3px;fill:#4a4a4a">1.35</text>
<text x="280.56" y="304.1" textLength="11.63" lengthAdjust="spacingAndGlyphs" style="font-family:&quot;Liberation Sans&quot;,sans-serif;font-size:9.3px;fill:#4a4a4a">1.9</text>
<text x="316.15" y="287.02" textLength="16.29" lengthAdjust="spacingAndGlyphs" style="font-family:&quot;Liberation Sans&quot;,sans-serif;font-size:9.3px;fill:#4a4a4a">2.45</text>
<text x="351.74" y="269.95" textLength="4.65" lengthAdjust="spacingAndGlyphs" style="font-family:&quot;Liberation Sans&quot;,sans-serif;font-size:9.3px;fill:#4a4a4a">3</text>
<path d="M141.1 310.4L144.2 310.2" stroke="#555" stroke-width="1"/><text x="146.9" y="314.9" style="font-family:&quot;Liberation Serif&quot;,serif;font-size:7.4px;fill:#333">4</text>
<text x="195.5" y="12.6" style="font-family:&quot;Liberation Serif&quot;,serif;font-size:16.5px;fill:#111;stroke:#111;stroke-width:0.25">a</text>
<text x="42" y="324.9" style="font-family:&quot;Liberation Serif&quot;,serif;font-size:10.85px;fill:#222">B: rGO (mg/mL)</text>
<text x="281" y="326" style="font-family:&quot;Liberation Serif&quot;,serif;font-size:10.85px;fill:#222">A: Bi<tspan dy="2.5" font-size="8px">2</tspan><tspan dy="-2.5">S</tspan><tspan dy="2.5" font-size="8px">3</tspan><tspan dy="-2.5"> (mg/mL)</tspan></text>
<text transform="translate(9.4,165.7) rotate(-90)" text-anchor="middle" style="font-family:&quot;Liberation Serif&quot;,serif;font-size:10.4px;fill:#222">Current (&#956;A)</text>
<path d="M496.53 214.66L640.51 165.92M640.51 165.92L784.5 214.66M495.51 193.5L640.51 146.85M640.51 146.85L785.52 193.5M494.48 172.34L640.51 127.77M640.51 127.77L786.55 172.34M493.46 151.19L640.51 108.69M640.51 108.69L787.57 151.19M492.44 130.03L640.51 89.62M640.51 89.62L788.59 130.03M491.42 108.87L640.51 70.54M640.51 70.54L789.61 108.87M490.39 87.71L640.51 51.46M640.51 51.46L790.64 87.71M489.37 66.56L640.51 32.39M640.51 32.39L791.66 66.56M532.52 202.47L527.16 58.01M568.52 190.29L564.94 49.47M604.52 178.11L602.73 40.93M676.51 178.11L678.3 40.93M712.51 190.29L716.09 49.47M748.5 202.47L753.87 58.01M640.51 208.18L640.51 32.39" stroke="#333" stroke-width="0.9" fill="none"/>
<path d="M498.79 261.52L489.37 66.56M782.24 261.52L791.66 66.56" stroke="#333" stroke-width="0.9" fill="none"/>
<path d="M489.37 66.56L640.51 32.39L791.66 66.56" stroke="#222" stroke-width="1.1" fill="none"/>
<path d="M640.51 329.58 L782.24 261.52 L640.51 208.18 L498.79 261.52 Z" fill="#505050" stroke="#111" stroke-width="1.3" stroke-linejoin="round"/>
<path d="M600.79 310.5 L600.39 310.22 L599.88 309.86 L599.38 309.5 L598.88 309.15 L598.38 308.79 L598.1 308.59 L597.89 308.44 L597.39 308.08 L596.9 307.73 L596.4 307.37 L595.91 307.02 L595.52 306.73 L595.42 306.66 L594.93 306.31 L594.45 305.95 L593.96 305.6 L593.48 305.25 L593.05 304.93 L592.99 304.89 L592.51 304.54 L592.03 304.18 L591.55 303.83 L591.07 303.48 L590.67 303.18 L590.59 303.12 L590.12 302.77 L589.64 302.42 L589.17 302.07 L588.7 301.71 L588.39 301.48 L588.23 301.36 L587.76 301.01 L587.29 300.66 L586.83 300.31 L586.36 299.95 L586.19 299.82 L585.9 299.6 L585.44 299.25 L584.97 298.9 L584.52 298.55 L584.07 298.21 L584.06 298.2 L583.6 297.85 L583.14 297.5 L582.69 297.15 L582.24 296.8 L582.03 296.63 L581.79 296.45 L581.34 296.1 L580.89 295.75 L580.44 295.4 L580.05 295.09 L579.99 295.05 L579.55 294.7 L579.11 294.35 L578.66 294 L578.22 293.65 L578.15 293.59 L577.78 293.3 L577.34 292.95 L576.91 292.6 L576.47 292.25 L576.3 292.12 L576.04 291.91 L575.61 291.56 L575.17 291.21 L574.74 290.86 L574.52 290.68 L574.32 290.51 L573.89 290.17 L573.46 289.82 L573.04 289.47 L572.79 289.27 L572.61 289.12 L572.19 288.78 L571.77 288.43 L571.35 288.08 L571.12 287.89 L570.93 287.74 L570.52 287.39 L570.1 287.04 L569.69 286.7 L569.49 286.53 L569.27 286.35 L568.86 286.01 L568.45 285.66 L568.04 285.31 L567.91 285.21 L567.63 284.97 L567.23 284.62 L566.82 284.28 L566.42 283.93 L566.38 283.9 L566.02 283.59 L565.62 283.24 L565.22 282.9 L564.89 282.62 L564.82 282.55 L564.42 282.21 L564.02 281.87 L563.63 281.52 L563.44 281.36 L563.24 281.18 L562.84 280.83 L562.45 280.49 L562.06 280.15 L562.03 280.12 L561.67 279.8 L561.29 279.46 L560.9 279.12 L560.66 278.9 L560.52 278.78 L560.13 278.43 L559.75 278.09 L559.37 277.75 L559.32 277.7 L558.99 277.41 L558.61 277.06 L558.24 276.72 L558.01 276.52 L557.86 276.38 L557.48 276.04 L557.11 275.7 L556.74 275.36 L556.74 275.35 L556.37 275.02 L556 274.68 L555.63 274.33 L555.49 274.21 L555.26 273.99 L554.9 273.65 L554.53 273.31 L554.28 273.08 L554.17 272.97 L553.8 272.63 L553.44 272.29 L553.09 271.96 L553.08 271.95 L552.72 271.62 L552.37 271.28 L552.01 270.94 L551.92 270.86 L551.65 270.6 L551.3 270.26 L550.95 269.92 L550.79 269.77 L550.59 269.58 L550.24 269.25 L549.89 268.91 L549.67 268.69 L549.54 268.57 L549.2 268.23 L548.85 267.9 L548.58 267.63 L548.5 267.56 L548.16 267.22 L547.82 266.89 L547.51 266.58 L547.48 266.55 L547.13 266.21 L546.79 265.88 L546.46 265.54 L546.46 265.54 L546.12 265.21 L545.78 264.87 L545.45 264.54 L545.43 264.52 L545.11 264.2 L544.78 263.87 L544.45 263.53 L544.42 263.5 L544.11 263.2 L543.78 262.86 L543.46 262.53 L543.43 262.5 L543.13 262.2 L542.8 261.86 L542.47 261.53 L542.45 261.5 L542.15 261.2 L541.83 260.86 L541.5 260.53 L541.49 260.52 L541.18 260.2 L540.86 259.87 L540.55 259.55 L540.54 259.53 L540.22 259.2 L539.9 258.87 L539.62 258.58 L539.59 258.54 L539.27 258.21 L538.95 257.88 L538.71 257.62 L538.64 257.55 L538.33 257.22 L538.01 256.89 L537.81 256.67 L537.7 256.56 L537.39 256.23 L537.08 255.9 L536.93 255.73 L536.77 255.57 L536.47 255.24 L536.16 254.91 L536.06 254.8 L535.85 254.59 L535.55 254.26 L535.24 253.93 L535.2 253.88 L534.94 253.6 L534.64 253.28 L534.35 252.96 L534.34 252.95 L534.04 252.62 L533.74 252.3 L533.51 252.05 L533.44 251.97 L533.14 251.64 L532.84 251.32 L532.69 251.15 L532.55 250.99 L532.25 250.67 L531.96 250.34 L531.88 250.25 L531.66 250.02 L531.37 249.7 L531.08 249.37" stroke="#1ee61e" stroke-width="1.9" fill="none" stroke-linejoin="round"/>
<path d="M652.47 323.83 L652.42 323.8 L651.92 323.46 L651.37 323.09 L650.82 322.72 L650.27 322.34 L649.73 321.97 L649.43 321.77 L649.18 321.6 L648.64 321.23 L648.09 320.86 L647.55 320.49 L647.01 320.11 L646.53 319.78 L646.47 319.74 L645.93 319.37 L645.39 319 L644.86 318.63 L644.32 318.26 L643.79 317.9 L643.71 317.85 L643.25 317.53 L642.72 317.16 L642.19 316.79 L641.66 316.42 L641.13 316.05 L640.99 315.95 L640.61 315.69 L640.08 315.32 L639.56 314.95 L639.03 314.59 L638.51 314.22 L638.34 314.1 L637.99 313.85 L637.47 313.49 L636.95 313.12 L636.43 312.76 L635.92 312.39 L635.78 312.29 L635.4 312.03 L634.89 311.66 L634.38 311.3 L633.86 310.93 L633.35 310.57 L633.29 310.52 L632.85 310.21 L632.34 309.84 L631.83 309.48 L631.32 309.12 L630.86 308.79 L630.82 308.75 L630.32 308.39 L629.81 308.03 L629.31 307.67 L628.81 307.31 L628.51 307.09 L628.32 306.95 L627.82 306.59 L627.32 306.22 L626.83 305.86 L626.33 305.5 L626.22 305.42 L625.84 305.14 L625.35 304.78 L624.86 304.42 L624.37 304.07 L623.99 303.79 L623.88 303.71 L623.39 303.35 L622.91 302.99 L622.42 302.63 L621.94 302.27 L621.82 302.19 L621.46 301.92 L620.98 301.56 L620.5 301.2 L620.02 300.84 L619.71 300.61 L619.54 300.49 L619.06 300.13 L618.59 299.77 L618.12 299.42 L617.65 299.07 L617.64 299.06 L617.17 298.71 L616.7 298.35 L616.23 298 L615.76 297.64 L615.65 297.56 L615.3 297.29 L614.83 296.93 L614.36 296.58 L613.9 296.22 L613.69 296.07 L613.44 295.87 L612.98 295.52 L612.52 295.16 L612.06 294.81 L611.78 294.6 L611.6 294.46 L611.14 294.11 L610.69 293.75 L610.23 293.4 L609.92 293.16 L609.78 293.05 L609.33 292.7 L608.88 292.35 L608.43 292 L608.1 291.74 L607.98 291.65 L607.53 291.3 L607.08 290.95 L606.64 290.6 L606.33 290.35 L606.19 290.25 L605.75 289.9 L605.31 289.55 L604.87 289.2 L604.59 288.98 L604.43 288.85 L603.99 288.5 L603.55 288.15 L603.11 287.8 L602.89 287.63 L602.68 287.46 L602.25 287.11 L601.81 286.76 L601.38 286.41 L601.23 286.29 L600.95 286.07 L600.52 285.72 L600.09 285.37 L599.66 285.03 L599.61 284.98 L599.24 284.68 L598.81 284.34 L598.39 283.99 L598.02 283.69 L597.96 283.64 L597.54 283.3 L597.12 282.95 L596.7 282.61 L596.46 282.41 L596.28 282.27 L595.86 281.92 L595.45 281.58 L595.03 281.23 L594.94 281.16 L594.62 280.89 L594.2 280.55 L593.79 280.2 L593.44 279.91 L593.38 279.86 L592.97 279.52 L592.56 279.18 L592.15 278.84 L591.98 278.69 L591.75 278.49 L591.34 278.15 L590.94 277.81 L590.54 277.48 L590.53 277.47 L590.13 277.13 L589.73 276.79 L589.33 276.45 L589.14 276.28 L588.93 276.11 L588.53 275.77 L588.13 275.43 L587.75 275.11 L587.74 275.09 L587.34 274.75 L586.95 274.41 L586.55 274.07 L586.4 273.94 L586.16 273.73 L585.77 273.4 L585.38 273.06 L585.07 272.79 L584.99 272.72 L584.6 272.38 L584.21 272.05 L583.83 271.71 L583.76 271.65 L583.44 271.37 L583.06 271.04 L582.68 270.7 L582.47 270.52 L582.29 270.36 L581.91 270.03 L581.53 269.69 L581.21 269.41 L581.15 269.36 L580.78 269.02 L580.4 268.69 L580.02 268.35 L579.97 268.31 L579.65 268.02 L579.27 267.69 L578.9 267.35 L578.75 267.22 L578.53 267.02 L578.16 266.69 L577.78 266.35 L577.55 266.14 L577.42 266.02 L577.05 265.69 L576.68 265.36 L576.36 265.07 L576.31 265.02 L575.95 264.69 L575.58 264.36 L575.22 264.03 L575.2 264.01 L574.86 263.7 L574.49 263.37 L574.13 263.04 L574.06 262.97 L573.77 262.71 L573.41 262.38 L573.06 262.05 L572.93 261.93 L572.7 261.72 L572.34 261.39 L571.99 261.06 L571.82 260.9 L571.63 260.73 L571.28 260.41 L570.93 260.08 L570.72 259.89 L570.57 259.75 L570.22 259.42 L569.87 259.1 L569.64 258.88 L569.52 258.77 L569.18 258.44 L568.83 258.12 L568.57 257.88 L568.48 257.79 L568.14 257.47 L567.79 257.14 L567.52 256.89 L567.45 256.81 L567.1 256.49 L566.76 256.17 L566.49 255.9 L566.42 255.84 L566.08 255.52 L565.74 255.19 L565.47 254.93 L565.4 254.87 L565.06 254.55 L564.73 254.22 L564.46 253.96 L564.39 253.9 L564.05 253.58 L563.72 253.26 L563.46 253 L563.39 252.93 L563.05 252.61 L562.72 252.29 L562.47 252.05 L562.39 251.97 L562.06 251.65 L561.73 251.33 L561.5 251.11 L561.4 251.01 L561.07 250.69 L560.74 250.37 L560.54 250.17 L560.42 250.05 L560.09 249.73 L559.76 249.41 L559.59 249.24 L559.44 249.1 L559.12 248.78 L558.79 248.46 L558.65 248.32 L558.47 248.14 L558.15 247.82 L557.83 247.51 L557.72 247.4 L557.51 247.19 L557.19 246.88 L556.87 246.56 L556.8 246.49 L556.55 246.24 L556.23 245.93 L555.92 245.61 L555.89 245.58 L555.6 245.3 L555.29 244.98 L554.99 244.69 L554.97 244.67 L554.66 244.36 L554.35 244.04 L554.1 243.79 L554.03 243.73 L553.72 243.42 L553.41 243.1 L553.21 242.91 L553.1 242.79 L552.79 242.48 L552.48 242.17 L552.34 242.02 L552.17 241.86 L551.87 241.55" stroke="#3cdc1e" stroke-width="1.9" fill="none" stroke-linejoin="round"/>
<path d="M669.09 315.86 L668.56 315.48 L668.09 315.15 L668.03 315.11 L667.5 314.74 L666.97 314.36 L666.44 313.99 L665.92 313.62 L665.71 313.47 L665.39 313.24 L664.87 312.87 L664.35 312.5 L663.83 312.13 L663.39 311.82 L663.31 311.76 L662.79 311.39 L662.27 311.02 L661.76 310.65 L661.24 310.28 L661.12 310.19 L660.73 309.91 L660.22 309.54 L659.7 309.17 L659.19 308.8 L658.9 308.59 L658.68 308.43 L658.18 308.06 L657.67 307.7 L657.16 307.33 L656.74 307.02 L656.66 306.96 L656.16 306.59 L655.65 306.23 L655.15 305.86 L654.65 305.49 L654.62 305.47 L654.15 305.13 L653.66 304.76 L653.16 304.4 L652.66 304.03 L652.54 303.94 L652.17 303.67 L651.67 303.3 L651.18 302.94 L650.69 302.58 L650.51 302.44 L650.2 302.21 L649.71 301.85 L649.22 301.49 L648.74 301.12 L648.53 300.96 L648.25 300.76 L647.77 300.4 L647.28 300.04 L646.8 299.68 L646.58 299.51 L646.32 299.31 L645.84 298.95 L645.36 298.59 L644.89 298.23 L644.68 298.07 L644.41 297.87 L643.93 297.51 L643.46 297.15 L642.99 296.79 L642.81 296.66 L642.51 296.43 L642.04 296.07 L641.57 295.72 L641.1 295.36 L640.98 295.27 L640.64 295 L640.17 294.64 L639.7 294.29 L639.24 293.93 L639.19 293.89 L638.78 293.57 L638.31 293.21 L637.85 292.86 L637.43 292.54 L637.39 292.5 L636.93 292.15 L636.48 291.79 L636.02 291.44 L635.71 291.2 L635.56 291.08 L635.11 290.73 L634.65 290.37 L634.2 290.02 L634.02 289.88 L633.75 289.66 L633.3 289.31 L632.85 288.96 L632.4 288.6 L632.36 288.57 L631.96 288.25 L631.51 287.9 L631.06 287.55 L630.74 287.29 L630.62 287.2 L630.18 286.84 L629.74 286.49 L629.29 286.14 L629.14 286.02 L628.86 285.79 L628.42 285.44 L627.98 285.09 L627.57 284.76 L627.54 284.74 L627.11 284.39 L626.67 284.04 L626.24 283.69 L626.03 283.52 L625.81 283.34 L625.38 282.99 L624.95 282.64 L624.52 282.3 L624.52 282.3 L624.09 281.95 L623.66 281.6 L623.24 281.25 L623.03 281.09 L622.81 280.91 L622.39 280.56 L621.96 280.21 L621.57 279.89 L621.54 279.87 L621.12 279.52 L620.7 279.18 L620.28 278.83 L620.14 278.71 L619.86 278.49 L619.45 278.14 L619.03 277.8 L618.73 277.54 L618.62 277.45 L618.2 277.11 L617.79 276.76 L617.38 276.42 L617.34 276.38 L616.97 276.08 L616.56 275.73 L616.15 275.39 L615.97 275.24 L615.74 275.05 L615.34 274.71 L614.93 274.36 L614.63 274.11 L614.53 274.02 L614.12 273.68 L613.72 273.34 L613.32 273 L613.3 272.99 L612.92 272.66 L612.52 272.32 L612.12 271.98 L612 271.88 L611.72 271.64 L611.32 271.3 L610.93 270.96 L610.72 270.78 L610.53 270.62 L610.14 270.28 L609.75 269.94 L609.46 269.7 L609.35 269.61 L608.96 269.27 L608.57 268.93 L608.21 268.62 L608.18 268.59 L607.8 268.26 L607.41 267.92 L607.02 267.58 L606.99 267.55 L606.64 267.25 L606.25 266.91 L605.87 266.58 L605.78 266.5 L605.49 266.24 L605.11 265.91 L604.73 265.57 L604.59 265.45 L604.35 265.24 L603.97 264.9 L603.59 264.57 L603.42 264.42 L603.21 264.23 L602.84 263.9 L602.46 263.57 L602.26 263.39 L602.09 263.23 L601.72 262.9 L601.34 262.57 L601.12 262.37 L600.97 262.24 L600.6 261.91 L600.23 261.57 L600 261.36 L599.86 261.24 L599.5 260.91 L599.13 260.58 L598.89 260.36 L598.76 260.25 L598.4 259.92 L598.03 259.59 L597.79 259.37 L597.67 259.26 L597.31 258.93 L596.95 258.6 L596.71 258.39 L596.58 258.28 L596.23 257.95 L595.87 257.62 L595.64 257.41 L595.51 257.29 L595.15 256.96 L594.79 256.64 L594.59 256.44 L594.44 256.31 L594.08 255.98 L593.73 255.66 L593.54 255.48 L593.38 255.33 L593.03 255.01 L592.67 254.68 L592.51 254.53 L592.32 254.35 L591.97 254.03 L591.62 253.71 L591.5 253.59 L591.28 253.38 L590.93 253.06 L590.58 252.73 L590.49 252.65 L590.24 252.41 L589.89 252.09 L589.55 251.76 L589.5 251.72 L589.21 251.44 L588.86 251.12 L588.52 250.8 L588.52 250.79 L588.18 250.48 L587.84 250.15 L587.54 249.87 L587.5 249.83 L587.16 249.51 L586.82 249.19 L586.58 248.96 L586.49 248.87 L586.15 248.55 L585.82 248.23 L585.63 248.06 L585.48 247.91 L585.15 247.59 L584.81 247.28 L584.69 247.16 L584.48 246.96 L584.15 246.64 L583.82 246.32 L583.76 246.27 L583.49 246 L583.16 245.69 L582.84 245.38 L582.83 245.37 L582.5 245.05 L582.18 244.74 L581.93 244.5 L581.85 244.42 L581.52 244.11 L581.2 243.79 L581.02 243.62 L580.87 243.48 L580.55 243.16 L580.23 242.85 L580.13 242.75 L579.9 242.53 L579.58 242.22 L579.26 241.91 L579.24 241.88 L578.94 241.59 L578.62 241.28 L578.36 241.02 L578.3 240.97 L577.98 240.66 L577.67 240.34 L577.49 240.17 L577.35 240.03 L577.03 239.72 L576.72 239.41 L576.62 239.32 L576.4 239.1 L576.09 238.79 L575.77 238.48 L575.77 238.47 L575.46 238.17 L575.15 237.86 L574.92 237.63 L574.83 237.55 L574.52 237.24 L574.21 236.94 L574.07 236.8 L573.9 236.63 L573.59 236.32 L573.28 236.01 L573.24 235.97 L572.98 235.71 L572.67 235.4 L572.4 235.14 L572.36 235.09 L572.05 234.79 L571.75 234.48 L571.58 234.32 L571.44 234.18" stroke="#bee614" stroke-width="1.9" fill="none" stroke-linejoin="round"/>
<path d="M685.51 307.97 L685 307.59 L684.81 307.46 L684.49 307.22 L683.99 306.84 L683.48 306.47 L682.98 306.09 L682.9 306.03 L682.48 305.72 L681.98 305.35 L681.48 304.97 L681.01 304.63 L680.98 304.6 L680.48 304.22 L679.98 303.85 L679.49 303.48 L679.17 303.24 L678.99 303.11 L678.5 302.73 L678.01 302.36 L677.52 301.99 L677.36 301.87 L677.03 301.62 L676.54 301.25 L676.05 300.88 L675.58 300.52 L675.56 300.51 L675.08 300.14 L674.6 299.77 L674.11 299.4 L673.84 299.19 L673.63 299.03 L673.15 298.66 L672.67 298.29 L672.19 297.92 L672.13 297.87 L671.72 297.56 L671.24 297.19 L670.77 296.82 L670.45 296.57 L670.29 296.45 L669.82 296.09 L669.35 295.72 L668.88 295.35 L668.8 295.29 L668.41 294.99 L667.94 294.62 L667.48 294.26 L667.18 294.02 L667.01 293.89 L666.55 293.52 L666.08 293.16 L665.62 292.8 L665.59 292.77 L665.16 292.43 L664.7 292.07 L664.24 291.7 L664.03 291.54 L663.78 291.34 L663.33 290.98 L662.87 290.62 L662.5 290.31 L662.42 290.25 L661.96 289.89 L661.51 289.53 L661.06 289.17 L660.99 289.11 L660.61 288.81 L660.16 288.44 L659.72 288.08 L659.51 287.91 L659.27 287.72 L658.83 287.36 L658.38 287 L658.05 286.73 L657.94 286.64 L657.5 286.28 L657.06 285.92 L656.62 285.57 L656.62 285.56 L656.18 285.21 L655.74 284.85 L655.31 284.49 L655.21 284.41 L654.87 284.13 L654.44 283.77 L654 283.42 L653.83 283.27 L653.57 283.06 L653.14 282.7 L652.71 282.35 L652.47 282.15 L652.28 281.99 L651.86 281.63 L651.43 281.28 L651.13 281.03 L651.01 280.92 L650.58 280.57 L650.16 280.21 L649.82 279.92 L649.74 279.86 L649.32 279.5 L648.9 279.15 L648.53 278.83 L648.48 278.79 L648.06 278.44 L647.65 278.09 L647.25 277.75 L647.23 277.73 L646.82 277.38 L646.41 277.03 L646 276.68 L645.99 276.68 L645.58 276.32 L645.18 275.97 L644.77 275.62 L644.77 275.62 L644.36 275.27 L643.95 274.92 L643.56 274.57 L643.55 274.57 L643.15 274.21 L642.74 273.86 L642.36 273.53 L642.34 273.51 L641.94 273.16 L641.54 272.81 L641.19 272.51 L641.14 272.47 L640.74 272.12 L640.35 271.77 L640.03 271.49 L639.95 271.42 L639.56 271.07 L639.17 270.72 L638.89 270.48 L638.77 270.37 L638.38 270.03 L637.99 269.68 L637.77 269.48 L637.61 269.33 L637.22 268.98 L636.83 268.64 L636.67 268.49 L636.45 268.29 L636.06 267.95 L635.68 267.6 L635.58 267.51 L635.3 267.25 L634.92 266.91 L634.53 266.56 L634.51 266.54 L634.16 266.22 L633.78 265.87 L633.45 265.58 L633.4 265.53 L633.03 265.18 L632.65 264.84 L632.42 264.62 L632.28 264.5 L631.91 264.15 L631.53 263.81 L631.39 263.68 L631.16 263.47 L630.79 263.12 L630.43 262.78 L630.38 262.74 L630.06 262.44 L629.69 262.1 L629.39 261.81 L629.33 261.76 L628.96 261.41 L628.6 261.07 L628.41 260.89 L628.24 260.73 L627.88 260.39 L627.52 260.05 L627.44 259.98 L627.16 259.71 L626.8 259.37 L626.49 259.08 L626.44 259.03 L626.09 258.69 L625.73 258.35 L625.56 258.18 L625.38 258.01 L625.03 257.67 L624.68 257.33 L624.63 257.29 L624.33 257 L623.98 256.66 L623.72 256.41 L623.63 256.32 L623.28 255.98 L622.94 255.64 L622.82 255.53 L622.59 255.31 L622.25 254.97 L621.94 254.66 L621.9 254.63 L621.56 254.3 L621.22 253.96 L621.06 253.8 L620.88 253.62 L620.54 253.29 L620.2 252.95 L620.2 252.95 L619.87 252.62 L619.53 252.28 L619.35 252.1 L619.2 251.95 L618.86 251.61 L618.53 251.28 L618.51 251.26 L618.2 250.94 L617.87 250.61 L617.69 250.43 L617.54 250.28 L617.21 249.94 L616.88 249.61 L616.87 249.6 L616.56 249.28 L616.23 248.94 L616.07 248.78 L615.91 248.61 L615.58 248.28 L615.28 247.96 L615.26 247.95 L614.94 247.61 L614.62 247.28 L614.49 247.15 L614.3 246.95 L613.98 246.62 L613.72 246.35 L613.66 246.29 L613.35 245.96 L613.03 245.63 L612.96 245.55 L612.72 245.3 L612.4 244.97 L612.21 244.76 L612.09 244.64 L611.78 244.31 L611.47 243.98 L611.47 243.98 L611.16 243.65 L610.85 243.32 L610.74 243.2 L610.55 242.99 L610.24 242.66 L610.02 242.43 L609.94 242.33 L609.63 242 L609.33 241.68 L609.31 241.66 L609.03 241.35 L608.73 241.02 L608.61 240.89 L608.43 240.69 L608.13 240.37 L607.92 240.14 L607.83 240.04 L607.53 239.71 L607.23 239.39 L607.23 239.38 L606.94 239.06 L606.65 238.74 L606.56 238.64 L606.35 238.41 L606.06 238.08 L605.89 237.9 L605.77 237.76 L605.48 237.43 L605.24 237.16 L605.19 237.11 L604.91 236.78 L604.62 236.46 L604.59 236.43 L604.33 236.13 L604.05 235.81 L603.95 235.7 L603.76 235.49 L603.48 235.16 L603.32 234.98 L603.2 234.84 L602.92 234.52 L602.7 234.26 L602.64 234.19 L602.36 233.87 L602.09 233.55 L602.08 233.55 L601.81 233.22 L601.53 232.9 L601.48 232.85 L601.26 232.58 L600.98 232.26 L600.89 232.14 L600.71 231.94 L600.44 231.61 L600.3 231.45 L600.17 231.29 L599.9 230.97 L599.72 230.75 L599.63 230.65 L599.37 230.33 L599.14 230.07 L599.1 230.01 L598.84 229.69 L598.58 229.38 L598.57 229.37 L598.31 229.05 L598.05 228.73 L598.02 228.7 L597.79 228.41 L597.53 228.09 L597.48 228.03 L597.27 227.77 L597.01 227.45 L596.93 227.36 L596.75 227.13 L596.5 226.81 L596.4 226.69 L596.24 226.49 L595.99 226.18 L595.88 226.03 L595.74 225.86 L595.49 225.54 L595.36 225.38 L595.24 225.22" stroke="#e6e10a" stroke-width="1.9" fill="none" stroke-linejoin="round"/>
<path d="M632.42 211.23 L632.97 211.42 L633.52 211.61 L634.07 211.81 L634.61 212 L635.16 212.19 L635.71 212.39 L636.19 212.56 L636.26 212.58 L636.81 212.78 L637.36 212.97 L637.91 213.17 L638.46 213.37 L639.01 213.56 L639.56 213.76 L640.11 213.96 L640.66 214.15 L641.21 214.35 L641.76 214.55 L642.32 214.74 L642.87 214.94 L643.42 215.14 L643.97 215.34 L644.53 215.54 L645.08 215.74 L645.63 215.94 L646.19 216.14 L646.74 216.33 L647.3 216.53 L647.85 216.73 L648.41 216.93 L648.96 217.14 L649.52 217.34 L650.08 217.54 L650.63 217.74 L651.19 217.94 L651.75 218.14 L652.31 218.34 L652.87 218.55 L653.43 218.75 L653.99 218.95 L654.55 219.15 L654.7 219.21 L655.11 219.36 L655.67 219.56 L656.23 219.76 L656.79 219.97 L657.35 220.17 L657.91 220.37 L658.47 220.58 L659.04 220.78 L659.6 220.99 L660.16 221.19 L660.73 221.4 L661.29 221.61 L661.86 221.81 L662.42 222.02 L662.99 222.22 L663.55 222.43 L664.12 222.64 L664.69 222.84 L665.25 223.05 L665.82 223.26 L666.39 223.46 L666.96 223.67 L667.53 223.88 L668.1 224.09 L668.67 224.3 L669.24 224.51 L669.81 224.71 L670.38 224.92 L670.95 225.13 L671.53 225.34 L672.1 225.55 L672.67 225.76 L673.25 225.97 L673.82 226.18 L674.4 226.39 L674.97 226.6 L675.55 226.81 L676.12 227.03 L676.7 227.24 L677.28 227.45 L677.86 227.66 L678.43 227.87 L679.01 228.08 L679.59 228.3 L680.17 228.51 L680.75 228.72 L680.98 228.81 L681.33 228.94 L681.91 229.15 L682.49 229.36 L683.08 229.58 L683.66 229.79 L684.24 230 L684.83 230.22 L685.41 230.43 L685.99 230.65 L686.58 230.86 L687.17 231.08 L687.75 231.29 L688.34 231.51 L688.92 231.73 L689.51 231.94 L690.1 232.16 L690.69 232.38 L691.28 232.59 L691.87 232.81 L692.46 233.03 L693.05 233.24 L693.64 233.46 L694.23 233.68 L694.82 233.9 L695.42 234.12 L696.01 234.33 L696.6 234.55 L697.2 234.77 L697.79 234.99 L698.39 235.21 L698.99 235.43 L699.58 235.65 L700.18 235.87 L700.78 236.09 L701.38 236.31 L701.97 236.53 L702.57 236.75 L703.17 236.97 L703.77 237.2 L704.38 237.42 L704.98 237.64 L705.58 237.86 L706.18 238.08 L706.79 238.3 L707.39 238.53 L707.99 238.75 L708.6 238.97 L709.2 239.2 L709.81 239.42 L710.42 239.64 L711.02 239.87 L711.63 240.09 L712.24 240.32 L712.85 240.54 L713.46 240.77 L714.07 240.99 L714.68 241.22 L715.22 241.41 L715.29 241.44 L715.9 241.67 L716.51 241.89 L717.13 242.12 L717.74 242.35 L718.35 242.57 L718.97 242.8 L719.58 243.03 L720.2 243.25 L720.82 243.48 L721.43 243.71 L722.05 243.94 L722.67 244.16 L723.29 244.39 L723.91 244.62 L724.52 244.85 L725.15 245.08 L725.77 245.31 L726.39 245.54 L727.01 245.77 L727.63 246 L728.26 246.23 L728.88 246.46 L729.5 246.69 L730.13 246.92 L730.76 247.15 L731.38 247.38 L732.01 247.61 L732.64 247.84 L733.26 248.08 L733.89 248.31 L734.52 248.54 L735.15 248.77 L735.78 249.01 L736.41 249.24 L737.05 249.47 L737.68 249.71 L738.31 249.94 L738.95 250.17 L739.58 250.41 L740.21 250.64 L740.85 250.88 L741.49 251.11 L742.12 251.35 L742.76 251.58 L743.4 251.82 L744.04 252.05 L744.68 252.29 L745.32 252.53 L745.96 252.76 L746.6 253 L747.24 253.24 L747.88 253.47 L748.52 253.71 L749.17 253.95 L749.81 254.19 L750.46 254.42 L751.1 254.66 L751.75 254.9 L752.4 255.14 L753.04 255.38 L753.69 255.62 L754.31 255.84 L754.34 255.86 L754.99 256.1 L755.64 256.34 L756.29 256.58 L756.94 256.82 L757.59 257.06 L758.25 257.3 L758.9 257.54 L759.55 257.78 L760.21 258.02 L760.86 258.26 L761.52 258.51 L762.18 258.75 L762.83 258.99 L763.49 259.23 L764.15 259.48 L764.81 259.72 L765.47 259.96 L766.13 260.21 L766.79 260.45 L767.45 260.7 L768.11 260.94 L768.78 261.18 L769.44 261.43 L770.11 261.67 L770.77 261.92 L771.44 262.17 L772.1 262.41 L772.77 262.66 L773.44 262.9 L774.11 263.15 L774.78 263.4 L775.44 263.64 L776.12 263.89 L776.79 264.14" stroke="#e6e10a" stroke-width="1.9" fill="none" stroke-linejoin="round"/>
<path d="M703.63 299.27 L703.16 298.88 L702.69 298.5 L702.63 298.45 L702.23 298.11 L701.76 297.73 L701.3 297.35 L701.27 297.32 L700.84 296.96 L700.38 296.58 L699.93 296.2 L699.92 296.19 L699.47 295.81 L699.01 295.43 L698.62 295.09 L698.56 295.04 L698.11 294.66 L697.66 294.28 L697.33 294 L697.21 293.89 L696.76 293.51 L696.31 293.13 L696.07 292.92 L695.87 292.74 L695.43 292.36 L694.98 291.98 L694.84 291.85 L694.54 291.6 L694.11 291.22 L693.67 290.83 L693.63 290.8 L693.23 290.45 L692.8 290.07 L692.44 289.76 L692.37 289.69 L691.94 289.31 L691.51 288.93 L691.28 288.73 L691.08 288.55 L690.65 288.17 L690.23 287.79 L690.15 287.72 L689.8 287.41 L689.38 287.03 L689.03 286.71 L688.96 286.65 L688.54 286.27 L688.12 285.89 L687.94 285.72 L687.71 285.51 L687.3 285.13 L686.88 284.75 L686.88 284.74 L686.47 284.37 L686.06 283.99 L685.83 283.77 L685.66 283.61 L685.25 283.23 L684.85 282.85 L684.81 282.82 L684.45 282.47 L684.04 282.09 L683.81 281.87 L683.65 281.71 L683.25 281.33 L682.85 280.95 L682.83 280.94 L682.46 280.57 L682.07 280.19 L681.88 280.01 L681.68 279.82 L681.29 279.44 L680.94 279.1 L680.9 279.06 L680.52 278.68 L680.13 278.3 L680.03 278.2 L679.75 277.92 L679.37 277.54 L679.14 277.31 L679 277.16 L678.62 276.78 L678.27 276.43 L678.25 276.41 L677.87 276.03 L677.5 275.65 L677.42 275.56 L677.14 275.27 L676.77 274.89 L676.59 274.7 L676.41 274.51 L676.04 274.13 L675.78 273.85 L675.68 273.75 L675.33 273.37 L674.99 273.01 L674.97 272.99 L674.62 272.61 L674.26 272.23 L674.22 272.18 L673.92 271.85 L673.57 271.47 L673.47 271.36 L673.22 271.09 L672.88 270.71 L672.74 270.55 L672.54 270.33 L672.2 269.95 L672.03 269.76 L671.87 269.57 L671.53 269.18 L671.34 268.97 L671.2 268.8 L670.87 268.42 L670.68 268.19 L670.55 268.04 L670.22 267.65 L670.03 267.42 L669.9 267.27 L669.59 266.89 L669.4 266.66 L669.27 266.5 L668.96 266.12 L668.79 265.91 L668.65 265.73 L668.34 265.35 L668.2 265.17 L668.04 264.96 L667.74 264.58 L667.63 264.44 L667.44 264.19 L667.14 263.8 L667.08 263.72 L666.85 263.41 L666.56 263.03 L666.55 263.01 L666.28 262.64 L666.05 262.31 L666 262.25 L665.72 261.86 L665.56 261.62 L665.45 261.46 L665.18 261.07 L665.09 260.94 L664.92 260.68 L664.65 260.28 L664.65 260.27 L664.4 259.89 L664.22 259.61 L664.15 259.49 L663.9 259.09 L663.82 258.96 L663.66 258.69 L663.43 258.32 L663.42 258.29 L663.19 257.89 L663.07 257.69 L662.96 257.49 L662.74 257.08 L662.74 257.07 L662.53 256.67 L662.42 256.46 L662.32 256.26 L662.13 255.86 L662.12 255.85 L661.93 255.44 L661.85 255.27 L661.75 255.02 L661.61 254.7 L661.57 254.6 L661.4 254.18 L661.38 254.13 L661.25 253.75 L661.19 253.57 L661.11 253.32 L661.01 253.03 L660.97 252.89 L660.86 252.5 L660.85 252.45 L660.75 252.01 L660.74 251.97 L660.66 251.55 L660.64 251.46 L660.59 251.1 L660.58 250.97 L660.55 250.63 L660.54 250.48 L660.53 250.15 L660.52 250.01 L660.54 249.67 L660.54 249.55 L660.59 249.16 L660.59 249.1 L660.67 248.67 L660.68 248.64 L660.79 248.25 L660.85 248.09 L660.93 247.85 L661.09 247.51 L661.12 247.46 L661.34 247.09 L661.5 246.86 L661.59 246.73 L661.89 246.39 L662.2 246.09 L662.23 246.06 L662.61 245.76 L663.04 245.47 L663.51 245.2 L664.03 244.96 L664.61 244.73 L665.23 244.52 L665.92 244.34 L666.66 244.19 L666.86 244.15 L667.47 244.05 L668.35 243.95 L668.53 243.93 L669.29 243.87 L669.88 243.84 L670.32 243.83 L671.09 243.81 L671.42 243.81 L672.21 243.82 L672.6 243.83 L673.26 243.86 L673.88 243.89 L674.27 243.91 L675.25 243.98 L675.26 243.98 L676.19 244.06 L676.73 244.11 L677.11 244.15 L678.01 244.25 L678.32 244.29 L678.9 244.36 L679.76 244.48 L680.03 244.51 L680.62 244.6 L681.46 244.72 L681.86 244.79 L682.29 244.86 L683.11 244.99 L683.84 245.11 L683.93 245.13 L684.73 245.27 L685.53 245.42 L685.96 245.5 L686.32 245.57 L687.1 245.72 L687.89 245.87 L688.24 245.94 L688.66 246.03 L689.43 246.19 L690.2 246.35 L690.69 246.46 L690.96 246.52 L691.71 246.68 L692.47 246.85 L693.22 247.02 L693.33 247.04 L693.97 247.19 L694.71 247.37 L695.45 247.54 L696.18 247.71 L696.19 247.71 L696.93 247.89 L697.66 248.07 L698.39 248.25 L699.13 248.43 L699.24 248.46 L699.85 248.61 L700.58 248.8 L701.3 248.98 L702.03 249.17 L702.55 249.3 L702.75 249.36 L703.47 249.54 L704.18 249.73 L704.9 249.92 L705.62 250.11 L706.13 250.25 L706.33 250.31 L707.05 250.5 L707.76 250.69 L708.47 250.89 L709.18 251.08 L709.89 251.28 L709.99 251.31 L710.6 251.48 L711.3 251.67 L712.01 251.87 L712.72 252.07 L713.42 252.27 L714.13 252.47 L714.16 252.48 L714.83 252.68 L715.53 252.88 L716.24 253.08 L716.94 253.28 L717.64 253.49 L718.34 253.69 L718.68 253.79 L719.04 253.9 L719.74 254.1 L720.44 254.31 L721.14 254.52 L721.84 254.73 L722.54 254.94 L723.24 255.14 L723.58 255.25 L723.94 255.35 L724.64 255.56 L725.34 255.77 L726.03 255.99 L726.73 256.2 L727.43 256.41 L728.13 256.62 L728.83 256.84 L728.9 256.86 L729.52 257.05 L730.22 257.26 L730.92 257.48 L731.61 257.7 L732.31 257.91 L733.01 258.13 L733.7 258.34 L734.4 258.56 L734.67 258.64 L735.1 258.78 L735.79 259 L736.49 259.22 L737.19 259.44 L737.88 259.66 L738.58 259.88 L739.28 260.1 L739.98 260.32 L740.68 260.54 L740.94 260.62 L741.37 260.76 L742.07 260.98 L742.77 261.21 L743.47 261.43 L744.16 261.65 L744.86 261.88 L745.56 262.1 L746.26 262.32 L746.96 262.55 L747.66 262.77 L747.75 262.81 L748.36 263 L749.06 263.23 L749.76 263.45 L750.46 263.68 L751.16 263.91 L751.86 264.14 L752.56 264.37 L753.26 264.59 L753.96 264.82 L754.66 265.05 L755.16 265.22 L755.37 265.28 L756.07 265.51 L756.77 265.74 L757.47 265.97 L758.17 266.21 L758.88 266.44 L759.58 266.67 L760.29 266.9 L760.99 267.14 L761.7 267.37 L762.4 267.6 L763.11 267.84 L763.22 267.87 L763.81 268.07 L764.52 268.3 L765.23 268.54 L765.93 268.78 L766.64 269.01" stroke="#f0aa0a" stroke-width="1.9" fill="none" stroke-linejoin="round"/>
<path d="M640.51 329.58 L782.24 261.52 L640.51 208.18 L498.79 261.52 Z" fill="none" stroke="#111" stroke-width="1.3" stroke-linejoin="round"/>
<circle cx="640.51" cy="329.58" r="1.5" fill="#000"/>
<circle cx="605.08" cy="312.56" r="1.5" fill="#000"/>
<circle cx="569.65" cy="295.55" r="1.5" fill="#000"/>
<circle cx="534.22" cy="278.54" r="1.5" fill="#000"/>
<circle cx="498.79" cy="261.52" r="1.5" fill="#000"/>
<circle cx="640.51" cy="329.58" r="1.5" fill="#000"/>
<circle cx="675.94" cy="312.56" r="1.5" fill="#000"/>
<circle cx="711.37" cy="295.55" r="1.5" fill="#000"/>
<circle cx="746.81" cy="278.54" r="1.5" fill="#000"/>
<circle cx="782.24" cy="261.52" r="1.5" fill="#000"/>
<circle cx="496.53" cy="214.66" r="1.5" fill="#000"/>
<circle cx="495.51" cy="193.5" r="1.5" fill="#000"/>
<circle cx="494.48" cy="172.34" r="1.5" fill="#000"/>
<circle cx="493.46" cy="151.19" r="1.5" fill="#000"/>
<circle cx="492.44" cy="130.03" r="1.5" fill="#000"/>
<circle cx="491.42" cy="108.87" r="1.5" fill="#000"/>
<circle cx="490.39" cy="87.71" r="1.5" fill="#000"/>
<circle cx="489.37" cy="66.56" r="1.5" fill="#000"/>
<path d="M641.85 75.31L647.15 77.63L640.51 75.66L635.2 73.57Z" fill="#849700" stroke="#000" stroke-opacity="0.58" stroke-width="0.7" stroke-linejoin="round"/>
<path d="M636.49 73.9L641.85 75.31L635.2 73.57L629.84 72.36Z" fill="#e2dd00" stroke="#000" stroke-opacity="0.58" stroke-width="0.7" stroke-linejoin="round"/>
<path d="M648.57 77.08L653.86 79.62L647.15 77.63L641.85 75.31Z" fill="#849800" stroke="#000" stroke-opacity="0.58" stroke-width="0.7" stroke-linejoin="round"/>
<path d="M631.07 73.34L636.49 73.9L629.84 72.36L624.41 71.99Z" fill="#e5d700" stroke="#000" stroke-opacity="0.58" stroke-width="0.7" stroke-linejoin="round"/>
<path d="M643.22 75.45L648.57 77.08L641.85 75.31L636.49 73.9Z" fill="#8b9600" stroke="#000" stroke-opacity="0.58" stroke-width="0.7" stroke-linejoin="round"/>
<path d="M655.37 78.85L660.65 81.63L653.86 79.62L648.57 77.08Z" fill="#849800" stroke="#000" stroke-opacity="0.58" stroke-width="0.7" stroke-linejoin="round"/>
<path d="M625.59 73.58L631.07 73.34L624.41 71.99L618.94 72.4Z" fill="#e8d402" stroke="#000" stroke-opacity="0.58" stroke-width="0.7" stroke-linejoin="round"/>
<path d="M637.8 74.7L643.22 75.45L636.49 73.9L631.07 73.34Z" fill="#e4d500" stroke="#000" stroke-opacity="0.58" stroke-width="0.7" stroke-linejoin="round"/>
<path d="M662.25 80.65L667.52 83.65L660.65 81.63L655.37 78.85Z" fill="#849900" stroke="#000" stroke-opacity="0.58" stroke-width="0.7" stroke-linejoin="round"/>
<path d="M650.02 77.02L655.37 78.85L648.57 77.08L643.22 75.45Z" fill="#8c9600" stroke="#000" stroke-opacity="0.58" stroke-width="0.7" stroke-linejoin="round"/>
<path d="M620.07 74.56L625.59 73.58L618.94 72.4L613.42 73.54Z" fill="#ebd406" stroke="#000" stroke-opacity="0.58" stroke-width="0.7" stroke-linejoin="round"/>
<path d="M632.33 74.77L637.8 74.7L631.07 73.34L625.59 73.58Z" fill="#e7d202" stroke="#000" stroke-opacity="0.58" stroke-width="0.7" stroke-linejoin="round"/>
<path d="M644.61 76.08L650.02 77.02L643.22 75.45L637.8 74.7Z" fill="#e3d300" stroke="#000" stroke-opacity="0.58" stroke-width="0.7" stroke-linejoin="round"/>
<path d="M669.21 82.46L674.46 85.68L667.52 83.65L662.25 80.65Z" fill="#859a00" stroke="#000" stroke-opacity="0.58" stroke-width="0.7" stroke-linejoin="round"/>
<path d="M656.91 78.61L662.25 80.65L655.37 78.85L650.02 77.02Z" fill="#8c9700" stroke="#000" stroke-opacity="0.58" stroke-width="0.7" stroke-linejoin="round"/>
<path d="M614.5 76.23L620.07 74.56L613.42 73.54L607.86 75.35Z" fill="#edd70a" stroke="#000" stroke-opacity="0.58" stroke-width="0.7" stroke-linejoin="round"/>
<path d="M626.8 75.6L632.33 74.77L625.59 73.58L620.07 74.56Z" fill="#ead105" stroke="#000" stroke-opacity="0.58" stroke-width="0.7" stroke-linejoin="round"/>
<path d="M639.14 75.97L644.61 76.08L637.8 74.7L632.33 74.77Z" fill="#e7cf01" stroke="#000" stroke-opacity="0.58" stroke-width="0.7" stroke-linejoin="round"/>
<path d="M651.51 77.47L656.91 78.61L650.02 77.02L644.61 76.08Z" fill="#e3d100" stroke="#000" stroke-opacity="0.58" stroke-width="0.7" stroke-linejoin="round"/>
<path d="M676.25 84.29L681.49 87.74L674.46 85.68L669.21 82.46Z" fill="#859a00" stroke="#000" stroke-opacity="0.58" stroke-width="0.7" stroke-linejoin="round"/>
<path d="M663.88 80.21L669.21 82.46L662.25 80.65L656.91 78.61Z" fill="#8d9800" stroke="#000" stroke-opacity="0.58" stroke-width="0.7" stroke-linejoin="round"/>
<path d="M608.88 78.53L614.5 76.23L607.86 75.35L602.25 77.77Z" fill="#efdb0f" stroke="#000" stroke-opacity="0.58" stroke-width="0.7" stroke-linejoin="round"/>
<path d="M621.23 77.13L626.8 75.6L620.07 74.56L614.5 76.23Z" fill="#edd309" stroke="#000" stroke-opacity="0.58" stroke-width="0.7" stroke-linejoin="round"/>
<path d="M633.62 76.65L639.14 75.97L632.33 74.77L626.8 75.6Z" fill="#eace04" stroke="#000" stroke-opacity="0.58" stroke-width="0.7" stroke-linejoin="round"/>
<path d="M646.04 77.19L651.51 77.47L644.61 76.08L639.14 75.97Z" fill="#e6cc01" stroke="#000" stroke-opacity="0.58" stroke-width="0.7" stroke-linejoin="round"/>
<path d="M603.23 81.41L608.88 78.53L602.25 77.77L596.6 80.74Z" fill="#f1e215" stroke="#000" stroke-opacity="0.58" stroke-width="0.7" stroke-linejoin="round"/>
<path d="M683.37 86.13L688.6 89.81L681.49 87.74L676.25 84.29Z" fill="#859b00" stroke="#000" stroke-opacity="0.58" stroke-width="0.7" stroke-linejoin="round"/>
<path d="M658.48 78.88L663.88 80.21L656.91 78.61L651.51 77.47Z" fill="#939500" stroke="#000" stroke-opacity="0.58" stroke-width="0.7" stroke-linejoin="round"/>
<path d="M670.93 81.83L676.25 84.29L669.21 82.46L663.88 80.21Z" fill="#8e9800" stroke="#000" stroke-opacity="0.58" stroke-width="0.7" stroke-linejoin="round"/>
<path d="M615.61 79.32L621.23 77.13L614.5 76.23L608.88 78.53Z" fill="#efd70e" stroke="#000" stroke-opacity="0.58" stroke-width="0.7" stroke-linejoin="round"/>
<path d="M628.04 78.05L633.62 76.65L626.8 75.6L621.23 77.13Z" fill="#eccf08" stroke="#000" stroke-opacity="0.58" stroke-width="0.7" stroke-linejoin="round"/>
<path d="M597.52 84.79L603.23 81.41L596.6 80.74L590.91 84.21Z" fill="#f3ea1a" stroke="#000" stroke-opacity="0.58" stroke-width="0.7" stroke-linejoin="round"/>
<path d="M640.51 77.71L646.04 77.19L639.14 75.97L633.62 76.65Z" fill="#e9ca03" stroke="#000" stroke-opacity="0.58" stroke-width="0.7" stroke-linejoin="round"/>
<path d="M653.02 78.43L658.48 78.88L651.51 77.47L646.04 77.19Z" fill="#e5ca00" stroke="#000" stroke-opacity="0.58" stroke-width="0.7" stroke-linejoin="round"/>
<path d="M690.58 87.99L695.79 91.9L688.6 89.81L683.37 86.13Z" fill="#859b00" stroke="#000" stroke-opacity="0.58" stroke-width="0.7" stroke-linejoin="round"/>
<path d="M609.94 82.09L615.61 79.32L608.88 78.53L603.23 81.41Z" fill="#f1dd13" stroke="#000" stroke-opacity="0.58" stroke-width="0.7" stroke-linejoin="round"/>
<path d="M665.54 80.31L670.93 81.83L663.88 80.21L658.48 78.88Z" fill="#949600" stroke="#000" stroke-opacity="0.58" stroke-width="0.7" stroke-linejoin="round"/>
<path d="M678.07 83.46L683.37 86.13L676.25 84.29L670.93 81.83Z" fill="#8f9900" stroke="#000" stroke-opacity="0.58" stroke-width="0.7" stroke-linejoin="round"/>
<path d="M622.41 80.11L628.04 78.05L621.23 77.13L615.61 79.32Z" fill="#efd30d" stroke="#000" stroke-opacity="0.58" stroke-width="0.7" stroke-linejoin="round"/>
<path d="M591.78 88.64L597.52 84.79L590.91 84.21L585.17 88.11Z" fill="#f4f21e" stroke="#000" stroke-opacity="0.58" stroke-width="0.7" stroke-linejoin="round"/>
<path d="M634.93 78.98L640.51 77.71L633.62 76.65L628.04 78.05Z" fill="#eccc07" stroke="#000" stroke-opacity="0.58" stroke-width="0.7" stroke-linejoin="round"/>
<path d="M604.23 85.4L609.94 82.09L603.23 81.41L597.52 84.79Z" fill="#f2e519" stroke="#000" stroke-opacity="0.58" stroke-width="0.7" stroke-linejoin="round"/>
<path d="M647.5 78.8L653.02 78.43L646.04 77.19L640.51 77.71Z" fill="#e8c702" stroke="#000" stroke-opacity="0.58" stroke-width="0.7" stroke-linejoin="round"/>
<path d="M660.09 79.68L665.54 80.31L658.48 78.88L653.02 78.43Z" fill="#e4c700" stroke="#000" stroke-opacity="0.58" stroke-width="0.7" stroke-linejoin="round"/>
<path d="M697.88 89.87L703.06 94L695.79 91.9L690.58 87.99Z" fill="#869c00" stroke="#000" stroke-opacity="0.58" stroke-width="0.7" stroke-linejoin="round"/>
<path d="M586 92.87L591.78 88.64L585.17 88.11L579.41 92.39Z" fill="#eef523" stroke="#000" stroke-opacity="0.58" stroke-width="0.7" stroke-linejoin="round"/>
<path d="M672.69 81.75L678.07 83.46L670.93 81.83L665.54 80.31Z" fill="#969600" stroke="#000" stroke-opacity="0.58" stroke-width="0.7" stroke-linejoin="round"/>
<path d="M685.3 85.11L690.58 87.99L683.37 86.13L678.07 83.46Z" fill="#909900" stroke="#000" stroke-opacity="0.58" stroke-width="0.7" stroke-linejoin="round"/>
<path d="M616.74 82.79L622.41 80.11L615.61 79.32L609.94 82.09Z" fill="#f1d912" stroke="#000" stroke-opacity="0.58" stroke-width="0.7" stroke-linejoin="round"/>
<path d="M629.3 80.93L634.93 78.98L628.04 78.05L622.41 80.11Z" fill="#eecf0c" stroke="#000" stroke-opacity="0.58" stroke-width="0.7" stroke-linejoin="round"/>
<path d="M598.48 89.18L604.23 85.4L597.52 84.79L591.78 88.64Z" fill="#f4ee1e" stroke="#000" stroke-opacity="0.58" stroke-width="0.7" stroke-linejoin="round"/>
<path d="M641.92 79.92L647.5 78.8L640.51 77.71L634.93 78.98Z" fill="#ebc806" stroke="#000" stroke-opacity="0.58" stroke-width="0.7" stroke-linejoin="round"/>
<path d="M580.18 97.44L586 92.87L579.41 92.39L573.6 96.99Z" fill="#e5f526" stroke="#000" stroke-opacity="0.58" stroke-width="0.7" stroke-linejoin="round"/>
<path d="M611.02 86.02L616.74 82.79L609.94 82.09L604.23 85.4Z" fill="#f2e018" stroke="#000" stroke-opacity="0.58" stroke-width="0.7" stroke-linejoin="round"/>
<path d="M654.57 79.89L660.09 79.68L653.02 78.43L647.5 78.8Z" fill="#e7c402" stroke="#000" stroke-opacity="0.58" stroke-width="0.7" stroke-linejoin="round"/>
<path d="M667.24 80.95L672.69 81.75L665.54 80.31L660.09 79.68Z" fill="#e3c400" stroke="#000" stroke-opacity="0.58" stroke-width="0.7" stroke-linejoin="round"/>
<path d="M705.26 91.76L710.42 96.12L703.06 94L697.88 89.87Z" fill="#869c00" stroke="#000" stroke-opacity="0.58" stroke-width="0.7" stroke-linejoin="round"/>
<path d="M679.93 83.21L685.3 85.11L678.07 83.46L672.69 81.75Z" fill="#979700" stroke="#000" stroke-opacity="0.58" stroke-width="0.7" stroke-linejoin="round"/>
<path d="M692.61 86.78L697.88 89.87L690.58 87.99L685.3 85.11Z" fill="#909a00" stroke="#000" stroke-opacity="0.58" stroke-width="0.7" stroke-linejoin="round"/>
<path d="M592.68 93.37L598.48 89.18L591.78 88.64L586 92.87Z" fill="#f2f522" stroke="#000" stroke-opacity="0.58" stroke-width="0.7" stroke-linejoin="round"/>
<path d="M623.62 83.5L629.3 80.93L622.41 80.11L616.74 82.79Z" fill="#f0d511" stroke="#000" stroke-opacity="0.58" stroke-width="0.7" stroke-linejoin="round"/>
<path d="M574.32 102.29L580.18 97.44L573.6 96.99L567.75 101.85Z" fill="#d6f629" stroke="#000" stroke-opacity="0.58" stroke-width="0.7" stroke-linejoin="round"/>
<path d="M636.28 81.76L641.92 79.92L634.93 78.98L629.3 80.93Z" fill="#eecb0a" stroke="#000" stroke-opacity="0.58" stroke-width="0.7" stroke-linejoin="round"/>
<path d="M605.25 89.73L611.02 86.02L604.23 85.4L598.48 89.18Z" fill="#f4e91d" stroke="#000" stroke-opacity="0.58" stroke-width="0.7" stroke-linejoin="round"/>
<path d="M648.99 80.88L654.57 79.89L647.5 78.8L641.92 79.92Z" fill="#eac405" stroke="#000" stroke-opacity="0.58" stroke-width="0.7" stroke-linejoin="round"/>
<path d="M586.85 97.91L592.68 93.37L586 92.87L580.18 97.44Z" fill="#eaf526" stroke="#000" stroke-opacity="0.58" stroke-width="0.7" stroke-linejoin="round"/>
<path d="M617.9 86.65L623.62 83.5L616.74 82.79L611.02 86.02Z" fill="#f2dc17" stroke="#000" stroke-opacity="0.58" stroke-width="0.7" stroke-linejoin="round"/>
<path d="M661.73 81.01L667.24 80.95L660.09 79.68L654.57 79.89Z" fill="#e7c101" stroke="#000" stroke-opacity="0.58" stroke-width="0.7" stroke-linejoin="round"/>
<path d="M568.42 107.36L574.32 102.29L567.75 101.85L561.87 106.91Z" fill="#c6f62b" stroke="#000" stroke-opacity="0.58" stroke-width="0.7" stroke-linejoin="round"/>
<path d="M712.74 93.67L717.87 98.26L710.42 96.12L705.26 91.76Z" fill="#869d00" stroke="#000" stroke-opacity="0.58" stroke-width="0.7" stroke-linejoin="round"/>
<path d="M674.49 82.24L679.93 83.21L672.69 81.75L667.24 80.95Z" fill="#e3c200" stroke="#000" stroke-opacity="0.58" stroke-width="0.7" stroke-linejoin="round"/>
<path d="M700.01 88.46L705.26 91.76L697.88 89.87L692.61 86.78Z" fill="#919a00" stroke="#000" stroke-opacity="0.58" stroke-width="0.7" stroke-linejoin="round"/>
<path d="M687.26 84.68L692.61 86.78L685.3 85.11L679.93 83.21Z" fill="#989700" stroke="#000" stroke-opacity="0.58" stroke-width="0.7" stroke-linejoin="round"/>
<path d="M599.45 93.88L605.25 89.73L598.48 89.18L592.68 93.37Z" fill="#f5f222" stroke="#000" stroke-opacity="0.58" stroke-width="0.7" stroke-linejoin="round"/>
<path d="M630.6 84.23L636.28 81.76L629.3 80.93L623.62 83.5Z" fill="#f0d010" stroke="#000" stroke-opacity="0.58" stroke-width="0.7" stroke-linejoin="round"/>
<path d="M580.97 102.75L586.85 97.91L580.18 97.44L574.32 102.29Z" fill="#def629" stroke="#000" stroke-opacity="0.58" stroke-width="0.7" stroke-linejoin="round"/>
<path d="M643.35 82.6L648.99 80.88L641.92 79.92L636.28 81.76Z" fill="#edc609" stroke="#000" stroke-opacity="0.58" stroke-width="0.7" stroke-linejoin="round"/>
<path d="M562.48 112.59L568.42 107.36L561.87 106.91L555.94 112.12Z" fill="#b6f72d" stroke="#000" stroke-opacity="0.58" stroke-width="0.7" stroke-linejoin="round"/>
<path d="M612.12 90.3L617.9 86.65L611.02 86.02L605.25 89.73Z" fill="#f3e41c" stroke="#000" stroke-opacity="0.58" stroke-width="0.7" stroke-linejoin="round"/>
<path d="M656.15 81.86L661.73 81.01L654.57 79.89L648.99 80.88Z" fill="#eabc04" stroke="#000" stroke-opacity="0.58" stroke-width="0.7" stroke-linejoin="round"/>
<path d="M593.6 98.4L599.45 93.88L592.68 93.37L586.85 97.91Z" fill="#eff526" stroke="#000" stroke-opacity="0.58" stroke-width="0.7" stroke-linejoin="round"/>
<path d="M668.98 82.14L674.49 82.24L667.24 80.95L661.73 81.01Z" fill="#e6bb01" stroke="#000" stroke-opacity="0.58" stroke-width="0.7" stroke-linejoin="round"/>
<path d="M624.86 87.3L630.6 84.23L623.62 83.5L617.9 86.65Z" fill="#f2d716" stroke="#000" stroke-opacity="0.58" stroke-width="0.7" stroke-linejoin="round"/>
<path d="M720.3 95.59L725.41 100.42L717.87 98.26L712.74 93.67Z" fill="#879d00" stroke="#000" stroke-opacity="0.58" stroke-width="0.7" stroke-linejoin="round"/>
<path d="M575.06 107.83L580.97 102.75L574.32 102.29L568.42 107.36Z" fill="#cef72c" stroke="#000" stroke-opacity="0.58" stroke-width="0.7" stroke-linejoin="round"/>
<path d="M681.83 83.53L687.26 84.68L679.93 83.21L674.49 82.24Z" fill="#958d00" stroke="#000" stroke-opacity="0.58" stroke-width="0.7" stroke-linejoin="round"/>
<path d="M707.51 90.16L712.74 93.67L705.26 91.76L700.01 88.46Z" fill="#929b00" stroke="#000" stroke-opacity="0.58" stroke-width="0.7" stroke-linejoin="round"/>
<path d="M694.67 86.17L700.01 88.46L692.61 86.78L687.26 84.68Z" fill="#989700" stroke="#000" stroke-opacity="0.58" stroke-width="0.7" stroke-linejoin="round"/>
<path d="M556.49 117.92L562.48 112.59L555.94 112.12L549.97 117.41Z" fill="#9cf72e" stroke="#000" stroke-opacity="0.58" stroke-width="0.7" stroke-linejoin="round"/>
<path d="M606.31 94.41L612.12 90.3L605.25 89.73L599.45 93.88Z" fill="#f5ed21" stroke="#000" stroke-opacity="0.58" stroke-width="0.7" stroke-linejoin="round"/>
<path d="M637.66 84.98L643.35 82.6L636.28 81.76L630.6 84.23Z" fill="#efcc0f" stroke="#000" stroke-opacity="0.58" stroke-width="0.7" stroke-linejoin="round"/>
<path d="M587.71 103.23L593.6 98.4L586.85 97.91L580.97 102.75Z" fill="#e5f629" stroke="#000" stroke-opacity="0.58" stroke-width="0.7" stroke-linejoin="round"/>
<path d="M650.51 83.46L656.15 81.86L648.99 80.88L643.35 82.6Z" fill="#edbd08" stroke="#000" stroke-opacity="0.58" stroke-width="0.7" stroke-linejoin="round"/>
<path d="M569.1 113.08L575.06 107.83L568.42 107.36L562.48 112.59Z" fill="#bef72e" stroke="#000" stroke-opacity="0.58" stroke-width="0.7" stroke-linejoin="round"/>
<path d="M619.08 90.89L624.86 87.3L617.9 86.65L612.12 90.3Z" fill="#f3df1c" stroke="#000" stroke-opacity="0.58" stroke-width="0.7" stroke-linejoin="round"/>
<path d="M550.46 123.29L556.49 117.92L549.97 117.41L543.96 122.72Z" fill="#81f72e" stroke="#000" stroke-opacity="0.58" stroke-width="0.7" stroke-linejoin="round"/>
<path d="M663.4 82.85L668.98 82.14L661.73 81.01L656.15 81.86Z" fill="#e9b403" stroke="#000" stroke-opacity="0.58" stroke-width="0.7" stroke-linejoin="round"/>
<path d="M600.45 98.9L606.31 94.41L599.45 93.88L593.6 98.4Z" fill="#f4f526" stroke="#000" stroke-opacity="0.58" stroke-width="0.7" stroke-linejoin="round"/>
<path d="M676.32 83.28L681.83 83.53L674.49 82.24L668.98 82.14Z" fill="#e5b400" stroke="#000" stroke-opacity="0.58" stroke-width="0.7" stroke-linejoin="round"/>
<path d="M727.96 97.53L733.04 102.59L725.41 100.42L720.3 95.59Z" fill="#879e00" stroke="#000" stroke-opacity="0.58" stroke-width="0.7" stroke-linejoin="round"/>
<path d="M631.92 87.96L637.66 84.98L630.6 84.23L624.86 87.3Z" fill="#f1d215" stroke="#000" stroke-opacity="0.58" stroke-width="0.7" stroke-linejoin="round"/>
<path d="M689.26 84.85L694.67 86.17L687.26 84.68L681.83 83.53Z" fill="#968d00" stroke="#000" stroke-opacity="0.58" stroke-width="0.7" stroke-linejoin="round"/>
<path d="M581.78 108.32L587.71 103.23L580.97 102.75L575.06 107.83Z" fill="#d6f72c" stroke="#000" stroke-opacity="0.58" stroke-width="0.7" stroke-linejoin="round"/>
<path d="M715.09 91.87L720.3 95.59L712.74 93.67L707.51 90.16Z" fill="#939b00" stroke="#000" stroke-opacity="0.58" stroke-width="0.7" stroke-linejoin="round"/>
<path d="M702.19 87.68L707.51 90.16L700.01 88.46L694.67 86.17Z" fill="#999600" stroke="#000" stroke-opacity="0.58" stroke-width="0.7" stroke-linejoin="round"/>
<path d="M563.1 118.45L569.1 113.08L562.48 112.59L556.49 117.92Z" fill="#a9f72f" stroke="#000" stroke-opacity="0.58" stroke-width="0.7" stroke-linejoin="round"/>
<path d="M613.25 94.95L619.08 90.89L612.12 90.3L606.31 94.41Z" fill="#f4e921" stroke="#000" stroke-opacity="0.58" stroke-width="0.7" stroke-linejoin="round"/>
<path d="M644.82 85.74L650.51 83.46L643.35 82.6L637.66 84.98Z" fill="#efc40e" stroke="#000" stroke-opacity="0.58" stroke-width="0.7" stroke-linejoin="round"/>
<path d="M544.39 128.66L550.46 123.29L543.96 122.72L537.9 128.01Z" fill="#65f72e" stroke="#000" stroke-opacity="0.58" stroke-width="0.7" stroke-linejoin="round"/>
<path d="M594.55 103.72L600.45 98.9L593.6 98.4L587.71 103.23Z" fill="#eaf62a" stroke="#000" stroke-opacity="0.58" stroke-width="0.7" stroke-linejoin="round"/>
<path d="M657.77 84.33L663.4 82.85L656.15 81.86L650.51 83.46Z" fill="#ecb407" stroke="#000" stroke-opacity="0.58" stroke-width="0.7" stroke-linejoin="round"/>
<path d="M575.81 113.59L581.78 108.32L575.06 107.83L569.1 113.08Z" fill="#c6f72e" stroke="#000" stroke-opacity="0.58" stroke-width="0.7" stroke-linejoin="round"/>
<path d="M626.13 91.49L631.92 87.96L624.86 87.3L619.08 90.89Z" fill="#f3db1b" stroke="#000" stroke-opacity="0.58" stroke-width="0.7" stroke-linejoin="round"/>
<path d="M557.06 123.89L563.1 118.45L556.49 117.92L550.46 123.29Z" fill="#8ef730" stroke="#000" stroke-opacity="0.58" stroke-width="0.7" stroke-linejoin="round"/>
<path d="M670.75 83.86L676.32 83.28L668.98 82.14L663.4 82.85Z" fill="#e9ac03" stroke="#000" stroke-opacity="0.58" stroke-width="0.7" stroke-linejoin="round"/>
<path d="M538.27 133.95L544.39 128.66L537.9 128.01L531.79 133.22Z" fill="#3ef72e" stroke="#000" stroke-opacity="0.58" stroke-width="0.7" stroke-linejoin="round"/>
<path d="M607.38 99.42L613.25 94.95L606.31 94.41L600.45 98.9Z" fill="#f5f326" stroke="#000" stroke-opacity="0.58" stroke-width="0.7" stroke-linejoin="round"/>
<path d="M735.71 99.49L740.76 104.77L733.04 102.59L727.96 97.53Z" fill="#879e00" stroke="#000" stroke-opacity="0.58" stroke-width="0.7" stroke-linejoin="round"/>
<path d="M683.76 84.44L689.26 84.85L681.83 83.53L676.32 83.28Z" fill="#e5ad00" stroke="#000" stroke-opacity="0.58" stroke-width="0.7" stroke-linejoin="round"/>
<path d="M639.07 88.64L644.82 85.74L637.66 84.98L631.92 87.96Z" fill="#f1ce14" stroke="#000" stroke-opacity="0.58" stroke-width="0.7" stroke-linejoin="round"/>
<path d="M722.78 93.6L727.96 97.53L720.3 95.59L715.09 91.87Z" fill="#949c00" stroke="#000" stroke-opacity="0.58" stroke-width="0.7" stroke-linejoin="round"/>
<path d="M696.78 86.18L702.19 87.68L694.67 86.17L689.26 84.85Z" fill="#968b00" stroke="#000" stroke-opacity="0.58" stroke-width="0.7" stroke-linejoin="round"/>
<path d="M709.79 89.2L715.09 91.87L707.51 90.16L702.19 87.68Z" fill="#999600" stroke="#000" stroke-opacity="0.58" stroke-width="0.7" stroke-linejoin="round"/>
<path d="M588.6 108.82L594.55 103.72L587.71 103.23L581.78 108.32Z" fill="#def72d" stroke="#000" stroke-opacity="0.58" stroke-width="0.7" stroke-linejoin="round"/>
<path d="M569.8 119.01L575.81 113.59L569.1 113.08L563.1 118.45Z" fill="#b6f730" stroke="#000" stroke-opacity="0.58" stroke-width="0.7" stroke-linejoin="round"/>
<path d="M652.07 86.51L657.77 84.33L650.51 83.46L644.82 85.74Z" fill="#efba0d" stroke="#000" stroke-opacity="0.58" stroke-width="0.7" stroke-linejoin="round"/>
<path d="M620.29 95.51L626.13 91.49L619.08 90.89L613.25 94.95Z" fill="#f4e421" stroke="#000" stroke-opacity="0.58" stroke-width="0.7" stroke-linejoin="round"/>
<path d="M550.97 129.32L557.06 123.89L550.46 123.29L544.39 128.66Z" fill="#72f730" stroke="#000" stroke-opacity="0.58" stroke-width="0.7" stroke-linejoin="round"/>
<path d="M532.09 139.12L538.27 133.95L531.79 133.22L525.63 138.28Z" fill="#2df730" stroke="#000" stroke-opacity="0.58" stroke-width="0.7" stroke-linejoin="round"/>
<path d="M601.47 104.23L607.38 99.42L600.45 98.9L594.55 103.72Z" fill="#eff62a" stroke="#000" stroke-opacity="0.58" stroke-width="0.7" stroke-linejoin="round"/>
<path d="M665.11 85.22L670.75 83.86L663.4 82.85L657.77 84.33Z" fill="#ecab07" stroke="#000" stroke-opacity="0.58" stroke-width="0.7" stroke-linejoin="round"/>
<path d="M582.62 114.12L588.6 108.82L581.78 108.32L575.81 113.59Z" fill="#cef72f" stroke="#000" stroke-opacity="0.58" stroke-width="0.7" stroke-linejoin="round"/>
<path d="M633.28 92.11L639.07 88.64L631.92 87.96L626.13 91.49Z" fill="#f3d61a" stroke="#000" stroke-opacity="0.58" stroke-width="0.7" stroke-linejoin="round"/>
<path d="M678.19 84.88L683.76 84.44L676.32 83.28L670.75 83.86Z" fill="#e8a402" stroke="#000" stroke-opacity="0.58" stroke-width="0.7" stroke-linejoin="round"/>
<path d="M563.74 124.5L569.8 119.01L563.1 118.45L557.06 123.89Z" fill="#9bf831" stroke="#000" stroke-opacity="0.58" stroke-width="0.7" stroke-linejoin="round"/>
<path d="M743.56 101.46L748.58 106.98L740.76 104.77L735.71 99.49Z" fill="#879f00" stroke="#000" stroke-opacity="0.58" stroke-width="0.7" stroke-linejoin="round"/>
<path d="M691.29 85.61L696.78 86.18L689.26 84.85L683.76 84.44Z" fill="#e4a700" stroke="#000" stroke-opacity="0.58" stroke-width="0.7" stroke-linejoin="round"/>
<path d="M544.83 134.71L550.97 129.32L544.39 128.66L538.27 133.95Z" fill="#50f730" stroke="#000" stroke-opacity="0.58" stroke-width="0.7" stroke-linejoin="round"/>
<path d="M614.41 99.95L620.29 95.51L613.25 94.95L607.38 99.42Z" fill="#f5ee26" stroke="#000" stroke-opacity="0.58" stroke-width="0.7" stroke-linejoin="round"/>
<path d="M730.56 95.34L735.71 99.49L727.96 97.53L722.78 93.6Z" fill="#959c00" stroke="#000" stroke-opacity="0.58" stroke-width="0.7" stroke-linejoin="round"/>
<path d="M704.4 87.52L709.79 89.2L702.19 87.68L696.78 86.18Z" fill="#978900" stroke="#000" stroke-opacity="0.58" stroke-width="0.7" stroke-linejoin="round"/>
<path d="M646.32 89.34L652.07 86.51L644.82 85.74L639.07 88.64Z" fill="#f1c513" stroke="#000" stroke-opacity="0.58" stroke-width="0.7" stroke-linejoin="round"/>
<path d="M717.49 90.73L722.78 93.6L715.09 91.87L709.79 89.2Z" fill="#9a9600" stroke="#000" stroke-opacity="0.58" stroke-width="0.7" stroke-linejoin="round"/>
<path d="M525.86 144.11L532.09 139.12L525.63 138.28L519.41 143.15Z" fill="#2cf73a" stroke="#000" stroke-opacity="0.58" stroke-width="0.7" stroke-linejoin="round"/>
<path d="M595.51 109.34L601.47 104.23L594.55 103.72L588.6 108.82Z" fill="#e6f72d" stroke="#000" stroke-opacity="0.58" stroke-width="0.7" stroke-linejoin="round"/>
<path d="M576.59 119.58L582.62 114.12L575.81 113.59L569.8 119.01Z" fill="#bef831" stroke="#000" stroke-opacity="0.58" stroke-width="0.7" stroke-linejoin="round"/>
<path d="M659.42 87.3L665.11 85.22L657.77 84.33L652.07 86.51Z" fill="#eeb00c" stroke="#000" stroke-opacity="0.58" stroke-width="0.7" stroke-linejoin="round"/>
<path d="M627.43 96.09L633.28 92.11L626.13 91.49L620.29 95.51Z" fill="#f4df20" stroke="#000" stroke-opacity="0.58" stroke-width="0.7" stroke-linejoin="round"/>
<path d="M557.64 130.01L563.74 124.5L557.06 123.89L550.97 129.32Z" fill="#7ff832" stroke="#000" stroke-opacity="0.58" stroke-width="0.7" stroke-linejoin="round"/>
<path d="M538.64 139.98L544.83 134.71L538.27 133.95L532.09 139.12Z" fill="#32f72f" stroke="#000" stroke-opacity="0.58" stroke-width="0.7" stroke-linejoin="round"/>
<path d="M608.49 104.76L614.41 99.95L607.38 99.42L601.47 104.23Z" fill="#f4f62a" stroke="#000" stroke-opacity="0.58" stroke-width="0.7" stroke-linejoin="round"/>
<path d="M672.56 86.12L678.19 84.88L670.75 83.86L665.11 85.22Z" fill="#eba106" stroke="#000" stroke-opacity="0.58" stroke-width="0.7" stroke-linejoin="round"/>
<path d="M519.57 148.86L525.86 144.11L519.41 143.15L513.13 147.77Z" fill="#2af643" stroke="#000" stroke-opacity="0.58" stroke-width="0.7" stroke-linejoin="round"/>
<path d="M640.51 92.74L646.32 89.34L639.07 88.64L633.28 92.11Z" fill="#f3d11a" stroke="#000" stroke-opacity="0.58" stroke-width="0.7" stroke-linejoin="round"/>
<path d="M589.51 114.67L595.51 109.34L588.6 108.82L582.62 114.12Z" fill="#d6f730" stroke="#000" stroke-opacity="0.58" stroke-width="0.7" stroke-linejoin="round"/>
<path d="M685.73 85.92L691.29 85.61L683.76 84.44L678.19 84.88Z" fill="#e79c02" stroke="#000" stroke-opacity="0.58" stroke-width="0.7" stroke-linejoin="round"/>
<path d="M751.51 103.45L756.5 109.2L748.58 106.98L743.56 101.46Z" fill="#889f00" stroke="#000" stroke-opacity="0.58" stroke-width="0.7" stroke-linejoin="round"/>
<path d="M570.51 125.13L576.59 119.58L569.8 119.01L563.74 124.5Z" fill="#a7f833" stroke="#000" stroke-opacity="0.58" stroke-width="0.7" stroke-linejoin="round"/>
<path d="M698.93 86.8L704.4 87.52L696.78 86.18L691.29 85.61Z" fill="#e3a000" stroke="#000" stroke-opacity="0.58" stroke-width="0.7" stroke-linejoin="round"/>
<path d="M738.43 97.1L743.56 101.46L735.71 99.49L730.56 95.34Z" fill="#969d00" stroke="#000" stroke-opacity="0.58" stroke-width="0.7" stroke-linejoin="round"/>
<path d="M551.48 135.48L557.64 130.01L550.97 129.32L544.83 134.71Z" fill="#63f832" stroke="#000" stroke-opacity="0.58" stroke-width="0.7" stroke-linejoin="round"/>
<path d="M621.54 100.5L627.43 96.09L620.29 95.51L614.41 99.95Z" fill="#f5e926" stroke="#000" stroke-opacity="0.58" stroke-width="0.7" stroke-linejoin="round"/>
<path d="M712.12 88.88L717.49 90.73L709.79 89.2L704.4 87.52Z" fill="#978600" stroke="#000" stroke-opacity="0.58" stroke-width="0.7" stroke-linejoin="round"/>
<path d="M725.3 92.28L730.56 95.34L722.78 93.6L717.49 90.73Z" fill="#9a9500" stroke="#000" stroke-opacity="0.58" stroke-width="0.7" stroke-linejoin="round"/>
<path d="M653.66 90.05L659.42 87.3L652.07 86.51L646.32 89.34Z" fill="#f0ba12" stroke="#000" stroke-opacity="0.58" stroke-width="0.7" stroke-linejoin="round"/>
<path d="M532.4 145.09L538.64 139.98L532.09 139.12L525.86 144.11Z" fill="#2ef737" stroke="#000" stroke-opacity="0.58" stroke-width="0.7" stroke-linejoin="round"/>
<path d="M602.51 109.87L608.49 104.76L601.47 104.23L595.51 109.34Z" fill="#ebf72e" stroke="#000" stroke-opacity="0.58" stroke-width="0.7" stroke-linejoin="round"/>
<path d="M583.47 120.17L589.51 114.67L582.62 114.12L576.59 119.58Z" fill="#c5f832" stroke="#000" stroke-opacity="0.58" stroke-width="0.7" stroke-linejoin="round"/>
<path d="M666.86 88.11L672.56 86.12L665.11 85.22L659.42 87.3Z" fill="#eea60b" stroke="#000" stroke-opacity="0.58" stroke-width="0.7" stroke-linejoin="round"/>
<path d="M513.21 153.32L519.57 148.86L513.13 147.77L506.78 152.08Z" fill="#28f657" stroke="#000" stroke-opacity="0.58" stroke-width="0.7" stroke-linejoin="round"/>
<path d="M634.66 96.68L640.51 92.74L633.28 92.11L627.43 96.09Z" fill="#f4da20" stroke="#000" stroke-opacity="0.58" stroke-width="0.7" stroke-linejoin="round"/>
<path d="M564.39 130.72L570.51 125.13L563.74 124.5L557.64 130.01Z" fill="#8cf833" stroke="#000" stroke-opacity="0.58" stroke-width="0.7" stroke-linejoin="round"/>
<path d="M545.28 140.86L551.48 135.48L544.83 134.71L538.64 139.98Z" fill="#3cf831" stroke="#000" stroke-opacity="0.58" stroke-width="0.7" stroke-linejoin="round"/>
<path d="M680.1 87.04L685.73 85.92L678.19 84.88L672.56 86.12Z" fill="#eb9805" stroke="#000" stroke-opacity="0.58" stroke-width="0.7" stroke-linejoin="round"/>
<path d="M615.6 105.3L621.54 100.5L614.41 99.95L608.49 104.76Z" fill="#f6f32a" stroke="#000" stroke-opacity="0.58" stroke-width="0.7" stroke-linejoin="round"/>
<path d="M526.09 149.97L532.4 145.09L525.86 144.11L519.57 148.86Z" fill="#2df740" stroke="#000" stroke-opacity="0.58" stroke-width="0.7" stroke-linejoin="round"/>
<path d="M647.85 93.39L653.66 90.05L646.32 89.34L640.51 92.74Z" fill="#f2c919" stroke="#000" stroke-opacity="0.58" stroke-width="0.7" stroke-linejoin="round"/>
<path d="M596.5 115.23L602.51 109.87L595.51 109.34L589.51 114.67Z" fill="#ddf831" stroke="#000" stroke-opacity="0.58" stroke-width="0.7" stroke-linejoin="round"/>
<path d="M693.37 86.97L698.93 86.8L691.29 85.61L685.73 85.92Z" fill="#e79401" stroke="#000" stroke-opacity="0.58" stroke-width="0.7" stroke-linejoin="round"/>
<path d="M759.56 105.46L764.51 111.43L756.5 109.2L751.51 103.45Z" fill="#889f00" stroke="#000" stroke-opacity="0.58" stroke-width="0.7" stroke-linejoin="round"/>
<path d="M577.38 125.78L583.47 120.17L576.59 119.58L570.51 125.13Z" fill="#b4f834" stroke="#000" stroke-opacity="0.58" stroke-width="0.7" stroke-linejoin="round"/>
<path d="M706.66 88L712.12 88.88L704.4 87.52L698.93 86.8Z" fill="#e39a00" stroke="#000" stroke-opacity="0.58" stroke-width="0.7" stroke-linejoin="round"/>
<path d="M746.41 98.88L751.51 103.45L743.56 101.46L738.43 97.1Z" fill="#979d00" stroke="#000" stroke-opacity="0.58" stroke-width="0.7" stroke-linejoin="round"/>
<path d="M719.94 90.26L725.3 92.28L717.49 90.73L712.12 88.88Z" fill="#988300" stroke="#000" stroke-opacity="0.58" stroke-width="0.7" stroke-linejoin="round"/>
<path d="M506.78 157.44L513.21 153.32L506.78 152.08L500.36 156.04Z" fill="#25f56d" stroke="#000" stroke-opacity="0.58" stroke-width="0.7" stroke-linejoin="round"/>
<path d="M733.2 93.84L738.43 97.1L730.56 95.34L725.3 92.28Z" fill="#9b9500" stroke="#000" stroke-opacity="0.58" stroke-width="0.7" stroke-linejoin="round"/>
<path d="M558.23 136.28L564.39 130.72L557.64 130.01L551.48 135.48Z" fill="#71f834" stroke="#000" stroke-opacity="0.58" stroke-width="0.7" stroke-linejoin="round"/>
<path d="M628.76 101.07L634.66 96.68L627.43 96.09L621.54 100.5Z" fill="#f5e426" stroke="#000" stroke-opacity="0.58" stroke-width="0.7" stroke-linejoin="round"/>
<path d="M661.1 90.77L666.86 88.11L659.42 87.3L653.66 90.05Z" fill="#f0b011" stroke="#000" stroke-opacity="0.58" stroke-width="0.7" stroke-linejoin="round"/>
<path d="M539.02 146.09L545.28 140.86L538.64 139.98L532.4 145.09Z" fill="#31f834" stroke="#000" stroke-opacity="0.58" stroke-width="0.7" stroke-linejoin="round"/>
<path d="M609.61 110.43L615.6 105.3L608.49 104.76L602.51 109.87Z" fill="#f0f72f" stroke="#000" stroke-opacity="0.58" stroke-width="0.7" stroke-linejoin="round"/>
<path d="M590.44 120.78L596.5 115.23L589.51 114.67L583.47 120.17Z" fill="#cdf834" stroke="#000" stroke-opacity="0.58" stroke-width="0.7" stroke-linejoin="round"/>
<path d="M674.4 88.93L680.1 87.04L672.56 86.12L666.86 88.11Z" fill="#ed9c0a" stroke="#000" stroke-opacity="0.58" stroke-width="0.7" stroke-linejoin="round"/>
<path d="M519.72 154.58L526.09 149.97L519.57 148.86L513.21 153.32Z" fill="#2bf64d" stroke="#000" stroke-opacity="0.58" stroke-width="0.7" stroke-linejoin="round"/>
<path d="M641.99 97.28L647.85 93.39L640.51 92.74L634.66 96.68Z" fill="#f4d51f" stroke="#000" stroke-opacity="0.58" stroke-width="0.7" stroke-linejoin="round"/>
<path d="M571.24 131.44L577.38 125.78L570.51 125.13L564.39 130.72Z" fill="#98f835" stroke="#000" stroke-opacity="0.58" stroke-width="0.7" stroke-linejoin="round"/>
<path d="M552.01 141.77L558.23 136.28L551.48 135.48L545.28 140.86Z" fill="#4df833" stroke="#000" stroke-opacity="0.58" stroke-width="0.7" stroke-linejoin="round"/>
<path d="M687.75 87.97L693.37 86.97L685.73 85.92L680.1 87.04Z" fill="#ea8f04" stroke="#000" stroke-opacity="0.58" stroke-width="0.7" stroke-linejoin="round"/>
<path d="M622.81 105.86L628.76 101.07L621.54 100.5L615.6 105.3Z" fill="#f6ef2b" stroke="#000" stroke-opacity="0.58" stroke-width="0.7" stroke-linejoin="round"/>
<path d="M500.28 161.15L506.78 157.44L500.36 156.04L493.87 159.58Z" fill="#22f57e" stroke="#000" stroke-opacity="0.58" stroke-width="0.7" stroke-linejoin="round"/>
<path d="M767.72 107.48L772.62 113.68L764.51 111.43L759.56 105.46Z" fill="#88a000" stroke="#000" stroke-opacity="0.58" stroke-width="0.7" stroke-linejoin="round"/>
<path d="M532.7 151.11L539.02 146.09L532.4 145.09L526.09 149.97Z" fill="#2ff73e" stroke="#000" stroke-opacity="0.58" stroke-width="0.7" stroke-linejoin="round"/>
<path d="M655.29 94.06L661.1 90.77L653.66 90.05L647.85 93.39Z" fill="#f2be18" stroke="#000" stroke-opacity="0.58" stroke-width="0.7" stroke-linejoin="round"/>
<path d="M701.11 88.03L706.66 88L698.93 86.8L693.37 86.97Z" fill="#e68c01" stroke="#000" stroke-opacity="0.58" stroke-width="0.7" stroke-linejoin="round"/>
<path d="M603.59 115.82L609.61 110.43L602.51 109.87L596.5 115.23Z" fill="#e5f832" stroke="#000" stroke-opacity="0.58" stroke-width="0.7" stroke-linejoin="round"/>
<path d="M754.5 100.67L759.56 105.46L751.51 103.45L746.41 98.88Z" fill="#979e00" stroke="#000" stroke-opacity="0.58" stroke-width="0.7" stroke-linejoin="round"/>
<path d="M714.49 89.22L719.94 90.26L712.12 88.88L706.66 88Z" fill="#957000" stroke="#000" stroke-opacity="0.58" stroke-width="0.7" stroke-linejoin="round"/>
<path d="M584.34 126.45L590.44 120.78L583.47 120.17L577.38 125.78Z" fill="#bdf835" stroke="#000" stroke-opacity="0.58" stroke-width="0.7" stroke-linejoin="round"/>
<path d="M727.86 91.64L733.2 93.84L725.3 92.28L719.94 90.26Z" fill="#988100" stroke="#000" stroke-opacity="0.58" stroke-width="0.7" stroke-linejoin="round"/>
<path d="M741.2 95.42L746.41 98.88L738.43 97.1L733.2 93.84Z" fill="#9b9400" stroke="#000" stroke-opacity="0.58" stroke-width="0.7" stroke-linejoin="round"/>
<path d="M513.29 158.86L519.72 154.58L513.21 153.32L506.78 157.44Z" fill="#28f663" stroke="#000" stroke-opacity="0.58" stroke-width="0.7" stroke-linejoin="round"/>
<path d="M565.06 137.1L571.24 131.44L564.39 130.72L558.23 136.28Z" fill="#7df836" stroke="#000" stroke-opacity="0.58" stroke-width="0.7" stroke-linejoin="round"/>
<path d="M636.07 101.65L641.99 97.28L634.66 96.68L628.76 101.07Z" fill="#f5df25" stroke="#000" stroke-opacity="0.58" stroke-width="0.7" stroke-linejoin="round"/>
<path d="M668.64 91.51L674.4 88.93L666.86 88.11L661.1 90.77Z" fill="#f0a510" stroke="#000" stroke-opacity="0.58" stroke-width="0.7" stroke-linejoin="round"/>
<path d="M545.74 147.12L552.01 141.77L545.28 140.86L539.02 146.09Z" fill="#34f833" stroke="#000" stroke-opacity="0.58" stroke-width="0.7" stroke-linejoin="round"/>
<path d="M616.81 111L622.81 105.86L615.6 105.3L609.61 110.43Z" fill="#f5f72f" stroke="#000" stroke-opacity="0.58" stroke-width="0.7" stroke-linejoin="round"/>
<path d="M682.05 89.76L687.75 87.97L680.1 87.04L674.4 88.93Z" fill="#ed9109" stroke="#000" stroke-opacity="0.58" stroke-width="0.7" stroke-linejoin="round"/>
<path d="M526.33 155.87L532.7 151.11L526.09 149.97L519.72 154.58Z" fill="#2df746" stroke="#000" stroke-opacity="0.58" stroke-width="0.7" stroke-linejoin="round"/>
<path d="M597.51 121.41L603.59 115.82L596.5 115.23L590.44 120.78Z" fill="#d5f835" stroke="#000" stroke-opacity="0.58" stroke-width="0.7" stroke-linejoin="round"/>
<path d="M649.42 97.9L655.29 94.06L647.85 93.39L641.99 97.28Z" fill="#f4d01f" stroke="#000" stroke-opacity="0.58" stroke-width="0.7" stroke-linejoin="round"/>
<path d="M578.19 132.19L584.34 126.45L577.38 125.78L571.24 131.44Z" fill="#a5f937" stroke="#000" stroke-opacity="0.58" stroke-width="0.7" stroke-linejoin="round"/>
<path d="M695.49 88.92L701.11 88.03L693.37 86.97L687.75 87.97Z" fill="#e98504" stroke="#000" stroke-opacity="0.58" stroke-width="0.7" stroke-linejoin="round"/>
<path d="M558.83 142.69L565.06 137.1L558.23 136.28L552.01 141.77Z" fill="#5ff836" stroke="#000" stroke-opacity="0.58" stroke-width="0.7" stroke-linejoin="round"/>
<path d="M506.78 162.76L513.29 158.86L506.78 157.44L500.28 161.15Z" fill="#25f576" stroke="#000" stroke-opacity="0.58" stroke-width="0.7" stroke-linejoin="round"/>
<path d="M630.11 106.44L636.07 101.65L628.76 101.07L622.81 105.86Z" fill="#f6ea2b" stroke="#000" stroke-opacity="0.58" stroke-width="0.7" stroke-linejoin="round"/>
<path d="M775.97 109.51L780.84 115.95L772.62 113.68L767.72 107.48Z" fill="#89a000" stroke="#000" stroke-opacity="0.58" stroke-width="0.7" stroke-linejoin="round"/>
<path d="M708.96 89.11L714.49 89.22L706.66 88L701.11 88.03Z" fill="#e58301" stroke="#000" stroke-opacity="0.58" stroke-width="0.7" stroke-linejoin="round"/>
<path d="M539.41 152.28L545.74 147.12L539.02 146.09L532.7 151.11Z" fill="#32f83c" stroke="#000" stroke-opacity="0.58" stroke-width="0.7" stroke-linejoin="round"/>
<path d="M662.82 94.74L668.64 91.51L661.1 90.77L655.29 94.06Z" fill="#f2b317" stroke="#000" stroke-opacity="0.58" stroke-width="0.7" stroke-linejoin="round"/>
<path d="M610.77 116.42L616.81 111L609.61 110.43L603.59 115.82Z" fill="#ebf833" stroke="#000" stroke-opacity="0.58" stroke-width="0.7" stroke-linejoin="round"/>
<path d="M762.68 102.47L767.72 107.48L759.56 105.46L754.5 100.67Z" fill="#989e00" stroke="#000" stroke-opacity="0.58" stroke-width="0.7" stroke-linejoin="round"/>
<path d="M722.43 90.45L727.86 91.64L719.94 90.26L714.49 89.22Z" fill="#966d00" stroke="#000" stroke-opacity="0.58" stroke-width="0.7" stroke-linejoin="round"/>
<path d="M749.31 97.02L754.5 100.67L746.41 98.88L741.2 95.42Z" fill="#9b9400" stroke="#000" stroke-opacity="0.58" stroke-width="0.7" stroke-linejoin="round"/>
<path d="M591.39 127.14L597.51 121.41L590.44 120.78L584.34 126.45Z" fill="#c4f937" stroke="#000" stroke-opacity="0.58" stroke-width="0.7" stroke-linejoin="round"/>
<path d="M735.89 93.05L741.2 95.42L733.2 93.84L727.86 91.64Z" fill="#997e00" stroke="#000" stroke-opacity="0.58" stroke-width="0.7" stroke-linejoin="round"/>
<path d="M519.88 160.32L526.33 155.87L519.72 154.58L513.29 158.86Z" fill="#2bf65b" stroke="#000" stroke-opacity="0.58" stroke-width="0.7" stroke-linejoin="round"/>
<path d="M571.99 137.94L578.19 132.19L571.24 131.44L565.06 137.1Z" fill="#89f938" stroke="#000" stroke-opacity="0.58" stroke-width="0.7" stroke-linejoin="round"/>
<path d="M643.49 102.25L649.42 97.9L641.99 97.28L636.07 101.65Z" fill="#f5da25" stroke="#000" stroke-opacity="0.58" stroke-width="0.7" stroke-linejoin="round"/>
<path d="M676.29 92.26L682.05 89.76L674.4 88.93L668.64 91.51Z" fill="#f09a0f" stroke="#000" stroke-opacity="0.58" stroke-width="0.7" stroke-linejoin="round"/>
<path d="M552.55 148.17L558.83 142.69L552.01 141.77L545.74 147.12Z" fill="#3bf835" stroke="#000" stroke-opacity="0.58" stroke-width="0.7" stroke-linejoin="round"/>
<path d="M624.1 111.59L630.11 106.44L622.81 105.86L616.81 111Z" fill="#f7f530" stroke="#000" stroke-opacity="0.58" stroke-width="0.7" stroke-linejoin="round"/>
<path d="M689.8 90.61L695.49 88.92L687.75 87.97L682.05 89.76Z" fill="#ed8608" stroke="#000" stroke-opacity="0.58" stroke-width="0.7" stroke-linejoin="round"/>
<path d="M533.02 157.19L539.41 152.28L532.7 151.11L526.33 155.87Z" fill="#30f745" stroke="#000" stroke-opacity="0.58" stroke-width="0.7" stroke-linejoin="round"/>
<path d="M604.68 122.05L610.77 116.42L603.59 115.82L597.51 121.41Z" fill="#ddf836" stroke="#000" stroke-opacity="0.58" stroke-width="0.7" stroke-linejoin="round"/>
<path d="M656.95 98.54L662.82 94.74L655.29 94.06L649.42 97.9Z" fill="#f4c51e" stroke="#000" stroke-opacity="0.58" stroke-width="0.7" stroke-linejoin="round"/>
<path d="M585.23 132.96L591.39 127.14L584.34 126.45L578.19 132.19Z" fill="#b1f939" stroke="#000" stroke-opacity="0.58" stroke-width="0.7" stroke-linejoin="round"/>
<path d="M703.34 89.88L708.96 89.11L701.11 88.03L695.49 88.92Z" fill="#e97b03" stroke="#000" stroke-opacity="0.58" stroke-width="0.7" stroke-linejoin="round"/>
<path d="M565.75 143.65L571.99 137.94L565.06 137.1L558.83 142.69Z" fill="#6ff938" stroke="#000" stroke-opacity="0.58" stroke-width="0.7" stroke-linejoin="round"/>
<path d="M784.34 111.56L789.16 118.23L780.84 115.95L775.97 109.51Z" fill="#89a100" stroke="#000" stroke-opacity="0.58" stroke-width="0.7" stroke-linejoin="round"/>
<path d="M513.36 164.39L519.88 160.32L513.29 158.86L506.78 162.76Z" fill="#28f66e" stroke="#000" stroke-opacity="0.58" stroke-width="0.7" stroke-linejoin="round"/>
<path d="M637.52 107.03L643.49 102.25L636.07 101.65L630.11 106.44Z" fill="#f7e52b" stroke="#000" stroke-opacity="0.58" stroke-width="0.7" stroke-linejoin="round"/>
<path d="M716.91 90.21L722.43 90.45L714.49 89.22L708.96 89.11Z" fill="#e57b00" stroke="#000" stroke-opacity="0.58" stroke-width="0.7" stroke-linejoin="round"/>
<path d="M546.2 153.47L552.55 148.17L545.74 147.12L539.41 152.28Z" fill="#34f83a" stroke="#000" stroke-opacity="0.58" stroke-width="0.7" stroke-linejoin="round"/>
<path d="M670.46 95.43L676.29 92.26L668.64 91.51L662.82 94.74Z" fill="#f2a817" stroke="#000" stroke-opacity="0.58" stroke-width="0.7" stroke-linejoin="round"/>
<path d="M770.98 104.29L775.97 109.51L767.72 107.48L762.68 102.47Z" fill="#999e00" stroke="#000" stroke-opacity="0.58" stroke-width="0.7" stroke-linejoin="round"/>
<path d="M618.05 117.04L624.1 111.59L616.81 111L610.77 116.42Z" fill="#f0f834" stroke="#000" stroke-opacity="0.58" stroke-width="0.7" stroke-linejoin="round"/>
<path d="M730.47 91.7L735.89 93.05L727.86 91.64L722.43 90.45Z" fill="#966900" stroke="#000" stroke-opacity="0.58" stroke-width="0.7" stroke-linejoin="round"/>
<path d="M757.53 98.63L762.68 102.47L754.5 100.67L749.31 97.02Z" fill="#9c9300" stroke="#000" stroke-opacity="0.58" stroke-width="0.7" stroke-linejoin="round"/>
<path d="M744.02 94.47L749.31 97.02L741.2 95.42L735.89 93.05Z" fill="#997b00" stroke="#000" stroke-opacity="0.58" stroke-width="0.7" stroke-linejoin="round"/>
<path d="M598.55 127.85L604.68 122.05L597.51 121.41L591.39 127.14Z" fill="#ccf938" stroke="#000" stroke-opacity="0.58" stroke-width="0.7" stroke-linejoin="round"/>
<path d="M526.56 161.8L533.02 157.19L526.33 155.87L519.88 160.32Z" fill="#2ef752" stroke="#000" stroke-opacity="0.58" stroke-width="0.7" stroke-linejoin="round"/>
<path d="M579.02 138.81L585.23 132.96L578.19 132.19L571.99 137.94Z" fill="#96f93a" stroke="#000" stroke-opacity="0.58" stroke-width="0.7" stroke-linejoin="round"/>
<path d="M651.02 102.86L656.95 98.54L649.42 97.9L643.49 102.25Z" fill="#f5d625" stroke="#000" stroke-opacity="0.58" stroke-width="0.7" stroke-linejoin="round"/>
<path d="M684.04 93.03L689.8 90.61L682.05 89.76L676.29 92.26Z" fill="#ef8f0f" stroke="#000" stroke-opacity="0.58" stroke-width="0.7" stroke-linejoin="round"/>
<path d="M559.45 149.24L565.75 143.65L558.83 142.69L552.55 148.17Z" fill="#4af938" stroke="#000" stroke-opacity="0.58" stroke-width="0.7" stroke-linejoin="round"/>
<path d="M631.5 112.2L637.52 107.03L630.11 106.44L624.1 111.59Z" fill="#f7f030" stroke="#000" stroke-opacity="0.58" stroke-width="0.7" stroke-linejoin="round"/>
<path d="M697.65 91.47L703.34 89.88L695.49 88.92L689.8 90.61Z" fill="#ec7b07" stroke="#000" stroke-opacity="0.58" stroke-width="0.7" stroke-linejoin="round"/>
<path d="M539.8 158.53L546.2 153.47L539.41 152.28L533.02 157.19Z" fill="#33f843" stroke="#000" stroke-opacity="0.58" stroke-width="0.7" stroke-linejoin="round"/>
<path d="M611.95 122.72L618.05 117.04L610.77 116.42L604.68 122.05Z" fill="#e4f937" stroke="#000" stroke-opacity="0.58" stroke-width="0.7" stroke-linejoin="round"/>
<path d="M664.58 99.19L670.46 95.43L662.82 94.74L656.95 98.54Z" fill="#f4ba1e" stroke="#000" stroke-opacity="0.58" stroke-width="0.7" stroke-linejoin="round"/>
<path d="M592.37 133.75L598.55 127.85L591.39 127.14L585.23 132.96Z" fill="#bbf93a" stroke="#000" stroke-opacity="0.58" stroke-width="0.7" stroke-linejoin="round"/>
<path d="M711.3 90.86L716.91 90.21L708.96 89.11L703.34 89.88Z" fill="#e87202" stroke="#000" stroke-opacity="0.58" stroke-width="0.7" stroke-linejoin="round"/>
<path d="M572.76 144.62L579.02 138.81L571.99 137.94L565.75 143.65Z" fill="#7bf93a" stroke="#000" stroke-opacity="0.58" stroke-width="0.7" stroke-linejoin="round"/>
<path d="M520.03 166.05L526.56 161.8L519.88 160.32L513.36 164.39Z" fill="#2bf667" stroke="#000" stroke-opacity="0.58" stroke-width="0.7" stroke-linejoin="round"/>
<path d="M645.03 107.64L651.02 102.86L643.49 102.25L637.52 107.03Z" fill="#f7e02b" stroke="#000" stroke-opacity="0.58" stroke-width="0.7" stroke-linejoin="round"/>
<path d="M724.96 91.31L730.47 91.7L722.43 90.45L716.91 90.21Z" fill="#e47300" stroke="#000" stroke-opacity="0.58" stroke-width="0.7" stroke-linejoin="round"/>
<path d="M779.38 106.13L784.34 111.56L775.97 109.51L770.98 104.29Z" fill="#9a9f00" stroke="#000" stroke-opacity="0.58" stroke-width="0.7" stroke-linejoin="round"/>
<path d="M553.09 154.68L559.45 149.24L552.55 148.17L546.2 153.47Z" fill="#37f938" stroke="#000" stroke-opacity="0.58" stroke-width="0.7" stroke-linejoin="round"/>
<path d="M678.21 96.14L684.04 93.03L676.29 92.26L670.46 95.43Z" fill="#f29d16" stroke="#000" stroke-opacity="0.58" stroke-width="0.7" stroke-linejoin="round"/>
<path d="M738.62 92.96L744.02 94.47L735.89 93.05L730.47 91.7Z" fill="#976500" stroke="#000" stroke-opacity="0.58" stroke-width="0.7" stroke-linejoin="round"/>
<path d="M625.43 117.67L631.5 112.2L624.1 111.59L618.05 117.04Z" fill="#f5f835" stroke="#000" stroke-opacity="0.58" stroke-width="0.7" stroke-linejoin="round"/>
<path d="M765.85 100.25L770.98 104.29L762.68 102.47L757.53 98.63Z" fill="#9c9300" stroke="#000" stroke-opacity="0.58" stroke-width="0.7" stroke-linejoin="round"/>
<path d="M752.26 95.9L757.53 98.63L749.31 97.02L744.02 94.47Z" fill="#9a7800" stroke="#000" stroke-opacity="0.58" stroke-width="0.7" stroke-linejoin="round"/>
<path d="M605.8 128.58L611.95 122.72L604.68 122.05L598.55 127.85Z" fill="#d4f93a" stroke="#000" stroke-opacity="0.58" stroke-width="0.7" stroke-linejoin="round"/>
<path d="M533.34 163.31L539.8 158.53L533.02 157.19L526.56 161.8Z" fill="#31f84b" stroke="#000" stroke-opacity="0.58" stroke-width="0.7" stroke-linejoin="round"/>
<path d="M586.14 139.69L592.37 133.75L585.23 132.96L579.02 138.81Z" fill="#a1f93c" stroke="#000" stroke-opacity="0.58" stroke-width="0.7" stroke-linejoin="round"/>
<path d="M691.89 93.82L697.65 91.47L689.8 90.61L684.04 93.03Z" fill="#ef830e" stroke="#000" stroke-opacity="0.58" stroke-width="0.7" stroke-linejoin="round"/>
<path d="M658.64 103.49L664.58 99.19L656.95 98.54L651.02 102.86Z" fill="#f5cf25" stroke="#000" stroke-opacity="0.58" stroke-width="0.7" stroke-linejoin="round"/>
<path d="M566.45 150.34L572.76 144.62L565.75 143.65L559.45 149.24Z" fill="#5af93a" stroke="#000" stroke-opacity="0.58" stroke-width="0.7" stroke-linejoin="round"/>
<path d="M639 112.82L645.03 107.64L637.52 107.03L631.5 112.2Z" fill="#f8ec31" stroke="#000" stroke-opacity="0.58" stroke-width="0.7" stroke-linejoin="round"/>
<path d="M705.62 92.35L711.3 90.86L703.34 89.88L697.65 91.47Z" fill="#ec7007" stroke="#000" stroke-opacity="0.58" stroke-width="0.7" stroke-linejoin="round"/>
<path d="M546.68 159.9L553.09 154.68L546.2 153.47L539.8 158.53Z" fill="#36f842" stroke="#000" stroke-opacity="0.58" stroke-width="0.7" stroke-linejoin="round"/>
<path d="M619.32 123.4L625.43 117.67L618.05 117.04L611.95 122.72Z" fill="#eaf938" stroke="#000" stroke-opacity="0.58" stroke-width="0.7" stroke-linejoin="round"/>
<path d="M672.32 99.86L678.21 96.14L670.46 95.43L664.58 99.19Z" fill="#f4af1d" stroke="#000" stroke-opacity="0.58" stroke-width="0.7" stroke-linejoin="round"/>
<path d="M599.61 134.56L605.8 128.58L598.55 127.85L592.37 133.75Z" fill="#c3f93c" stroke="#000" stroke-opacity="0.58" stroke-width="0.7" stroke-linejoin="round"/>
<path d="M719.37 91.85L724.96 91.31L716.91 90.21L711.3 90.86Z" fill="#e86602" stroke="#000" stroke-opacity="0.58" stroke-width="0.7" stroke-linejoin="round"/>
<path d="M526.8 167.75L533.34 163.31L526.56 161.8L520.03 166.05Z" fill="#2ef760" stroke="#000" stroke-opacity="0.58" stroke-width="0.7" stroke-linejoin="round"/>
<path d="M579.87 145.62L586.14 139.69L579.02 138.81L572.76 144.62Z" fill="#86f93c" stroke="#000" stroke-opacity="0.58" stroke-width="0.7" stroke-linejoin="round"/>
<path d="M652.65 108.27L658.64 103.49L651.02 102.86L645.03 107.64Z" fill="#f7dc2c" stroke="#000" stroke-opacity="0.58" stroke-width="0.7" stroke-linejoin="round"/>
<path d="M733.13 92.44L738.62 92.96L730.47 91.7L724.96 91.31Z" fill="#e46a00" stroke="#000" stroke-opacity="0.58" stroke-width="0.7" stroke-linejoin="round"/>
<path d="M560.08 155.92L566.45 150.34L559.45 149.24L553.09 154.68Z" fill="#3df93a" stroke="#000" stroke-opacity="0.58" stroke-width="0.7" stroke-linejoin="round"/>
<path d="M686.06 96.86L691.89 93.82L684.04 93.03L678.21 96.14Z" fill="#f19115" stroke="#000" stroke-opacity="0.58" stroke-width="0.7" stroke-linejoin="round"/>
<path d="M746.88 94.23L752.26 95.9L744.02 94.47L738.62 92.96Z" fill="#976100" stroke="#000" stroke-opacity="0.58" stroke-width="0.7" stroke-linejoin="round"/>
<path d="M774.29 101.89L779.38 106.13L770.98 104.29L765.85 100.25Z" fill="#9d9200" stroke="#000" stroke-opacity="0.58" stroke-width="0.7" stroke-linejoin="round"/>
<path d="M760.61 97.34L765.85 100.25L757.53 98.63L752.26 95.9Z" fill="#9a7500" stroke="#000" stroke-opacity="0.58" stroke-width="0.7" stroke-linejoin="round"/>
<path d="M632.92 118.33L639 112.82L631.5 112.2L625.43 117.67Z" fill="#f8f736" stroke="#000" stroke-opacity="0.58" stroke-width="0.7" stroke-linejoin="round"/>
<path d="M540.2 164.85L546.68 159.9L539.8 158.53L533.34 163.31Z" fill="#34f84a" stroke="#000" stroke-opacity="0.58" stroke-width="0.7" stroke-linejoin="round"/>
<path d="M613.16 129.33L619.32 123.4L611.95 122.72L605.8 128.58Z" fill="#dbf93c" stroke="#000" stroke-opacity="0.58" stroke-width="0.7" stroke-linejoin="round"/>
<path d="M699.86 94.61L705.62 92.35L697.65 91.47L691.89 93.82Z" fill="#ef770d" stroke="#000" stroke-opacity="0.58" stroke-width="0.7" stroke-linejoin="round"/>
<path d="M593.37 140.6L599.61 134.56L592.37 133.75L586.14 139.69Z" fill="#adfa3e" stroke="#000" stroke-opacity="0.58" stroke-width="0.7" stroke-linejoin="round"/>
<path d="M666.38 104.14L672.32 99.86L664.58 99.19L658.64 103.49Z" fill="#f5c325" stroke="#000" stroke-opacity="0.58" stroke-width="0.7" stroke-linejoin="round"/>
<path d="M573.54 151.47L579.87 145.62L572.76 144.62L566.45 150.34Z" fill="#6bfa3d" stroke="#000" stroke-opacity="0.58" stroke-width="0.7" stroke-linejoin="round"/>
<path d="M646.61 113.46L652.65 108.27L645.03 107.64L639 112.82Z" fill="#f8e731" stroke="#000" stroke-opacity="0.58" stroke-width="0.7" stroke-linejoin="round"/>
<path d="M713.69 93.24L719.37 91.85L711.3 90.86L705.62 92.35Z" fill="#eb6306" stroke="#000" stroke-opacity="0.58" stroke-width="0.7" stroke-linejoin="round"/>
<path d="M553.65 161.3L560.08 155.92L553.09 154.68L546.68 159.9Z" fill="#39f941" stroke="#000" stroke-opacity="0.58" stroke-width="0.7" stroke-linejoin="round"/>
<path d="M626.79 124.11L632.92 118.33L625.43 117.67L619.32 123.4Z" fill="#eff93a" stroke="#000" stroke-opacity="0.58" stroke-width="0.7" stroke-linejoin="round"/>
<path d="M680.17 100.54L686.06 96.86L678.21 96.14L672.32 99.86Z" fill="#f3a31d" stroke="#000" stroke-opacity="0.58" stroke-width="0.7" stroke-linejoin="round"/>
<path d="M727.54 92.85L733.13 92.44L724.96 91.31L719.37 91.85Z" fill="#e75a02" stroke="#000" stroke-opacity="0.58" stroke-width="0.7" stroke-linejoin="round"/>
<path d="M606.95 135.39L613.16 129.33L605.8 128.58L599.61 134.56Z" fill="#cafa3e" stroke="#000" stroke-opacity="0.58" stroke-width="0.7" stroke-linejoin="round"/>
<path d="M533.66 169.47L540.2 164.85L533.34 163.31L526.8 167.75Z" fill="#31f85a" stroke="#000" stroke-opacity="0.58" stroke-width="0.7" stroke-linejoin="round"/>
<path d="M587.08 146.64L593.37 140.6L586.14 139.69L579.87 145.62Z" fill="#92fa3f" stroke="#000" stroke-opacity="0.58" stroke-width="0.7" stroke-linejoin="round"/>
<path d="M741.41 93.57L746.88 94.23L738.62 92.96L733.13 92.44Z" fill="#e36000" stroke="#000" stroke-opacity="0.58" stroke-width="0.7" stroke-linejoin="round"/>
<path d="M660.37 108.91L666.38 104.14L658.64 103.49L652.65 108.27Z" fill="#f7d72c" stroke="#000" stroke-opacity="0.58" stroke-width="0.7" stroke-linejoin="round"/>
<path d="M567.16 157.19L573.54 151.47L566.45 150.34L560.08 155.92Z" fill="#45f93c" stroke="#000" stroke-opacity="0.58" stroke-width="0.7" stroke-linejoin="round"/>
<path d="M755.26 95.52L760.61 97.34L752.26 95.9L746.88 94.23Z" fill="#985d00" stroke="#000" stroke-opacity="0.58" stroke-width="0.7" stroke-linejoin="round"/>
<path d="M694.03 97.6L699.86 94.61L691.89 93.82L686.06 96.86Z" fill="#f18514" stroke="#000" stroke-opacity="0.58" stroke-width="0.7" stroke-linejoin="round"/>
<path d="M769.08 98.81L774.29 101.89L765.85 100.25L760.61 97.34Z" fill="#9b7200" stroke="#000" stroke-opacity="0.58" stroke-width="0.7" stroke-linejoin="round"/>
<path d="M640.51 119L646.61 113.46L639 112.82L632.92 118.33Z" fill="#f9f337" stroke="#000" stroke-opacity="0.58" stroke-width="0.7" stroke-linejoin="round"/>
<path d="M547.16 166.42L553.65 161.3L546.68 159.9L540.2 164.85Z" fill="#37f949" stroke="#000" stroke-opacity="0.58" stroke-width="0.7" stroke-linejoin="round"/>
<path d="M620.62 130.1L626.79 124.11L619.32 123.4L613.16 129.33Z" fill="#e2fa3d" stroke="#000" stroke-opacity="0.58" stroke-width="0.7" stroke-linejoin="round"/>
<path d="M707.93 95.42L713.69 93.24L705.62 92.35L699.86 94.61Z" fill="#ee690c" stroke="#000" stroke-opacity="0.58" stroke-width="0.7" stroke-linejoin="round"/>
<path d="M674.22 104.8L680.17 100.54L672.32 99.86L666.38 104.14Z" fill="#f5b825" stroke="#000" stroke-opacity="0.58" stroke-width="0.7" stroke-linejoin="round"/>
<path d="M600.69 141.53L606.95 135.39L599.61 134.56L593.37 140.6Z" fill="#b8fa40" stroke="#000" stroke-opacity="0.58" stroke-width="0.7" stroke-linejoin="round"/>
<path d="M580.74 152.62L587.08 146.64L579.87 145.62L573.54 151.47Z" fill="#77fa3f" stroke="#000" stroke-opacity="0.58" stroke-width="0.7" stroke-linejoin="round"/>
<path d="M654.32 114.11L660.37 108.91L652.65 108.27L646.61 113.46Z" fill="#f8e332" stroke="#000" stroke-opacity="0.58" stroke-width="0.7" stroke-linejoin="round"/>
<path d="M721.87 94.14L727.54 92.85L719.37 91.85L713.69 93.24Z" fill="#eb5605" stroke="#000" stroke-opacity="0.58" stroke-width="0.7" stroke-linejoin="round"/>
<path d="M560.72 162.72L567.16 157.19L560.08 155.92L553.65 161.3Z" fill="#3cf940" stroke="#000" stroke-opacity="0.58" stroke-width="0.7" stroke-linejoin="round"/>
<path d="M634.37 124.83L640.51 119L632.92 118.33L626.79 124.11Z" fill="#f4f93b" stroke="#000" stroke-opacity="0.58" stroke-width="0.7" stroke-linejoin="round"/>
<path d="M688.13 101.24L694.03 97.6L686.06 96.86L680.17 100.54Z" fill="#f3971c" stroke="#000" stroke-opacity="0.58" stroke-width="0.7" stroke-linejoin="round"/>
<path d="M735.83 93.87L741.41 93.57L733.13 92.44L727.54 92.85Z" fill="#e74f01" stroke="#000" stroke-opacity="0.58" stroke-width="0.7" stroke-linejoin="round"/>
<path d="M614.39 136.25L620.62 130.1L613.16 129.33L606.95 135.39Z" fill="#d2fa40" stroke="#000" stroke-opacity="0.58" stroke-width="0.7" stroke-linejoin="round"/>
<path d="M540.61 171.22L547.16 166.42L540.2 164.85L533.66 169.47Z" fill="#35f853" stroke="#000" stroke-opacity="0.58" stroke-width="0.7" stroke-linejoin="round"/>
<path d="M594.39 147.68L600.69 141.53L593.37 140.6L587.08 146.64Z" fill="#9dfa41" stroke="#000" stroke-opacity="0.58" stroke-width="0.7" stroke-linejoin="round"/>
<path d="M749.8 94.72L755.26 95.52L746.88 94.23L741.41 93.57Z" fill="#e25600" stroke="#000" stroke-opacity="0.58" stroke-width="0.7" stroke-linejoin="round"/>
<path d="M668.21 109.57L674.22 104.8L666.38 104.14L660.37 108.91Z" fill="#f7cf2c" stroke="#000" stroke-opacity="0.58" stroke-width="0.7" stroke-linejoin="round"/>
<path d="M763.75 96.82L769.08 98.81L760.61 97.34L755.26 95.52Z" fill="#985800" stroke="#000" stroke-opacity="0.58" stroke-width="0.7" stroke-linejoin="round"/>
<path d="M574.34 158.48L580.74 152.62L573.54 151.47L567.16 157.19Z" fill="#55fa3f" stroke="#000" stroke-opacity="0.58" stroke-width="0.7" stroke-linejoin="round"/>
<path d="M702.1 98.35L707.93 95.42L699.86 94.61L694.03 97.6Z" fill="#f17814" stroke="#000" stroke-opacity="0.58" stroke-width="0.7" stroke-linejoin="round"/>
<path d="M648.22 119.69L654.32 114.11L646.61 113.46L640.51 119Z" fill="#f9ee38" stroke="#000" stroke-opacity="0.58" stroke-width="0.7" stroke-linejoin="round"/>
<path d="M554.22 168.02L560.72 162.72L553.65 161.3L547.16 166.42Z" fill="#3af949" stroke="#000" stroke-opacity="0.58" stroke-width="0.7" stroke-linejoin="round"/>
<path d="M628.18 130.89L634.37 124.83L626.79 124.11L620.62 130.1Z" fill="#e9fa3f" stroke="#000" stroke-opacity="0.58" stroke-width="0.7" stroke-linejoin="round"/>
<path d="M716.12 96.25L721.87 94.14L713.69 93.24L707.93 95.42Z" fill="#ee5b0b" stroke="#000" stroke-opacity="0.58" stroke-width="0.7" stroke-linejoin="round"/>
<path d="M682.17 105.48L688.13 101.24L680.17 100.54L674.22 104.8Z" fill="#f5ad25" stroke="#000" stroke-opacity="0.58" stroke-width="0.7" stroke-linejoin="round"/>
<path d="M608.12 142.48L614.39 136.25L606.95 135.39L600.69 141.53Z" fill="#c1fa42" stroke="#000" stroke-opacity="0.58" stroke-width="0.7" stroke-linejoin="round"/>
<path d="M588.03 153.79L594.39 147.68L587.08 146.64L580.74 152.62Z" fill="#83fa42" stroke="#000" stroke-opacity="0.58" stroke-width="0.7" stroke-linejoin="round"/>
<path d="M730.17 95.06L735.83 93.87L727.54 92.85L721.87 94.14Z" fill="#ea4905" stroke="#000" stroke-opacity="0.58" stroke-width="0.7" stroke-linejoin="round"/>
<path d="M662.14 114.79L668.21 109.57L660.37 108.91L654.32 114.11Z" fill="#f8de33" stroke="#000" stroke-opacity="0.58" stroke-width="0.7" stroke-linejoin="round"/>
<path d="M567.89 164.18L574.34 158.48L567.16 157.19L560.72 162.72Z" fill="#3ffa3f" stroke="#000" stroke-opacity="0.58" stroke-width="0.7" stroke-linejoin="round"/>
<path d="M696.2 101.95L702.1 98.35L694.03 97.6L688.13 101.24Z" fill="#f38b1c" stroke="#000" stroke-opacity="0.58" stroke-width="0.7" stroke-linejoin="round"/>
<path d="M642.06 125.57L648.22 119.69L640.51 119L634.37 124.83Z" fill="#f9f93c" stroke="#000" stroke-opacity="0.58" stroke-width="0.7" stroke-linejoin="round"/>
<path d="M744.24 94.9L749.8 94.72L741.41 93.57L735.83 93.87Z" fill="#e64301" stroke="#000" stroke-opacity="0.58" stroke-width="0.7" stroke-linejoin="round"/>
<path d="M547.66 173.01L554.22 168.02L547.16 166.42L540.61 171.22Z" fill="#38f950" stroke="#000" stroke-opacity="0.58" stroke-width="0.7" stroke-linejoin="round"/>
<path d="M621.94 137.12L628.18 130.89L620.62 130.1L614.39 136.25Z" fill="#d9fa42" stroke="#000" stroke-opacity="0.58" stroke-width="0.7" stroke-linejoin="round"/>
<path d="M758.31 95.88L763.75 96.82L755.26 95.52L749.8 94.72Z" fill="#954100" stroke="#000" stroke-opacity="0.58" stroke-width="0.7" stroke-linejoin="round"/>
<path d="M601.8 148.75L608.12 142.48L600.69 141.53L594.39 147.68Z" fill="#a8fb44" stroke="#000" stroke-opacity="0.58" stroke-width="0.7" stroke-linejoin="round"/>
<path d="M676.15 110.24L682.17 105.48L674.22 104.8L668.21 109.57Z" fill="#f7c42c" stroke="#000" stroke-opacity="0.58" stroke-width="0.7" stroke-linejoin="round"/>
<path d="M581.62 159.8L588.03 153.79L580.74 152.62L574.34 158.48Z" fill="#64fa42" stroke="#000" stroke-opacity="0.58" stroke-width="0.7" stroke-linejoin="round"/>
<path d="M710.29 99.12L716.12 96.25L707.93 95.42L702.1 98.35Z" fill="#f16913" stroke="#000" stroke-opacity="0.58" stroke-width="0.7" stroke-linejoin="round"/>
<path d="M656.03 120.4L662.14 114.79L654.32 114.11L648.22 119.69Z" fill="#f9ea39" stroke="#000" stroke-opacity="0.58" stroke-width="0.7" stroke-linejoin="round"/>
<path d="M561.38 169.64L567.89 164.18L560.72 162.72L554.22 168.02Z" fill="#3efa49" stroke="#000" stroke-opacity="0.58" stroke-width="0.7" stroke-linejoin="round"/>
<path d="M635.86 131.7L642.06 125.57L634.37 124.83L628.18 130.89Z" fill="#eefa40" stroke="#000" stroke-opacity="0.58" stroke-width="0.7" stroke-linejoin="round"/>
<path d="M724.42 97.09L730.17 95.06L721.87 94.14L716.12 96.25Z" fill="#ee4d0b" stroke="#000" stroke-opacity="0.58" stroke-width="0.7" stroke-linejoin="round"/>
<path d="M690.24 106.17L696.2 101.95L688.13 101.24L682.17 105.48Z" fill="#f5a124" stroke="#000" stroke-opacity="0.58" stroke-width="0.7" stroke-linejoin="round"/>
<path d="M615.66 143.46L621.94 137.12L614.39 136.25L608.12 142.48Z" fill="#c8fb44" stroke="#000" stroke-opacity="0.58" stroke-width="0.7" stroke-linejoin="round"/>
<path d="M595.43 154.99L601.8 148.75L594.39 147.68L588.03 153.79Z" fill="#8efb45" stroke="#000" stroke-opacity="0.58" stroke-width="0.7" stroke-linejoin="round"/>
<path d="M738.59 95.99L744.24 94.9L735.83 93.87L730.17 95.06Z" fill="#ea3c04" stroke="#000" stroke-opacity="0.58" stroke-width="0.7" stroke-linejoin="round"/>
<path d="M670.08 115.48L676.15 110.24L668.21 109.57L662.14 114.79Z" fill="#f8da33" stroke="#000" stroke-opacity="0.58" stroke-width="0.7" stroke-linejoin="round"/>
<path d="M575.16 165.66L581.62 159.8L574.34 158.48L567.89 164.18Z" fill="#45fa42" stroke="#000" stroke-opacity="0.58" stroke-width="0.7" stroke-linejoin="round"/>
<path d="M704.39 102.68L710.29 99.12L702.1 98.35L696.2 101.95Z" fill="#f37e1b" stroke="#000" stroke-opacity="0.58" stroke-width="0.7" stroke-linejoin="round"/>
<path d="M649.86 126.33L656.03 120.4L648.22 119.69L642.06 125.57Z" fill="#faf63e" stroke="#000" stroke-opacity="0.58" stroke-width="0.7" stroke-linejoin="round"/>
<path d="M752.77 95.94L758.31 95.88L749.8 94.72L744.24 94.9Z" fill="#e63801" stroke="#000" stroke-opacity="0.58" stroke-width="0.7" stroke-linejoin="round"/>
<path d="M554.8 174.82L561.38 169.64L554.22 168.02L547.66 173.01Z" fill="#3cf951" stroke="#000" stroke-opacity="0.58" stroke-width="0.7" stroke-linejoin="round"/>
<path d="M629.6 138.01L635.86 131.7L628.18 130.89L621.94 137.12Z" fill="#e0fb44" stroke="#000" stroke-opacity="0.58" stroke-width="0.7" stroke-linejoin="round"/>
<path d="M609.32 149.84L615.66 143.46L608.12 142.48L601.8 148.75Z" fill="#b3fb46" stroke="#000" stroke-opacity="0.58" stroke-width="0.7" stroke-linejoin="round"/>
<path d="M684.21 110.93L690.24 106.17L682.17 105.48L676.15 110.24Z" fill="#f7b92c" stroke="#000" stroke-opacity="0.58" stroke-width="0.7" stroke-linejoin="round"/>
<path d="M589.01 161.15L595.43 154.99L588.03 153.79L581.62 159.8Z" fill="#73fb45" stroke="#000" stroke-opacity="0.58" stroke-width="0.7" stroke-linejoin="round"/>
<path d="M718.6 99.9L724.42 97.09L716.12 96.25L710.29 99.12Z" fill="#f05b12" stroke="#000" stroke-opacity="0.58" stroke-width="0.7" stroke-linejoin="round"/>
<path d="M663.95 121.12L670.08 115.48L662.14 114.79L656.03 120.4Z" fill="#f9e53a" stroke="#000" stroke-opacity="0.58" stroke-width="0.7" stroke-linejoin="round"/>
<path d="M568.64 171.3L575.16 165.66L567.89 164.18L561.38 169.64Z" fill="#41fa48" stroke="#000" stroke-opacity="0.58" stroke-width="0.7" stroke-linejoin="round"/>
<path d="M643.64 132.53L649.86 126.33L642.06 125.57L635.86 131.7Z" fill="#f3fa42" stroke="#000" stroke-opacity="0.58" stroke-width="0.7" stroke-linejoin="round"/>
<path d="M732.85 97.94L738.59 95.99L730.17 95.06L724.42 97.09Z" fill="#ed400a" stroke="#000" stroke-opacity="0.58" stroke-width="0.7" stroke-linejoin="round"/>
<path d="M698.42 106.87L704.39 102.68L696.2 101.95L690.24 106.17Z" fill="#f59524" stroke="#000" stroke-opacity="0.58" stroke-width="0.7" stroke-linejoin="round"/>
<path d="M623.3 144.45L629.6 138.01L621.94 137.12L615.66 143.46Z" fill="#cffb47" stroke="#000" stroke-opacity="0.58" stroke-width="0.7" stroke-linejoin="round"/>
<path d="M602.94 156.22L609.32 149.84L601.8 148.75L595.43 154.99Z" fill="#99fb48" stroke="#000" stroke-opacity="0.58" stroke-width="0.7" stroke-linejoin="round"/>
<path d="M747.12 96.94L752.77 95.94L744.24 94.9L738.59 95.99Z" fill="#e93004" stroke="#000" stroke-opacity="0.58" stroke-width="0.7" stroke-linejoin="round"/>
<path d="M582.53 167.16L589.01 161.15L581.62 159.8L575.16 165.66Z" fill="#4efb45" stroke="#000" stroke-opacity="0.58" stroke-width="0.7" stroke-linejoin="round"/>
<path d="M678.13 116.19L684.21 110.93L676.15 110.24L670.08 115.48Z" fill="#f8d234" stroke="#000" stroke-opacity="0.58" stroke-width="0.7" stroke-linejoin="round"/>
<path d="M712.7 103.42L718.6 99.9L710.29 99.12L704.39 102.68Z" fill="#f36f1b" stroke="#000" stroke-opacity="0.58" stroke-width="0.7" stroke-linejoin="round"/>
<path d="M657.77 127.11L663.95 121.12L656.03 120.4L649.86 126.33Z" fill="#faf23f" stroke="#000" stroke-opacity="0.58" stroke-width="0.7" stroke-linejoin="round"/>
<path d="M562.05 176.66L568.64 171.3L561.38 169.64L554.8 174.82Z" fill="#3ffa51" stroke="#000" stroke-opacity="0.58" stroke-width="0.7" stroke-linejoin="round"/>
<path d="M637.37 138.93L643.64 132.53L635.86 131.7L629.6 138.01Z" fill="#e7fb46" stroke="#000" stroke-opacity="0.58" stroke-width="0.7" stroke-linejoin="round"/>
<path d="M616.95 150.96L623.3 144.45L615.66 143.46L609.32 149.84Z" fill="#befb49" stroke="#000" stroke-opacity="0.58" stroke-width="0.7" stroke-linejoin="round"/>
<path d="M692.39 111.64L698.42 106.87L690.24 106.17L684.21 110.93Z" fill="#f7ae2d" stroke="#000" stroke-opacity="0.58" stroke-width="0.7" stroke-linejoin="round"/>
<path d="M596.5 162.52L602.94 156.22L595.43 154.99L589.01 161.15Z" fill="#7efb48" stroke="#000" stroke-opacity="0.58" stroke-width="0.7" stroke-linejoin="round"/>
<path d="M727.02 100.69L732.85 97.94L724.42 97.09L718.6 99.9Z" fill="#f04c12" stroke="#000" stroke-opacity="0.58" stroke-width="0.7" stroke-linejoin="round"/>
<path d="M576 172.98L582.53 167.16L575.16 165.66L568.64 171.3Z" fill="#44fb49" stroke="#000" stroke-opacity="0.58" stroke-width="0.7" stroke-linejoin="round"/>
<path d="M671.99 121.87L678.13 116.19L670.08 115.48L663.95 121.12Z" fill="#f9e13b" stroke="#000" stroke-opacity="0.58" stroke-width="0.7" stroke-linejoin="round"/>
<path d="M651.54 133.38L657.77 127.11L649.86 126.33L643.64 132.53Z" fill="#f8fb44" stroke="#000" stroke-opacity="0.58" stroke-width="0.7" stroke-linejoin="round"/>
<path d="M741.39 98.81L747.12 96.94L738.59 95.99L732.85 97.94Z" fill="#ed3209" stroke="#000" stroke-opacity="0.58" stroke-width="0.7" stroke-linejoin="round"/>
<path d="M706.72 107.6L712.7 103.42L704.39 102.68L698.42 106.87Z" fill="#f58924" stroke="#000" stroke-opacity="0.58" stroke-width="0.7" stroke-linejoin="round"/>
<path d="M631.06 145.47L637.37 138.93L629.6 138.01L623.3 144.45Z" fill="#d6fb49" stroke="#000" stroke-opacity="0.58" stroke-width="0.7" stroke-linejoin="round"/>
<path d="M610.55 157.46L616.95 150.96L609.32 149.84L602.94 156.22Z" fill="#a3fb4a" stroke="#000" stroke-opacity="0.58" stroke-width="0.7" stroke-linejoin="round"/>
<path d="M590.01 168.7L596.5 162.52L589.01 161.15L582.53 167.16Z" fill="#5cfb48" stroke="#000" stroke-opacity="0.58" stroke-width="0.7" stroke-linejoin="round"/>
<path d="M686.3 116.91L692.39 111.64L684.21 110.93L678.13 116.19Z" fill="#f8c735" stroke="#000" stroke-opacity="0.58" stroke-width="0.7" stroke-linejoin="round"/>
<path d="M721.12 104.18L727.02 100.69L718.6 99.9L712.7 103.42Z" fill="#f3611a" stroke="#000" stroke-opacity="0.58" stroke-width="0.7" stroke-linejoin="round"/>
<path d="M665.8 127.91L671.99 121.87L663.95 121.12L657.77 127.11Z" fill="#faed41" stroke="#000" stroke-opacity="0.58" stroke-width="0.7" stroke-linejoin="round"/>
<path d="M569.4 178.54L576 172.98L568.64 171.3L562.05 176.66Z" fill="#43fa52" stroke="#000" stroke-opacity="0.58" stroke-width="0.7" stroke-linejoin="round"/>
<path d="M645.26 139.87L651.54 133.38L643.64 132.53L637.37 138.93Z" fill="#edfb48" stroke="#000" stroke-opacity="0.58" stroke-width="0.7" stroke-linejoin="round"/>
<path d="M624.69 152.09L631.06 145.47L623.3 144.45L616.95 150.96Z" fill="#c5fb4b" stroke="#000" stroke-opacity="0.58" stroke-width="0.7" stroke-linejoin="round"/>
<path d="M700.69 112.36L706.72 107.6L698.42 106.87L692.39 111.64Z" fill="#f7a32d" stroke="#000" stroke-opacity="0.58" stroke-width="0.7" stroke-linejoin="round"/>
<path d="M604.1 163.92L610.55 157.46L602.94 156.22L596.5 162.52Z" fill="#89fb4b" stroke="#000" stroke-opacity="0.58" stroke-width="0.7" stroke-linejoin="round"/>
<path d="M735.57 101.5L741.39 98.81L732.85 97.94L727.02 100.69Z" fill="#f03e11" stroke="#000" stroke-opacity="0.58" stroke-width="0.7" stroke-linejoin="round"/>
<path d="M583.46 174.69L590.01 168.7L582.53 167.16L576 172.98Z" fill="#48fb49" stroke="#000" stroke-opacity="0.58" stroke-width="0.7" stroke-linejoin="round"/>
<path d="M680.15 122.63L686.3 116.91L678.13 116.19L671.99 121.87Z" fill="#f9dd3c" stroke="#000" stroke-opacity="0.58" stroke-width="0.7" stroke-linejoin="round"/>
<path d="M659.55 134.25L665.8 127.91L657.77 127.11L651.54 133.38Z" fill="#fbfa46" stroke="#000" stroke-opacity="0.58" stroke-width="0.7" stroke-linejoin="round"/>
<path d="M715.15 108.33L721.12 104.18L712.7 103.42L706.72 107.6Z" fill="#f57b24" stroke="#000" stroke-opacity="0.58" stroke-width="0.7" stroke-linejoin="round"/>
<path d="M638.93 146.51L645.26 139.87L637.37 138.93L631.06 145.47Z" fill="#dcfb4b" stroke="#000" stroke-opacity="0.58" stroke-width="0.7" stroke-linejoin="round"/>
<path d="M618.28 158.74L624.69 152.09L616.95 150.96L610.55 157.46Z" fill="#adfb4d" stroke="#000" stroke-opacity="0.58" stroke-width="0.7" stroke-linejoin="round"/>
<path d="M597.59 170.26L604.1 163.92L596.5 162.52L590.01 168.7Z" fill="#6afb4c" stroke="#000" stroke-opacity="0.58" stroke-width="0.7" stroke-linejoin="round"/>
<path d="M694.59 117.65L700.69 112.36L692.39 111.64L686.3 116.91Z" fill="#f8bd35" stroke="#000" stroke-opacity="0.58" stroke-width="0.7" stroke-linejoin="round"/>
<path d="M729.67 104.95L735.57 101.5L727.02 100.69L721.12 104.18Z" fill="#f3521a" stroke="#000" stroke-opacity="0.58" stroke-width="0.7" stroke-linejoin="round"/>
<path d="M576.85 180.45L583.46 174.69L576 172.98L569.4 178.54Z" fill="#47fb52" stroke="#000" stroke-opacity="0.58" stroke-width="0.7" stroke-linejoin="round"/>
<path d="M673.94 128.72L680.15 122.63L671.99 121.87L665.8 127.91Z" fill="#fae942" stroke="#000" stroke-opacity="0.58" stroke-width="0.7" stroke-linejoin="round"/>
<path d="M653.26 140.82L659.55 134.25L651.54 133.38L645.26 139.87Z" fill="#f1fb4a" stroke="#000" stroke-opacity="0.58" stroke-width="0.7" stroke-linejoin="round"/>
<path d="M632.55 153.26L638.93 146.51L631.06 145.47L624.69 152.09Z" fill="#cbfb4e" stroke="#000" stroke-opacity="0.58" stroke-width="0.7" stroke-linejoin="round"/>
<path d="M709.1 113.1L715.15 108.33L706.72 107.6L700.69 112.36Z" fill="#f7972d" stroke="#000" stroke-opacity="0.58" stroke-width="0.7" stroke-linejoin="round"/>
<path d="M611.81 165.35L618.28 158.74L610.55 157.46L604.1 163.92Z" fill="#93fb4e" stroke="#000" stroke-opacity="0.58" stroke-width="0.7" stroke-linejoin="round"/>
<path d="M591.03 176.44L597.59 170.26L590.01 168.7L583.46 174.69Z" fill="#4efb4c" stroke="#000" stroke-opacity="0.58" stroke-width="0.7" stroke-linejoin="round"/>
<path d="M688.42 123.4L694.59 117.65L686.3 116.91L680.15 122.63Z" fill="#fad73d" stroke="#000" stroke-opacity="0.58" stroke-width="0.7" stroke-linejoin="round"/>
<path d="M667.68 135.13L673.94 128.72L665.8 127.91L659.55 134.25Z" fill="#fbf647" stroke="#000" stroke-opacity="0.58" stroke-width="0.7" stroke-linejoin="round"/>
<path d="M723.69 109.08L729.67 104.95L721.12 104.18L715.15 108.33Z" fill="#f56c24" stroke="#000" stroke-opacity="0.58" stroke-width="0.7" stroke-linejoin="round"/>
<path d="M646.91 147.58L653.26 140.82L645.26 139.87L638.93 146.51Z" fill="#e2fb4e" stroke="#000" stroke-opacity="0.58" stroke-width="0.7" stroke-linejoin="round"/>
<path d="M626.12 160.04L632.55 153.26L624.69 152.09L618.28 158.74Z" fill="#b6fb50" stroke="#000" stroke-opacity="0.58" stroke-width="0.7" stroke-linejoin="round"/>
<path d="M605.29 171.86L611.81 165.35L604.1 163.92L597.59 170.26Z" fill="#77fb4f" stroke="#000" stroke-opacity="0.58" stroke-width="0.7" stroke-linejoin="round"/>
<path d="M702.99 118.41L709.1 113.1L700.69 112.36L694.59 117.65Z" fill="#f8b236" stroke="#000" stroke-opacity="0.58" stroke-width="0.7" stroke-linejoin="round"/>
<path d="M584.41 182.39L591.03 176.44L583.46 174.69L576.85 180.45Z" fill="#4bfb53" stroke="#000" stroke-opacity="0.58" stroke-width="0.7" stroke-linejoin="round"/>
<path d="M682.21 129.56L688.42 123.4L680.15 122.63L673.94 128.72Z" fill="#fbe543" stroke="#000" stroke-opacity="0.58" stroke-width="0.7" stroke-linejoin="round"/>
<path d="M661.37 141.8L667.68 135.13L659.55 134.25L653.26 140.82Z" fill="#f5fb4c" stroke="#000" stroke-opacity="0.58" stroke-width="0.7" stroke-linejoin="round"/>
<path d="M640.51 154.44L646.91 147.58L638.93 146.51L632.55 153.26Z" fill="#d2fb50" stroke="#000" stroke-opacity="0.58" stroke-width="0.7" stroke-linejoin="round"/>
<path d="M619.63 166.8L626.12 160.04L618.28 158.74L611.81 165.35Z" fill="#9cfb51" stroke="#000" stroke-opacity="0.58" stroke-width="0.7" stroke-linejoin="round"/>
<path d="M717.64 113.85L723.69 109.08L715.15 108.33L709.1 113.1Z" fill="#f78b2d" stroke="#000" stroke-opacity="0.58" stroke-width="0.7" stroke-linejoin="round"/>
<path d="M598.71 178.21L605.29 171.86L597.59 170.26L591.03 176.44Z" fill="#54fb4f" stroke="#000" stroke-opacity="0.58" stroke-width="0.7" stroke-linejoin="round"/>
<path d="M696.82 124.2L702.99 118.41L694.59 117.65L688.42 123.4Z" fill="#facd3e" stroke="#000" stroke-opacity="0.58" stroke-width="0.7" stroke-linejoin="round"/>
<path d="M675.94 136.04L682.21 129.56L673.94 128.72L667.68 135.13Z" fill="#fbf249" stroke="#000" stroke-opacity="0.58" stroke-width="0.7" stroke-linejoin="round"/>
<path d="M655.01 148.66L661.37 141.8L653.26 140.82L646.91 147.58Z" fill="#e8fb50" stroke="#000" stroke-opacity="0.58" stroke-width="0.7" stroke-linejoin="round"/>
<path d="M634.07 161.36L640.51 154.44L632.55 153.26L626.12 160.04Z" fill="#c0fb53" stroke="#000" stroke-opacity="0.58" stroke-width="0.7" stroke-linejoin="round"/>
<path d="M613.1 173.48L619.63 166.8L611.81 165.35L605.29 171.86Z" fill="#83fb52" stroke="#000" stroke-opacity="0.58" stroke-width="0.7" stroke-linejoin="round"/>
<path d="M711.53 119.18L717.64 113.85L709.1 113.1L702.99 118.41Z" fill="#f9a736" stroke="#000" stroke-opacity="0.58" stroke-width="0.7" stroke-linejoin="round"/>
<path d="M592.08 184.36L598.71 178.21L591.03 176.44L584.41 182.39Z" fill="#4ffb54" stroke="#000" stroke-opacity="0.58" stroke-width="0.7" stroke-linejoin="round"/>
<path d="M690.6 130.41L696.82 124.2L688.42 123.4L682.21 129.56Z" fill="#fbe245" stroke="#000" stroke-opacity="0.58" stroke-width="0.7" stroke-linejoin="round"/>
<path d="M669.61 142.8L675.94 136.04L667.68 135.13L661.37 141.8Z" fill="#f9fb4e" stroke="#000" stroke-opacity="0.58" stroke-width="0.7" stroke-linejoin="round"/>
<path d="M648.6 155.65L655.01 148.66L646.91 147.58L640.51 154.44Z" fill="#d8fb53" stroke="#000" stroke-opacity="0.58" stroke-width="0.7" stroke-linejoin="round"/>
<path d="M627.57 168.28L634.07 161.36L626.12 160.04L619.63 166.8Z" fill="#a6fb55" stroke="#000" stroke-opacity="0.58" stroke-width="0.7" stroke-linejoin="round"/>
<path d="M606.51 180.02L613.1 173.48L605.29 171.86L598.71 178.21Z" fill="#60fb53" stroke="#000" stroke-opacity="0.58" stroke-width="0.7" stroke-linejoin="round"/>
<path d="M705.35 125.01L711.53 119.18L702.99 118.41L696.82 124.2Z" fill="#fac33f" stroke="#000" stroke-opacity="0.58" stroke-width="0.7" stroke-linejoin="round"/>
<path d="M684.31 136.97L690.6 130.41L682.21 129.56L675.94 136.04Z" fill="#fbee4b" stroke="#000" stroke-opacity="0.58" stroke-width="0.7" stroke-linejoin="round"/>
<path d="M663.23 149.77L669.61 142.8L661.37 141.8L655.01 148.66Z" fill="#eefb52" stroke="#000" stroke-opacity="0.58" stroke-width="0.7" stroke-linejoin="round"/>
<path d="M642.14 162.71L648.6 155.65L640.51 154.44L634.07 161.36Z" fill="#c7fb56" stroke="#000" stroke-opacity="0.58" stroke-width="0.7" stroke-linejoin="round"/>
<path d="M621.02 175.13L627.57 168.28L619.63 166.8L613.1 173.48Z" fill="#8cfb56" stroke="#000" stroke-opacity="0.58" stroke-width="0.7" stroke-linejoin="round"/>
<path d="M599.86 186.36L606.51 180.02L598.71 178.21L592.08 184.36Z" fill="#53fb55" stroke="#000" stroke-opacity="0.58" stroke-width="0.7" stroke-linejoin="round"/>
<path d="M699.11 131.28L705.35 125.01L696.82 124.2L690.6 130.41Z" fill="#fbde46" stroke="#000" stroke-opacity="0.58" stroke-width="0.7" stroke-linejoin="round"/>
<path d="M677.97 143.82L684.31 136.97L675.94 136.04L669.61 142.8Z" fill="#fbf950" stroke="#000" stroke-opacity="0.58" stroke-width="0.7" stroke-linejoin="round"/>
<path d="M656.81 156.89L663.23 149.77L655.01 148.66L648.6 155.65Z" fill="#ddfb56" stroke="#000" stroke-opacity="0.58" stroke-width="0.7" stroke-linejoin="round"/>
<path d="M635.62 169.78L642.14 162.71L634.07 161.36L627.57 168.28Z" fill="#affb58" stroke="#000" stroke-opacity="0.58" stroke-width="0.7" stroke-linejoin="round"/>
<path d="M614.41 181.85L621.02 175.13L613.1 173.48L606.51 180.02Z" fill="#6dfb56" stroke="#000" stroke-opacity="0.58" stroke-width="0.7" stroke-linejoin="round"/>
<path d="M692.81 137.92L699.11 131.28L690.6 130.41L684.31 136.97Z" fill="#fbea4d" stroke="#000" stroke-opacity="0.58" stroke-width="0.7" stroke-linejoin="round"/>
<path d="M671.58 150.9L677.97 143.82L669.61 142.8L663.23 149.77Z" fill="#f2fb55" stroke="#000" stroke-opacity="0.58" stroke-width="0.7" stroke-linejoin="round"/>
<path d="M650.33 164.09L656.81 156.89L648.6 155.65L642.14 162.71Z" fill="#cdfb59" stroke="#000" stroke-opacity="0.58" stroke-width="0.7" stroke-linejoin="round"/>
<path d="M629.06 176.8L635.62 169.78L627.57 168.28L621.02 175.13Z" fill="#95fb59" stroke="#000" stroke-opacity="0.58" stroke-width="0.7" stroke-linejoin="round"/>
<path d="M607.75 188.39L614.41 181.85L606.51 180.02L599.86 186.36Z" fill="#57fb57" stroke="#000" stroke-opacity="0.58" stroke-width="0.7" stroke-linejoin="round"/>
<path d="M686.46 144.87L692.81 137.92L684.31 136.97L677.97 143.82Z" fill="#fbf552" stroke="#000" stroke-opacity="0.58" stroke-width="0.7" stroke-linejoin="round"/>
<path d="M665.14 158.15L671.58 150.9L663.23 149.77L656.81 156.89Z" fill="#e3fb59" stroke="#000" stroke-opacity="0.58" stroke-width="0.7" stroke-linejoin="round"/>
<path d="M643.8 171.32L650.33 164.09L642.14 162.71L635.62 169.78Z" fill="#b7fb5b" stroke="#000" stroke-opacity="0.58" stroke-width="0.7" stroke-linejoin="round"/>
<path d="M622.44 183.72L629.06 176.8L621.02 175.13L614.41 181.85Z" fill="#79fb5a" stroke="#000" stroke-opacity="0.58" stroke-width="0.7" stroke-linejoin="round"/>
<path d="M680.05 152.06L686.46 144.87L677.97 143.82L671.58 150.9Z" fill="#f5fb57" stroke="#000" stroke-opacity="0.58" stroke-width="0.7" stroke-linejoin="round"/>
<path d="M658.64 165.49L665.14 158.15L656.81 156.89L650.33 164.09Z" fill="#d3fb5c" stroke="#000" stroke-opacity="0.58" stroke-width="0.7" stroke-linejoin="round"/>
<path d="M637.22 178.51L643.8 171.32L635.62 169.78L629.06 176.8Z" fill="#9efb5d" stroke="#000" stroke-opacity="0.58" stroke-width="0.7" stroke-linejoin="round"/>
<path d="M615.76 190.46L622.44 183.72L614.41 181.85L607.75 188.39Z" fill="#5dfb5b" stroke="#000" stroke-opacity="0.58" stroke-width="0.7" stroke-linejoin="round"/>
<path d="M673.59 159.43L680.05 152.06L671.58 150.9L665.14 158.15Z" fill="#e9fb5b" stroke="#000" stroke-opacity="0.58" stroke-width="0.7" stroke-linejoin="round"/>
<path d="M652.1 172.88L658.64 165.49L650.33 164.09L643.8 171.32Z" fill="#c0fb5e" stroke="#000" stroke-opacity="0.58" stroke-width="0.7" stroke-linejoin="round"/>
<path d="M630.58 185.61L637.22 178.51L629.06 176.8L622.44 183.72Z" fill="#84fb5e" stroke="#000" stroke-opacity="0.58" stroke-width="0.7" stroke-linejoin="round"/>
<path d="M667.08 166.92L673.59 159.43L665.14 158.15L658.64 165.49Z" fill="#d8fb5f" stroke="#000" stroke-opacity="0.58" stroke-width="0.7" stroke-linejoin="round"/>
<path d="M645.5 180.25L652.1 172.88L643.8 171.32L637.22 178.51Z" fill="#a6fb60" stroke="#000" stroke-opacity="0.58" stroke-width="0.7" stroke-linejoin="round"/>
<path d="M623.89 192.56L630.58 185.61L622.44 183.72L615.76 190.46Z" fill="#63fb5f" stroke="#000" stroke-opacity="0.58" stroke-width="0.7" stroke-linejoin="round"/>
<path d="M660.52 174.47L667.08 166.92L658.64 165.49L652.1 172.88Z" fill="#c8fb62" stroke="#000" stroke-opacity="0.58" stroke-width="0.7" stroke-linejoin="round"/>
<path d="M638.85 187.54L645.5 180.25L637.22 178.51L630.58 185.61Z" fill="#8efb62" stroke="#000" stroke-opacity="0.58" stroke-width="0.7" stroke-linejoin="round"/>
<path d="M653.9 182.02L660.52 174.47L652.1 172.88L645.5 180.25Z" fill="#affb64" stroke="#000" stroke-opacity="0.58" stroke-width="0.7" stroke-linejoin="round"/>
<path d="M632.14 194.69L638.85 187.54L630.58 185.61L623.89 192.56Z" fill="#6dfb63" stroke="#000" stroke-opacity="0.58" stroke-width="0.7" stroke-linejoin="round"/>
<path d="M647.24 189.5L653.9 182.02L645.5 180.25L638.85 187.54Z" fill="#95fb64" stroke="#000" stroke-opacity="0.58" stroke-width="0.7" stroke-linejoin="round"/>
<path d="M640.51 196.86L647.24 189.5L638.85 187.54L632.14 194.69Z" fill="#76fb64" stroke="#000" stroke-opacity="0.58" stroke-width="0.7" stroke-linejoin="round"/>
<circle cx="640.51" cy="86.73" r="2.9" fill="#d8000c" stroke="#7a0000" stroke-width="0.6"/>
<circle cx="640.51" cy="97.72" r="2.9" fill="#d8000c" stroke="#7a0000" stroke-width="0.6"/>
<path d="M640.51 95.22L640.51 104.09" stroke="#3a0a00" stroke-width="0.7" stroke-opacity="0.8"/>
<text x="477.16" y="212.16" textLength="13.96" lengthAdjust="spacingAndGlyphs" style="font-family:&quot;Liberation Sans&quot;,sans-serif;font-size:9.3px;fill:#4a4a4a">140</text>
<text x="476.14" y="191" textLength="13.96" lengthAdjust="spacingAndGlyphs" style="font-family:&quot;Liberation Sans&quot;,sans-serif;font-size:9.3px;fill:#4a4a4a">160</text>
<text x="475.12" y="169.84" textLength="13.96" lengthAdjust="spacingAndGlyphs" style="font-family:&quot;Liberation Sans&quot;,sans-serif;font-size:9.3px;fill:#4a4a4a">180</text>
<text x="474.1" y="148.69" textLength="13.96" lengthAdjust="spacingAndGlyphs" style="font-family:&quot;Liberation Sans&quot;,sans-serif;font-size:9.3px;fill:#4a4a4a">200</text>
<text x="473.07" y="127.53" textLength="13.96" lengthAdjust="spacingAndGlyphs" style="font-family:&quot;Liberation Sans&quot;,sans-serif;font-size:9.3px;fill:#4a4a4a">220</text>
<text x="472.05" y="106.37" textLength="13.96" lengthAdjust="spacingAndGlyphs" style="font-family:&quot;Liberation Sans&quot;,sans-serif;font-size:9.3px;fill:#4a4a4a">240</text>
<text x="471.03" y="85.21" textLength="13.96" lengthAdjust="spacingAndGlyphs" style="font-family:&quot;Liberation Sans&quot;,sans-serif;font-size:9.3px;fill:#4a4a4a">260</text>
<text x="470.01" y="64.06" textLength="13.96" lengthAdjust="spacingAndGlyphs" style="font-family:&quot;Liberation Sans&quot;,sans-serif;font-size:9.3px;fill:#4a4a4a">280</text>
<text x="624.28" y="337.98" textLength="11.63" lengthAdjust="spacingAndGlyphs" style="font-family:&quot;Liberation Sans&quot;,sans-serif;font-size:9.3px;fill:#4a4a4a">0.2</text>
<text x="588.85" y="320.96" textLength="11.63" lengthAdjust="spacingAndGlyphs" style="font-family:&quot;Liberation Sans&quot;,sans-serif;font-size:9.3px;fill:#4a4a4a">0.3</text>
<text x="553.42" y="303.95" textLength="11.63" lengthAdjust="spacingAndGlyphs" style="font-family:&quot;Liberation Sans&quot;,sans-serif;font-size:9.3px;fill:#4a4a4a">0.4</text>
<text x="517.99" y="286.94" textLength="11.63" lengthAdjust="spacingAndGlyphs" style="font-family:&quot;Liberation Sans&quot;,sans-serif;font-size:9.3px;fill:#4a4a4a">0.5</text>
<text x="482.56" y="269.92" textLength="11.63" lengthAdjust="spacingAndGlyphs" style="font-family:&quot;Liberation Sans&quot;,sans-serif;font-size:9.3px;fill:#4a4a4a">0.6</text>
<text x="645.61" y="337.98" textLength="11.63" lengthAdjust="spacingAndGlyphs" style="font-family:&quot;Liberation Sans&quot;,sans-serif;font-size:9.3px;fill:#4a4a4a">0.8</text>
<text x="681.04" y="320.96" textLength="16.29" lengthAdjust="spacingAndGlyphs" style="font-family:&quot;Liberation Sans&quot;,sans-serif;font-size:9.3px;fill:#4a4a4a">1.35</text>
<text x="716.47" y="303.95" textLength="11.63" lengthAdjust="spacingAndGlyphs" style="font-family:&quot;Liberation Sans&quot;,sans-serif;font-size:9.3px;fill:#4a4a4a">1.9</text>
<text x="751.91" y="286.94" textLength="16.29" lengthAdjust="spacingAndGlyphs" style="font-family:&quot;Liberation Sans&quot;,sans-serif;font-size:9.3px;fill:#4a4a4a">2.45</text>
<text x="787.34" y="269.92" textLength="4.65" lengthAdjust="spacingAndGlyphs" style="font-family:&quot;Liberation Sans&quot;,sans-serif;font-size:9.3px;fill:#4a4a4a">3</text>
<text x="633.9" y="12.6" style="font-family:&quot;Liberation Serif&quot;,serif;font-size:16.5px;fill:#111;stroke:#111;stroke-width:0.25">b</text>
<text x="466.5" y="324.8" style="font-family:&quot;Liberation Serif&quot;,serif;font-size:10.85px;fill:#222">C: PAMAM (mg/mL)</text>
<text x="715" y="324.8" style="font-family:&quot;Liberation Serif&quot;,serif;font-size:10.85px;fill:#222">A: Bi<tspan dy="2.5" font-size="8px">2</tspan><tspan dy="-2.5">S</tspan><tspan dy="2.5" font-size="8px">3</tspan><tspan dy="-2.5"> (mg/mL)</tspan></text>
<text transform="translate(451,158.6) rotate(-90)" text-anchor="middle" style="font-family:&quot;Liberation Serif&quot;,serif;font-size:10.4px;fill:#222">Current (&#956;A)</text>
</svg></body></html>
